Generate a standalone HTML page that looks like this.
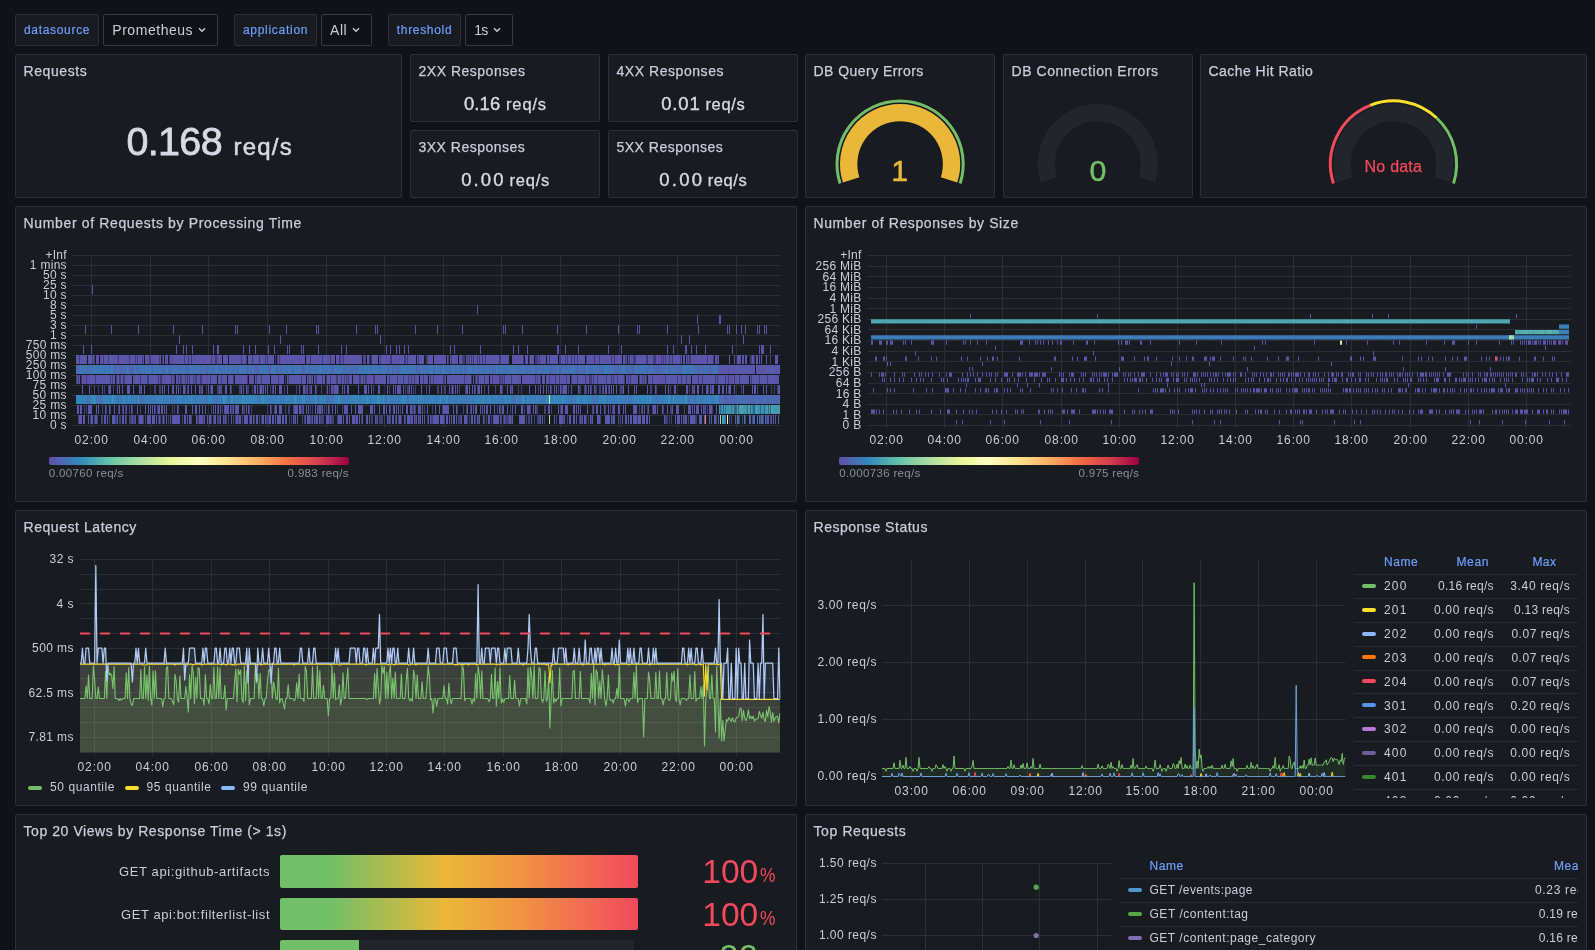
<!DOCTYPE html>
<html lang="en"><head><meta charset="utf-8"><title>Dashboard</title><style>
html,body{margin:0;padding:0;background:#111217;}
body{width:1595px;height:950px;overflow:hidden;position:relative;font-family:"Liberation Sans",sans-serif;}
#r{position:absolute;left:0;top:0;width:1595px;height:950px;overflow:hidden;background:#111217;will-change:transform;}
.p{position:absolute;box-sizing:border-box;background:#181b1f;border:1px solid #2e3036;border-radius:2px;}
.t{position:absolute;white-space:nowrap;line-height:1;display:block;}
.a{position:absolute;overflow:visible;}
.o{position:absolute;width:0;height:0;}
.vl{position:absolute;top:14px;height:32px;box-sizing:border-box;background:#181b1f;border:1px solid #2e3036;border-radius:2px;}
.vv{position:absolute;top:14px;height:32px;box-sizing:border-box;background:#111217;border:1px solid #383a42;border-radius:2px;}
svg text{font-family:"Liberation Sans",sans-serif;}
</style></head><body><div id="r">
<header class="o" style="left:0;top:0">
<div class="vl" style="left:15px;width:83.5px"></div>
<span class="t" style="left:24px;top:24.1px;font-size:12px;color:#6e9fff;letter-spacing:0.681px;-webkit-text-stroke:.2px #6e9fff;">datasource</span>
<div class="vv" style="left:103px;width:114.7px"></div>
<span class="t" style="left:112.3px;top:22.7px;font-size:14px;color:#ccccdc;letter-spacing:0.536px;">Prometheus</span>
<svg class="a" style="left:197px;top:26px" width="10" height="8" viewBox="0 0 10 8"><path d="M2 2.3 L5 5.3 L8 2.3" fill="none" stroke="#ccccdc" stroke-width="1.4"/></svg>
<div class="vl" style="left:234px;width:83px"></div>
<span class="t" style="left:242.9px;top:24.1px;font-size:12px;color:#6e9fff;letter-spacing:0.723px;-webkit-text-stroke:.2px #6e9fff;">application</span>
<div class="vv" style="left:321px;width:50.7px"></div>
<span class="t" style="left:330px;top:22.7px;font-size:14px;color:#ccccdc;letter-spacing:0.57px;">All</span>
<svg class="a" style="left:351.2px;top:26px" width="10" height="8" viewBox="0 0 10 8"><path d="M2 2.3 L5 5.3 L8 2.3" fill="none" stroke="#ccccdc" stroke-width="1.4"/></svg>
<div class="vl" style="left:388.3px;width:72.5px"></div>
<span class="t" style="left:396.8px;top:24.1px;font-size:12px;color:#6e9fff;letter-spacing:0.68px;-webkit-text-stroke:.2px #6e9fff;">threshold</span>
<div class="vv" style="left:465.3px;width:47.5px"></div>
<span class="t" style="left:474.2px;top:22.7px;font-size:14px;color:#ccccdc;letter-spacing:-0.785px;">1s</span>
<svg class="a" style="left:492px;top:26px" width="10" height="8" viewBox="0 0 10 8"><path d="M2 2.3 L5 5.3 L8 2.3" fill="none" stroke="#ccccdc" stroke-width="1.4"/></svg>
</header>
<section class="p" style="left:15px;top:54px;width:387px;height:144px"><div class="o" style="left:-16px;top:-55px">
<span class="t" style="left:23.5px;top:63.8px;font-size:14px;color:#ccccdc;letter-spacing:0.58px;-webkit-text-stroke:.25px #ccccdc;">Requests</span>
<span class="t" style="left:126.4px;top:121.75px;font-size:39.5px;color:#d8d9e4;letter-spacing:-0.659px;-webkit-text-stroke:.8px #d8d9e4;">0.168</span>
<span class="t" style="left:233.4px;top:135.1px;font-size:24px;color:#d8d9e4;letter-spacing:1.262px;-webkit-text-stroke:.5px #d8d9e4;">req/s</span>
</div></section>
<section class="p" style="left:410px;top:54px;width:190px;height:68px"><div class="o" style="left:-411px;top:-55px">
<span class="t" style="left:418.5px;top:63.8px;font-size:14px;color:#ccccdc;letter-spacing:0.509px;-webkit-text-stroke:.25px #ccccdc;">2XX Responses</span>
<span class="t" style="left:463.9px;top:94.65px;font-size:18.5px;color:#d8d9e4;letter-spacing:0.099px;-webkit-text-stroke:.4px #d8d9e4;">0.16</span>
<span class="t" style="left:506px;top:96.15px;font-size:16.5px;color:#d8d9e4;letter-spacing:0.855px;-webkit-text-stroke:.3px #d8d9e4;">req/s</span>
</div></section>
<section class="p" style="left:608px;top:54px;width:190px;height:68px"><div class="o" style="left:-609px;top:-55px">
<span class="t" style="left:616.5px;top:63.8px;font-size:14px;color:#ccccdc;letter-spacing:0.551px;-webkit-text-stroke:.25px #ccccdc;">4XX Responses</span>
<span class="t" style="left:661.3px;top:94.65px;font-size:18.5px;color:#d8d9e4;letter-spacing:0.789px;-webkit-text-stroke:.4px #d8d9e4;">0.01</span>
<span class="t" style="left:705.44px;top:96.15px;font-size:16.5px;color:#d8d9e4;letter-spacing:0.674px;-webkit-text-stroke:.3px #d8d9e4;">req/s</span>
</div></section>
<section class="p" style="left:410px;top:130px;width:190px;height:68px"><div class="o" style="left:-411px;top:-131px">
<span class="t" style="left:418.5px;top:139.8px;font-size:14px;color:#ccccdc;letter-spacing:0.493px;-webkit-text-stroke:.25px #ccccdc;">3XX Responses</span>
<span class="t" style="left:461.18px;top:170.65px;font-size:18.5px;color:#d8d9e4;letter-spacing:2.127px;-webkit-text-stroke:.4px #d8d9e4;">0.00</span>
<span class="t" style="left:509.58px;top:172.15px;font-size:16.5px;color:#d8d9e4;letter-spacing:0.736px;-webkit-text-stroke:.3px #d8d9e4;">req/s</span>
</div></section>
<section class="p" style="left:608px;top:130px;width:190px;height:68px"><div class="o" style="left:-609px;top:-131px">
<span class="t" style="left:616.5px;top:139.8px;font-size:14px;color:#ccccdc;letter-spacing:0.484px;-webkit-text-stroke:.25px #ccccdc;">5XX Responses</span>
<span class="t" style="left:659.29px;top:170.65px;font-size:18.5px;color:#d8d9e4;letter-spacing:2.21px;-webkit-text-stroke:.4px #d8d9e4;">0.00</span>
<span class="t" style="left:707.7px;top:172.15px;font-size:16.5px;color:#d8d9e4;letter-spacing:0.611px;-webkit-text-stroke:.3px #d8d9e4;">req/s</span>
</div></section>
<section class="p" style="left:805px;top:54px;width:190px;height:144px"><div class="o" style="left:-806px;top:-55px">
<span class="t" style="left:813.5px;top:63.8px;font-size:14px;color:#ccccdc;letter-spacing:0.453px;-webkit-text-stroke:.25px #ccccdc;">DB Query Errors</span>
<svg class="a" style="left:0;top:0" width="1595" height="210"><path d="M851.17 179.9 A51.45 51.45 0 1 1 949.03 179.9" fill="none" stroke="#22252b" stroke-width="17.3"/><path d="M851.17 179.9 A51.45 51.45 0 1 1 949.03 179.9" fill="none" stroke="#eab839" stroke-width="17.3"/><path d="M840.09 183.5 A63.1 63.1 0 1 1 960.11 183.5" fill="none" stroke="#73bf69" stroke-width="3"/></svg>
<span class="t" style="left:891.18px;top:156.35px;font-size:30.3px;color:#eab839;-webkit-text-stroke:.5px #eab839;">1</span>
</div></section>
<section class="p" style="left:1003px;top:54px;width:190px;height:144px"><div class="o" style="left:-1004px;top:-55px">
<span class="t" style="left:1011.5px;top:63.8px;font-size:14px;color:#ccccdc;letter-spacing:0.55px;-webkit-text-stroke:.25px #ccccdc;">DB Connection Errors</span>
<svg class="a" style="left:0;top:0" width="1595" height="210"><path d="M1048.77 179.9 A51.45 51.45 0 1 1 1146.63 179.9" fill="none" stroke="#22252b" stroke-width="17.3"/></svg>
<span class="t" style="left:1089.48px;top:156.35px;font-size:30.3px;color:#73bf69;-webkit-text-stroke:.5px #73bf69;">0</span>
</div></section>
<section class="p" style="left:1200px;top:54px;width:387px;height:144px"><div class="o" style="left:-1201px;top:-55px">
<span class="t" style="left:1208.5px;top:63.8px;font-size:14px;color:#ccccdc;letter-spacing:0.454px;-webkit-text-stroke:.25px #ccccdc;">Cache Hit Ratio</span>
<svg class="a" style="left:0;top:0" width="1595" height="210"><path d="M1344.57 179.9 A51.45 51.45 0 1 1 1442.43 179.9" fill="none" stroke="#22252b" stroke-width="17.3"/><path d="M1333.49 183.5 A63.1 63.1 0 0 1 1370.27 105.33" fill="none" stroke="#f2495c" stroke-width="3"/><path d="M1370.27 105.33 A63.1 63.1 0 0 1 1436.69 118" fill="none" stroke="#fade2a" stroke-width="3"/><path d="M1436.69 118 A63.1 63.1 0 0 1 1453.51 183.5" fill="none" stroke="#73bf69" stroke-width="3"/></svg>
<span class="t" style="left:1364.6px;top:159.4px;font-size:16px;color:#f2495c;letter-spacing:0.211px;-webkit-text-stroke:.25px #f2495c;">No data</span>
</div></section>
<section class="p" style="left:15px;top:206px;width:782px;height:296px"><div class="o" style="left:-16px;top:-207px">
<span class="t" style="left:23.5px;top:215.8px;font-size:14px;color:#ccccdc;letter-spacing:0.649px;-webkit-text-stroke:.25px #ccccdc;">Number of Requests by Processing Time</span>
<svg class="a" style="left:0;top:0" width="1595" height="950" viewBox="0 0 1595 950"><path d="M72 255.5H780.5M72 265.5H780.5M72 275.5H780.5M72 285.5H780.5M72 295.5H780.5M72 305.5H780.5M72 315.5H780.5M72 325.5H780.5M72 335.5H780.5M72 345.5H780.5M72 355.5H780.5M72 365.5H780.5M72 375.5H780.5M72 385.5H780.5M72 395.5H780.5M72 405.5H780.5M72 415.5H780.5M72 425.5H780.5M91.5 255.5V428.5M150.5 255.5V428.5M208.5 255.5V428.5M267.5 255.5V428.5M326.5 255.5V428.5M384.5 255.5V428.5M443.5 255.5V428.5M501.5 255.5V428.5M560.5 255.5V428.5M619.5 255.5V428.5M677.5 255.5V428.5M736.5 255.5V428.5" stroke="#2b2e33" stroke-width="1" fill="none"/><path fill="#5b57ac" d="M76 355h3v9h-3zM80 355h6v9h-6zM89 355h3v9h-3zM93 355h1v9h-1zM104 355h4v9h-4zM109 355h7v9h-7zM119 355h7v9h-7zM127 355h2v9h-2zM130 355h1v9h-1zM132 355h3v9h-3zM138 355h2v9h-2zM143 355h1v9h-1zM145 355h2v9h-2zM148 355h1v9h-1zM151 355h1v9h-1zM155 355h4v9h-4zM160 355h1v9h-1zM163 355h1v9h-1zM165 355h1v9h-1zM167 355h1v9h-1zM174 355h8v9h-8zM183 355h1v9h-1zM185 355h3v9h-3zM189 355h2v9h-2zM192 355h2v9h-2zM196 355h7v9h-7zM204 355h2v9h-2zM207 355h4v9h-4zM212 355h1v9h-1zM219 355h2v9h-2zM223 355h5v9h-5zM230 355h4v9h-4zM235 355h5v9h-5zM242 355h4v9h-4zM248 355h4v9h-4zM253 355h6v9h-6zM260 355h5v9h-5zM266 355h1v9h-1zM268 355h4v9h-4zM273 355h1v9h-1zM278 355h1v9h-1zM282 355h2v9h-2zM285 355h7v9h-7zM293 355h6v9h-6zM301 355h4v9h-4zM308 355h1v9h-1zM311 355h6v9h-6zM319 355h3v9h-3zM323 355h3v9h-3zM334 355h1v9h-1zM336 355h3v9h-3zM345 355h2v9h-2zM349 355h11v9h-11zM361 355h1v9h-1zM364 355h1v9h-1zM367 355h2v9h-2zM372 355h6v9h-6zM379 355h1v9h-1zM381 355h4v9h-4zM387 355h3v9h-3zM392 355h3v9h-3zM396 355h2v9h-2zM400 355h4v9h-4zM406 355h1v9h-1zM408 355h8v9h-8zM417 355h1v9h-1zM419 355h5v9h-5zM429 355h4v9h-4zM434 355h3v9h-3zM438 355h5v9h-5zM445 355h1v9h-1zM447 355h1v9h-1zM450 355h1v9h-1zM452 355h3v9h-3zM457 355h1v9h-1zM460 355h2v9h-2zM468 355h1v9h-1zM470 355h1v9h-1zM474 355h3v9h-3zM478 355h1v9h-1zM480 355h2v9h-2zM483 355h2v9h-2zM486 355h5v9h-5zM492 355h2v9h-2zM495 355h4v9h-4zM501 355h1v9h-1zM503 355h4v9h-4zM508 355h1v9h-1zM516 355h3v9h-3zM521 355h2v9h-2zM526 355h2v9h-2zM530 355h4v9h-4zM540 355h1v9h-1zM545 355h1v9h-1zM547 355h2v9h-2zM550 355h8v9h-8zM561 355h4v9h-4zM566 355h1v9h-1zM568 355h3v9h-3zM573 355h1v9h-1zM575 355h2v9h-2zM578 355h7v9h-7zM587 355h2v9h-2zM590 355h2v9h-2zM598 355h1v9h-1zM600 355h7v9h-7zM608 355h3v9h-3zM615 355h1v9h-1zM617 355h5v9h-5zM623 355h2v9h-2zM626 355h1v9h-1zM632 355h1v9h-1zM636 355h10v9h-10zM648 355h5v9h-5zM660 355h1v9h-1zM662 355h1v9h-1zM664 355h1v9h-1zM666 355h3v9h-3zM670 355h1v9h-1zM673 355h3v9h-3zM677 355h3v9h-3zM681 355h1v9h-1zM684 355h1v9h-1zM686 355h1v9h-1zM691 355h2v9h-2zM696 355h5v9h-5zM703 355h3v9h-3zM708 355h3v9h-3zM715 355h2v9h-2zM718 355h1v9h-1zM729 355h1v9h-1zM734 355h1v9h-1zM737 355h3v9h-3zM742 355h2v9h-2zM745 355h2v9h-2zM752 355h1v9h-1zM756 355h2v9h-2zM759 355h1v9h-1zM761 355h1v9h-1zM766 355h1v9h-1zM775 355h3v9h-3zM719 365h9v9h-9zM730 365h1v9h-1zM732 365h5v9h-5zM739 365h1v9h-1zM743 365h5v9h-5zM751 365h1v9h-1zM753 365h2v9h-2zM757 365h1v9h-1zM759 365h3v9h-3zM763 365h8v9h-8zM774 365h4v9h-4zM77 375h1v9h-1zM79 375h1v9h-1zM90 375h5v9h-5zM96 375h1v9h-1zM98 375h12v9h-12zM111 375h1v9h-1zM113 375h2v9h-2zM117 375h2v9h-2zM122 375h1v9h-1zM125 375h7v9h-7zM136 375h3v9h-3zM141 375h6v9h-6zM149 375h8v9h-8zM159 375h1v9h-1zM166 375h5v9h-5zM176 375h1v9h-1zM179 375h1v9h-1zM182 375h3v9h-3zM186 375h1v9h-1zM190 375h3v9h-3zM194 375h1v9h-1zM197 375h1v9h-1zM203 375h3v9h-3zM208 375h2v9h-2zM211 375h6v9h-6zM218 375h3v9h-3zM222 375h5v9h-5zM228 375h1v9h-1zM230 375h3v9h-3zM235 375h4v9h-4zM240 375h6v9h-6zM253 375h1v9h-1zM255 375h1v9h-1zM257 375h4v9h-4zM262 375h8v9h-8zM271 375h2v9h-2zM274 375h4v9h-4zM279 375h5v9h-5zM287 375h1v9h-1zM289 375h4v9h-4zM294 375h7v9h-7zM302 375h4v9h-4zM307 375h1v9h-1zM309 375h2v9h-2zM312 375h1v9h-1zM314 375h1v9h-1zM317 375h5v9h-5zM323 375h2v9h-2zM327 375h3v9h-3zM331 375h3v9h-3zM335 375h1v9h-1zM338 375h3v9h-3zM342 375h2v9h-2zM345 375h1v9h-1zM350 375h2v9h-2zM353 375h1v9h-1zM355 375h4v9h-4zM361 375h2v9h-2zM364 375h1v9h-1zM367 375h1v9h-1zM370 375h3v9h-3zM377 375h2v9h-2zM380 375h6v9h-6zM387 375h2v9h-2zM391 375h6v9h-6zM398 375h5v9h-5zM404 375h4v9h-4zM409 375h2v9h-2zM412 375h2v9h-2zM416 375h3v9h-3zM420 375h3v9h-3zM424 375h3v9h-3zM429 375h1v9h-1zM431 375h2v9h-2zM434 375h2v9h-2zM437 375h6v9h-6zM445 375h1v9h-1zM447 375h13v9h-13zM461 375h3v9h-3zM465 375h1v9h-1zM468 375h2v9h-2zM473 375h1v9h-1zM476 375h1v9h-1zM479 375h1v9h-1zM481 375h3v9h-3zM485 375h1v9h-1zM487 375h2v9h-2zM490 375h2v9h-2zM493 375h1v9h-1zM498 375h1v9h-1zM505 375h6v9h-6zM512 375h6v9h-6zM520 375h1v9h-1zM522 375h2v9h-2zM527 375h5v9h-5zM536 375h1v9h-1zM538 375h2v9h-2zM542 375h3v9h-3zM546 375h3v9h-3zM550 375h4v9h-4zM556 375h3v9h-3zM560 375h2v9h-2zM564 375h2v9h-2zM567 375h3v9h-3zM572 375h5v9h-5zM578 375h7v9h-7zM588 375h1v9h-1zM592 375h1v9h-1zM594 375h3v9h-3zM598 375h6v9h-6zM605 375h1v9h-1zM607 375h4v9h-4zM612 375h1v9h-1zM614 375h3v9h-3zM618 375h6v9h-6zM629 375h1v9h-1zM632 375h3v9h-3zM637 375h1v9h-1zM640 375h2v9h-2zM643 375h1v9h-1zM645 375h1v9h-1zM650 375h2v9h-2zM653 375h5v9h-5zM659 375h1v9h-1zM661 375h1v9h-1zM664 375h1v9h-1zM666 375h11v9h-11zM678 375h2v9h-2zM682 375h4v9h-4zM687 375h4v9h-4zM692 375h6v9h-6zM699 375h2v9h-2zM703 375h6v9h-6zM710 375h5v9h-5zM716 375h1v9h-1zM718 375h7v9h-7zM733 375h1v9h-1zM735 375h4v9h-4zM740 375h9v9h-9zM750 375h1v9h-1zM752 375h7v9h-7zM760 375h7v9h-7zM768 375h1v9h-1zM770 375h5v9h-5zM778 375h1v9h-1zM82 385h1v9h-1zM89 385h1v9h-1zM109 385h2v9h-2zM119 385h1v9h-1zM122 385h1v9h-1zM127 385h3v9h-3zM133 385h1v9h-1zM139 385h1v9h-1zM144 385h1v9h-1zM162 385h1v9h-1zM164 385h1v9h-1zM168 385h1v9h-1zM172 385h2v9h-2zM176 385h1v9h-1zM178 385h1v9h-1zM183 385h2v9h-2zM188 385h1v9h-1zM191 385h1v9h-1zM199 385h1v9h-1zM202 385h1v9h-1zM208 385h1v9h-1zM211 385h2v9h-2zM219 385h1v9h-1zM225 385h2v9h-2zM230 385h1v9h-1zM241 385h1v9h-1zM243 385h1v9h-1zM246 385h1v9h-1zM254 385h2v9h-2zM257 385h1v9h-1zM260 385h2v9h-2zM263 385h1v9h-1zM265 385h1v9h-1zM267 385h1v9h-1zM273 385h1v9h-1zM275 385h1v9h-1zM279 385h1v9h-1zM287 385h1v9h-1zM303 385h2v9h-2zM311 385h1v9h-1zM315 385h1v9h-1zM334 385h4v9h-4zM342 385h1v9h-1zM358 385h1v9h-1zM364 385h3v9h-3zM368 385h1v9h-1zM371 385h1v9h-1zM379 385h1v9h-1zM387 385h1v9h-1zM393 385h1v9h-1zM397 385h1v9h-1zM399 385h2v9h-2zM403 385h1v9h-1zM409 385h1v9h-1zM411 385h1v9h-1zM421 385h1v9h-1zM429 385h1v9h-1zM441 385h1v9h-1zM452 385h1v9h-1zM457 385h1v9h-1zM467 385h1v9h-1zM469 385h1v9h-1zM472 385h1v9h-1zM474 385h1v9h-1zM478 385h2v9h-2zM481 385h1v9h-1zM488 385h1v9h-1zM500 385h2v9h-2zM510 385h1v9h-1zM529 385h1v9h-1zM535 385h1v9h-1zM540 385h1v9h-1zM543 385h1v9h-1zM546 385h1v9h-1zM550 385h1v9h-1zM554 385h1v9h-1zM556 385h1v9h-1zM560 385h1v9h-1zM563 385h4v9h-4zM578 385h1v9h-1zM585 385h1v9h-1zM588 385h1v9h-1zM590 385h1v9h-1zM603 385h1v9h-1zM605 385h2v9h-2zM609 385h1v9h-1zM611 385h1v9h-1zM613 385h1v9h-1zM616 385h1v9h-1zM623 385h1v9h-1zM634 385h1v9h-1zM636 385h1v9h-1zM647 385h1v9h-1zM655 385h1v9h-1zM665 385h1v9h-1zM674 385h2v9h-2zM686 385h2v9h-2zM692 385h1v9h-1zM697 385h2v9h-2zM707 385h1v9h-1zM710 385h1v9h-1zM712 385h2v9h-2zM718 385h2v9h-2zM722 385h1v9h-1zM729 385h2v9h-2zM734 385h1v9h-1zM743 385h1v9h-1zM752 385h1v9h-1zM754 385h2v9h-2zM766 385h1v9h-1zM778 385h2v9h-2zM77 405h2v9h-2zM80 405h2v9h-2zM88 405h4v9h-4zM96 405h1v9h-1zM98 405h1v9h-1zM105 405h1v9h-1zM123 405h1v9h-1zM126 405h1v9h-1zM145 405h1v9h-1zM148 405h1v9h-1zM150 405h1v9h-1zM154 405h1v9h-1zM158 405h2v9h-2zM161 405h1v9h-1zM164 405h1v9h-1zM166 405h1v9h-1zM177 405h1v9h-1zM192 405h1v9h-1zM195 405h2v9h-2zM199 405h1v9h-1zM202 405h1v9h-1zM215 405h1v9h-1zM218 405h1v9h-1zM220 405h1v9h-1zM225 405h4v9h-4zM230 405h1v9h-1zM233 405h1v9h-1zM235 405h2v9h-2zM238 405h1v9h-1zM242 405h1v9h-1zM248 405h1v9h-1zM275 405h2v9h-2zM279 405h2v9h-2zM294 405h4v9h-4zM299 405h2v9h-2zM306 405h1v9h-1zM308 405h1v9h-1zM315 405h1v9h-1zM317 405h1v9h-1zM320 405h1v9h-1zM322 405h1v9h-1zM328 405h1v9h-1zM345 405h1v9h-1zM351 405h1v9h-1zM355 405h1v9h-1zM358 405h5v9h-5zM370 405h3v9h-3zM374 405h1v9h-1zM383 405h2v9h-2zM386 405h1v9h-1zM393 405h2v9h-2zM398 405h1v9h-1zM402 405h1v9h-1zM406 405h2v9h-2zM410 405h2v9h-2zM414 405h1v9h-1zM420 405h1v9h-1zM422 405h1v9h-1zM427 405h1v9h-1zM435 405h1v9h-1zM439 405h1v9h-1zM444 405h5v9h-5zM453 405h1v9h-1zM456 405h1v9h-1zM467 405h1v9h-1zM471 405h1v9h-1zM475 405h2v9h-2zM480 405h1v9h-1zM482 405h1v9h-1zM484 405h1v9h-1zM487 405h1v9h-1zM490 405h1v9h-1zM494 405h1v9h-1zM499 405h1v9h-1zM502 405h2v9h-2zM507 405h1v9h-1zM512 405h1v9h-1zM515 405h1v9h-1zM521 405h2v9h-2zM527 405h2v9h-2zM533 405h1v9h-1zM548 405h1v9h-1zM558 405h1v9h-1zM562 405h1v9h-1zM565 405h2v9h-2zM573 405h2v9h-2zM576 405h1v9h-1zM587 405h1v9h-1zM593 405h1v9h-1zM596 405h2v9h-2zM600 405h1v9h-1zM604 405h1v9h-1zM608 405h1v9h-1zM619 405h1v9h-1zM623 405h1v9h-1zM625 405h1v9h-1zM634 405h3v9h-3zM642 405h1v9h-1zM644 405h1v9h-1zM655 405h1v9h-1zM662 405h1v9h-1zM667 405h1v9h-1zM672 405h1v9h-1zM677 405h1v9h-1zM688 405h3v9h-3zM692 405h1v9h-1zM694 405h1v9h-1zM697 405h1v9h-1zM701 405h1v9h-1zM705 405h1v9h-1zM711 405h1v9h-1zM716 405h1v9h-1zM79 415h3v9h-3zM83 415h2v9h-2zM88 415h1v9h-1zM91 415h2v9h-2zM96 415h1v9h-1zM104 415h2v9h-2zM114 415h1v9h-1zM117 415h1v9h-1zM122 415h1v9h-1zM125 415h1v9h-1zM132 415h1v9h-1zM140 415h3v9h-3zM147 415h3v9h-3zM153 415h1v9h-1zM156 415h1v9h-1zM159 415h1v9h-1zM166 415h1v9h-1zM170 415h1v9h-1zM172 415h5v9h-5zM178 415h2v9h-2zM184 415h2v9h-2zM187 415h1v9h-1zM189 415h2v9h-2zM204 415h1v9h-1zM207 415h1v9h-1zM209 415h2v9h-2zM223 415h1v9h-1zM225 415h1v9h-1zM231 415h1v9h-1zM236 415h2v9h-2zM239 415h2v9h-2zM245 415h2v9h-2zM250 415h2v9h-2zM253 415h1v9h-1zM256 415h1v9h-1zM262 415h1v9h-1zM265 415h1v9h-1zM269 415h1v9h-1zM272 415h2v9h-2zM275 415h1v9h-1zM277 415h4v9h-4zM285 415h2v9h-2zM293 415h1v9h-1zM295 415h1v9h-1zM297 415h1v9h-1zM305 415h1v9h-1zM308 415h1v9h-1zM316 415h2v9h-2zM326 415h3v9h-3zM330 415h1v9h-1zM338 415h2v9h-2zM346 415h1v9h-1zM352 415h3v9h-3zM356 415h1v9h-1zM362 415h1v9h-1zM366 415h2v9h-2zM369 415h1v9h-1zM375 415h1v9h-1zM377 415h1v9h-1zM387 415h1v9h-1zM389 415h1v9h-1zM392 415h1v9h-1zM396 415h1v9h-1zM400 415h1v9h-1zM404 415h1v9h-1zM409 415h1v9h-1zM411 415h2v9h-2zM414 415h1v9h-1zM416 415h1v9h-1zM418 415h1v9h-1zM420 415h1v9h-1zM422 415h1v9h-1zM424 415h1v9h-1zM428 415h1v9h-1zM433 415h6v9h-6zM442 415h2v9h-2zM446 415h2v9h-2zM449 415h1v9h-1zM461 415h1v9h-1zM464 415h3v9h-3zM471 415h2v9h-2zM474 415h1v9h-1zM479 415h1v9h-1zM488 415h2v9h-2zM493 415h6v9h-6zM500 415h1v9h-1zM504 415h1v9h-1zM509 415h1v9h-1zM519 415h2v9h-2zM522 415h3v9h-3zM531 415h1v9h-1zM554 415h1v9h-1zM559 415h4v9h-4zM564 415h1v9h-1zM569 415h2v9h-2zM573 415h2v9h-2zM576 415h1v9h-1zM580 415h1v9h-1zM582 415h1v9h-1zM584 415h2v9h-2zM592 415h1v9h-1zM598 415h2v9h-2zM605 415h2v9h-2zM609 415h1v9h-1zM611 415h1v9h-1zM613 415h2v9h-2zM625 415h2v9h-2zM628 415h1v9h-1zM630 415h2v9h-2zM634 415h2v9h-2zM638 415h1v9h-1zM640 415h1v9h-1zM642 415h3v9h-3zM646 415h2v9h-2zM649 415h1v9h-1zM664 415h1v9h-1zM675 415h1v9h-1zM677 415h3v9h-3zM681 415h1v9h-1zM685 415h2v9h-2zM690 415h5v9h-5zM699 415h3v9h-3zM705 415h1v9h-1zM709 415h1v9h-1zM711 415h1v9h-1zM767 415h2v9h-2zM771 415h1v9h-1zM773 415h1v9h-1zM775 415h1v9h-1zM778 415h1v9h-1z"/><path fill="#414076" d="M79 355h1v9h-1zM92 355h1v9h-1zM94 355h1v9h-1zM103 355h1v9h-1zM108 355h1v9h-1zM129 355h1v9h-1zM135 355h1v9h-1zM137 355h1v9h-1zM149 355h2v9h-2zM159 355h1v9h-1zM162 355h1v9h-1zM169 355h1v9h-1zM184 355h1v9h-1zM188 355h1v9h-1zM191 355h1v9h-1zM211 355h1v9h-1zM215 355h1v9h-1zM241 355h1v9h-1zM246 355h1v9h-1zM252 355h1v9h-1zM265 355h1v9h-1zM267 355h1v9h-1zM275 355h1v9h-1zM277 355h1v9h-1zM279 355h1v9h-1zM322 355h1v9h-1zM330 355h1v9h-1zM339 355h2v9h-2zM363 355h1v9h-1zM365 355h1v9h-1zM369 355h1v9h-1zM371 355h1v9h-1zM380 355h1v9h-1zM391 355h1v9h-1zM404 355h2v9h-2zM418 355h1v9h-1zM426 355h2v9h-2zM448 355h1v9h-1zM451 355h1v9h-1zM462 355h2v9h-2zM467 355h1v9h-1zM469 355h1v9h-1zM471 355h1v9h-1zM477 355h1v9h-1zM479 355h1v9h-1zM482 355h1v9h-1zM500 355h1v9h-1zM523 355h1v9h-1zM529 355h1v9h-1zM535 355h3v9h-3zM539 355h1v9h-1zM549 355h1v9h-1zM559 355h2v9h-2zM565 355h1v9h-1zM567 355h1v9h-1zM574 355h1v9h-1zM577 355h1v9h-1zM586 355h1v9h-1zM599 355h1v9h-1zM611 355h1v9h-1zM625 355h1v9h-1zM633 355h3v9h-3zM646 355h2v9h-2zM653 355h2v9h-2zM661 355h1v9h-1zM663 355h1v9h-1zM665 355h1v9h-1zM669 355h1v9h-1zM672 355h1v9h-1zM680 355h1v9h-1zM687 355h1v9h-1zM690 355h1v9h-1zM707 355h1v9h-1zM713 355h1v9h-1zM717 355h1v9h-1zM750 355h2v9h-2zM754 355h1v9h-1zM770 355h1v9h-1zM76 375h1v9h-1zM78 375h1v9h-1zM95 375h1v9h-1zM110 375h1v9h-1zM112 375h1v9h-1zM116 375h1v9h-1zM123 375h2v9h-2zM147 375h2v9h-2zM160 375h1v9h-1zM171 375h1v9h-1zM180 375h2v9h-2zM185 375h1v9h-1zM189 375h1v9h-1zM193 375h1v9h-1zM195 375h2v9h-2zM210 375h1v9h-1zM221 375h1v9h-1zM233 375h1v9h-1zM256 375h1v9h-1zM261 375h1v9h-1zM278 375h1v9h-1zM285 375h1v9h-1zM288 375h1v9h-1zM301 375h1v9h-1zM308 375h1v9h-1zM311 375h1v9h-1zM315 375h2v9h-2zM322 375h1v9h-1zM326 375h1v9h-1zM330 375h1v9h-1zM336 375h2v9h-2zM341 375h1v9h-1zM344 375h1v9h-1zM346 375h1v9h-1zM359 375h2v9h-2zM363 375h1v9h-1zM365 375h2v9h-2zM373 375h2v9h-2zM389 375h1v9h-1zM397 375h1v9h-1zM403 375h1v9h-1zM408 375h1v9h-1zM411 375h1v9h-1zM430 375h1v9h-1zM433 375h1v9h-1zM443 375h2v9h-2zM464 375h1v9h-1zM475 375h1v9h-1zM477 375h2v9h-2zM484 375h1v9h-1zM499 375h2v9h-2zM504 375h1v9h-1zM511 375h1v9h-1zM535 375h1v9h-1zM537 375h1v9h-1zM540 375h1v9h-1zM549 375h1v9h-1zM555 375h1v9h-1zM559 375h1v9h-1zM566 375h1v9h-1zM571 375h1v9h-1zM577 375h1v9h-1zM589 375h3v9h-3zM593 375h1v9h-1zM597 375h1v9h-1zM606 375h1v9h-1zM611 375h1v9h-1zM613 375h1v9h-1zM617 375h1v9h-1zM624 375h1v9h-1zM628 375h1v9h-1zM639 375h1v9h-1zM642 375h1v9h-1zM644 375h1v9h-1zM646 375h1v9h-1zM652 375h1v9h-1zM665 375h1v9h-1zM677 375h1v9h-1zM681 375h1v9h-1zM686 375h1v9h-1zM698 375h1v9h-1zM702 375h1v9h-1zM715 375h1v9h-1zM717 375h1v9h-1zM728 375h1v9h-1zM739 375h1v9h-1zM751 375h1v9h-1zM759 375h1v9h-1zM767 375h1v9h-1zM94 385h1v9h-1zM104 385h1v9h-1zM108 385h1v9h-1zM113 385h1v9h-1zM155 385h1v9h-1zM159 385h2v9h-2zM180 385h1v9h-1zM185 385h1v9h-1zM187 385h1v9h-1zM200 385h2v9h-2zM210 385h1v9h-1zM220 385h1v9h-1zM231 385h1v9h-1zM239 385h1v9h-1zM247 385h2v9h-2zM252 385h1v9h-1zM259 385h1v9h-1zM262 385h1v9h-1zM270 385h1v9h-1zM272 385h1v9h-1zM296 385h1v9h-1zM305 385h1v9h-1zM310 385h1v9h-1zM316 385h1v9h-1zM321 385h1v9h-1zM333 385h1v9h-1zM338 385h1v9h-1zM373 385h1v9h-1zM389 385h1v9h-1zM405 385h1v9h-1zM408 385h1v9h-1zM413 385h1v9h-1zM415 385h1v9h-1zM426 385h1v9h-1zM438 385h1v9h-1zM445 385h1v9h-1zM451 385h1v9h-1zM453 385h1v9h-1zM459 385h1v9h-1zM465 385h1v9h-1zM475 385h1v9h-1zM477 385h1v9h-1zM484 385h1v9h-1zM495 385h1v9h-1zM511 385h1v9h-1zM518 385h1v9h-1zM521 385h1v9h-1zM538 385h1v9h-1zM548 385h1v9h-1zM551 385h1v9h-1zM558 385h1v9h-1zM561 385h2v9h-2zM568 385h1v9h-1zM579 385h2v9h-2zM584 385h1v9h-1zM586 385h1v9h-1zM591 385h1v9h-1zM599 385h2v9h-2zM602 385h1v9h-1zM608 385h1v9h-1zM620 385h3v9h-3zM650 385h2v9h-2zM670 385h1v9h-1zM693 385h1v9h-1zM708 385h1v9h-1zM711 385h1v9h-1zM728 385h1v9h-1zM757 385h1v9h-1zM771 385h1v9h-1zM777 385h1v9h-1zM84 405h1v9h-1zM86 405h1v9h-1zM102 405h1v9h-1zM106 405h1v9h-1zM110 405h1v9h-1zM118 405h1v9h-1zM122 405h1v9h-1zM140 405h1v9h-1zM155 405h1v9h-1zM157 405h1v9h-1zM172 405h1v9h-1zM174 405h1v9h-1zM178 405h1v9h-1zM211 405h1v9h-1zM217 405h1v9h-1zM222 405h1v9h-1zM231 405h2v9h-2zM243 405h2v9h-2zM249 405h1v9h-1zM267 405h1v9h-1zM271 405h1v9h-1zM274 405h1v9h-1zM285 405h1v9h-1zM288 405h2v9h-2zM293 405h1v9h-1zM301 405h1v9h-1zM312 405h1v9h-1zM318 405h1v9h-1zM321 405h1v9h-1zM324 405h1v9h-1zM326 405h1v9h-1zM329 405h1v9h-1zM337 405h1v9h-1zM342 405h1v9h-1zM390 405h1v9h-1zM400 405h1v9h-1zM412 405h2v9h-2zM415 405h1v9h-1zM424 405h1v9h-1zM432 405h1v9h-1zM442 405h1v9h-1zM457 405h1v9h-1zM463 405h1v9h-1zM466 405h1v9h-1zM470 405h1v9h-1zM497 405h1v9h-1zM500 405h1v9h-1zM510 405h1v9h-1zM524 405h1v9h-1zM530 405h1v9h-1zM544 405h2v9h-2zM592 405h1v9h-1zM605 405h1v9h-1zM610 405h1v9h-1zM612 405h1v9h-1zM641 405h1v9h-1zM647 405h1v9h-1zM652 405h1v9h-1zM663 405h1v9h-1zM671 405h1v9h-1zM684 405h1v9h-1zM707 405h1v9h-1zM78 415h1v9h-1zM90 415h1v9h-1zM94 415h1v9h-1zM97 415h1v9h-1zM102 415h1v9h-1zM109 415h1v9h-1zM115 415h2v9h-2zM126 415h1v9h-1zM131 415h1v9h-1zM133 415h2v9h-2zM138 415h1v9h-1zM143 415h1v9h-1zM160 415h1v9h-1zM162 415h1v9h-1zM164 415h1v9h-1zM168 415h1v9h-1zM182 415h1v9h-1zM191 415h1v9h-1zM197 415h2v9h-2zM203 415h1v9h-1zM211 415h1v9h-1zM219 415h1v9h-1zM224 415h1v9h-1zM226 415h1v9h-1zM228 415h1v9h-1zM233 415h1v9h-1zM235 415h1v9h-1zM238 415h1v9h-1zM242 415h1v9h-1zM249 415h1v9h-1zM254 415h1v9h-1zM261 415h1v9h-1zM266 415h3v9h-3zM291 415h1v9h-1zM294 415h1v9h-1zM304 415h1v9h-1zM315 415h1v9h-1zM323 415h1v9h-1zM329 415h1v9h-1zM331 415h3v9h-3zM337 415h1v9h-1zM355 415h1v9h-1zM361 415h1v9h-1zM371 415h2v9h-2zM376 415h1v9h-1zM379 415h3v9h-3zM384 415h1v9h-1zM388 415h1v9h-1zM390 415h1v9h-1zM395 415h1v9h-1zM398 415h1v9h-1zM401 415h1v9h-1zM415 415h1v9h-1zM427 415h1v9h-1zM432 415h1v9h-1zM444 415h1v9h-1zM458 415h3v9h-3zM467 415h1v9h-1zM469 415h1v9h-1zM475 415h1v9h-1zM478 415h1v9h-1zM484 415h1v9h-1zM486 415h1v9h-1zM491 415h1v9h-1zM501 415h1v9h-1zM503 415h1v9h-1zM505 415h4v9h-4zM511 415h1v9h-1zM537 415h2v9h-2zM544 415h1v9h-1zM556 415h1v9h-1zM563 415h1v9h-1zM567 415h1v9h-1zM579 415h1v9h-1zM581 415h1v9h-1zM588 415h1v9h-1zM591 415h1v9h-1zM620 415h1v9h-1zM637 415h1v9h-1zM665 415h3v9h-3zM669 415h1v9h-1zM671 415h1v9h-1zM684 415h1v9h-1zM695 415h2v9h-2zM766 415h1v9h-1zM770 415h1v9h-1z"/><path fill="#6150a9" d="M86 355h1v9h-1zM88 355h1v9h-1zM96 355h3v9h-3zM100 355h3v9h-3zM116 355h2v9h-2zM126 355h1v9h-1zM131 355h1v9h-1zM136 355h1v9h-1zM140 355h2v9h-2zM147 355h1v9h-1zM152 355h3v9h-3zM166 355h1v9h-1zM170 355h4v9h-4zM182 355h1v9h-1zM194 355h2v9h-2zM203 355h1v9h-1zM206 355h1v9h-1zM213 355h2v9h-2zM217 355h2v9h-2zM221 355h1v9h-1zM229 355h1v9h-1zM234 355h1v9h-1zM240 355h1v9h-1zM272 355h1v9h-1zM280 355h2v9h-2zM284 355h1v9h-1zM292 355h1v9h-1zM299 355h2v9h-2zM306 355h2v9h-2zM309 355h1v9h-1zM317 355h2v9h-2zM326 355h4v9h-4zM331 355h3v9h-3zM341 355h2v9h-2zM344 355h1v9h-1zM347 355h2v9h-2zM360 355h1v9h-1zM385 355h2v9h-2zM395 355h1v9h-1zM398 355h2v9h-2zM428 355h1v9h-1zM437 355h1v9h-1zM443 355h2v9h-2zM455 355h2v9h-2zM459 355h1v9h-1zM466 355h1v9h-1zM472 355h1v9h-1zM491 355h1v9h-1zM494 355h1v9h-1zM502 355h1v9h-1zM507 355h1v9h-1zM512 355h4v9h-4zM519 355h2v9h-2zM525 355h1v9h-1zM538 355h1v9h-1zM541 355h4v9h-4zM572 355h1v9h-1zM589 355h1v9h-1zM592 355h2v9h-2zM595 355h3v9h-3zM607 355h1v9h-1zM612 355h2v9h-2zM616 355h1v9h-1zM628 355h1v9h-1zM630 355h2v9h-2zM656 355h4v9h-4zM671 355h1v9h-1zM676 355h1v9h-1zM683 355h1v9h-1zM688 355h1v9h-1zM693 355h3v9h-3zM701 355h2v9h-2zM706 355h1v9h-1zM711 355h2v9h-2zM740 355h1v9h-1zM753 355h1v9h-1zM728 365h2v9h-2zM752 365h1v9h-1zM758 365h1v9h-1zM762 365h1v9h-1zM82 375h4v9h-4zM87 375h3v9h-3zM97 375h1v9h-1zM121 375h1v9h-1zM133 375h3v9h-3zM139 375h1v9h-1zM157 375h1v9h-1zM162 375h4v9h-4zM172 375h2v9h-2zM177 375h1v9h-1zM188 375h1v9h-1zM198 375h2v9h-2zM202 375h1v9h-1zM206 375h2v9h-2zM229 375h1v9h-1zM239 375h1v9h-1zM246 375h1v9h-1zM249 375h4v9h-4zM273 375h1v9h-1zM293 375h1v9h-1zM334 375h1v9h-1zM347 375h1v9h-1zM349 375h1v9h-1zM354 375h1v9h-1zM368 375h2v9h-2zM375 375h2v9h-2zM379 375h1v9h-1zM390 375h1v9h-1zM415 375h1v9h-1zM427 375h1v9h-1zM436 375h1v9h-1zM460 375h1v9h-1zM466 375h2v9h-2zM470 375h1v9h-1zM480 375h1v9h-1zM486 375h1v9h-1zM494 375h4v9h-4zM501 375h1v9h-1zM503 375h1v9h-1zM518 375h2v9h-2zM524 375h3v9h-3zM532 375h3v9h-3zM554 375h1v9h-1zM562 375h2v9h-2zM586 375h2v9h-2zM604 375h1v9h-1zM626 375h2v9h-2zM631 375h1v9h-1zM635 375h2v9h-2zM648 375h2v9h-2zM658 375h1v9h-1zM660 375h1v9h-1zM662 375h2v9h-2zM680 375h1v9h-1zM701 375h1v9h-1zM709 375h1v9h-1zM726 375h2v9h-2zM729 375h4v9h-4zM769 375h1v9h-1zM775 375h3v9h-3zM102 385h1v9h-1zM117 385h1v9h-1zM141 385h1v9h-1zM195 385h1v9h-1zM221 385h1v9h-1zM280 385h2v9h-2zM299 385h1v9h-1zM307 385h1v9h-1zM327 385h1v9h-1zM331 385h2v9h-2zM344 385h1v9h-1zM347 385h2v9h-2zM395 385h1v9h-1zM398 385h1v9h-1zM449 385h1v9h-1zM455 385h1v9h-1zM466 385h1v9h-1zM507 385h1v9h-1zM512 385h1v9h-1zM571 385h1v9h-1zM594 385h1v9h-1zM628 385h1v9h-1zM694 385h1v9h-1zM702 385h1v9h-1zM706 385h1v9h-1zM723 385h1v9h-1zM726 385h1v9h-1zM763 385h1v9h-1zM109 405h1v9h-1zM114 405h1v9h-1zM119 405h1v9h-1zM131 405h1v9h-1zM137 405h1v9h-1zM152 405h1v9h-1zM162 405h1v9h-1zM185 405h2v9h-2zM205 405h1v9h-1zM213 405h1v9h-1zM224 405h1v9h-1zM237 405h1v9h-1zM246 405h1v9h-1zM270 405h1v9h-1zM281 405h1v9h-1zM303 405h1v9h-1zM332 405h1v9h-1zM344 405h1v9h-1zM346 405h2v9h-2zM379 405h1v9h-1zM389 405h1v9h-1zM396 405h1v9h-1zM418 405h2v9h-2zM473 405h1v9h-1zM486 405h1v9h-1zM529 405h1v9h-1zM535 405h1v9h-1zM549 405h1v9h-1zM561 405h1v9h-1zM567 405h1v9h-1zM578 405h1v9h-1zM580 405h1v9h-1zM613 405h2v9h-2zM618 405h1v9h-1zM633 405h1v9h-1zM648 405h1v9h-1zM653 405h2v9h-2zM657 405h1v9h-1zM676 405h1v9h-1zM678 405h1v9h-1zM696 405h1v9h-1zM698 405h1v9h-1zM703 405h1v9h-1zM709 405h2v9h-2zM135 415h1v9h-1zM139 415h1v9h-1zM163 415h1v9h-1zM177 415h1v9h-1zM199 415h4v9h-4zM247 415h1v9h-1zM347 415h1v9h-1zM349 415h1v9h-1zM636 415h1v9h-1zM83 345h1v9h-1zM91 345h1v9h-1zM176 345h1v9h-1zM183 345h1v9h-1zM186 345h1v9h-1zM192 345h1v9h-1zM213 345h1v9h-1zM217 345h1v9h-1zM218 345h1v9h-1zM243 345h1v9h-1zM249 345h1v9h-1zM255 345h1v9h-1zM268 345h1v9h-1zM274 345h1v9h-1zM287 345h1v9h-1zM289 345h1v9h-1zM301 345h1v9h-1zM303 345h1v9h-1zM318 345h1v9h-1zM341 345h1v9h-1zM346 345h1v9h-1zM386 345h1v9h-1zM390 345h1v9h-1zM396 345h1v9h-1zM399 345h1v9h-1zM404 345h1v9h-1zM408 345h1v9h-1zM450 345h1v9h-1zM454 345h1v9h-1zM480 345h1v9h-1zM513 345h1v9h-1zM518 345h1v9h-1zM527 345h1v9h-1zM557 345h1v9h-1zM558 345h1v9h-1zM565 345h1v9h-1zM578 345h1v9h-1zM608 345h1v9h-1zM621 345h1v9h-1zM667 345h1v9h-1zM673 345h1v9h-1zM685 345h1v9h-1zM686 345h1v9h-1zM691 345h1v9h-1zM696 345h1v9h-1zM705 345h1v9h-1zM732 345h1v9h-1zM759 345h1v9h-1zM761 345h1v9h-1zM762 345h1v9h-1zM763 345h1v9h-1zM770 345h1v9h-1zM179 335h1v9h-1zM280 335h1v9h-1zM380 335h1v9h-1zM681 335h1v9h-1zM689 335h1v9h-1zM743 335h1v9h-1zM85 325h1v9h-1zM111 325h1v9h-1zM138 325h1v9h-1zM173 325h1v9h-1zM202 325h1v9h-1zM235 325h1v9h-1zM237 325h1v9h-1zM269 325h1v9h-1zM286 325h1v9h-1zM316 325h1v9h-1zM318 325h1v9h-1zM356 325h1v9h-1zM375 325h1v9h-1zM377 325h1v9h-1zM415 325h1v9h-1zM437 325h1v9h-1zM462 325h1v9h-1zM503 325h1v9h-1zM505 325h1v9h-1zM522 325h1v9h-1zM557 325h1v9h-1zM586 325h1v9h-1zM618 325h1v9h-1zM637 325h1v9h-1zM639 325h1v9h-1zM667 325h1v9h-1zM698 325h1v9h-1zM727 325h1v9h-1zM729 325h1v9h-1zM757 325h1v9h-1zM759 325h1v9h-1zM736 325h1v9h-1zM741 325h1v9h-1zM745 325h1v9h-1zM764 325h1v9h-1zM766 325h1v9h-1zM92 285h1v9h-1zM477 305h1v9h-1zM697 315h1v9h-1zM719 315h2v9h-2z"/><path fill="#453b74" d="M118 355h1v9h-1zM142 355h1v9h-1zM216 355h1v9h-1zM259 355h1v9h-1zM310 355h1v9h-1zM343 355h1v9h-1zM390 355h1v9h-1zM407 355h1v9h-1zM464 355h1v9h-1zM473 355h1v9h-1zM485 355h1v9h-1zM499 355h1v9h-1zM571 355h1v9h-1zM594 355h1v9h-1zM614 355h1v9h-1zM629 355h1v9h-1zM655 355h1v9h-1zM689 355h1v9h-1zM81 375h1v9h-1zM86 375h1v9h-1zM119 375h2v9h-2zM140 375h1v9h-1zM158 375h1v9h-1zM161 375h1v9h-1zM174 375h1v9h-1zM178 375h1v9h-1zM187 375h1v9h-1zM200 375h2v9h-2zM247 375h1v9h-1zM348 375h1v9h-1zM414 375h1v9h-1zM423 375h1v9h-1zM471 375h1v9h-1zM492 375h1v9h-1zM502 375h1v9h-1zM585 375h1v9h-1zM630 375h1v9h-1zM725 375h1v9h-1zM734 375h1v9h-1zM98 385h1v9h-1zM140 385h1v9h-1zM154 385h1v9h-1zM206 385h1v9h-1zM217 385h2v9h-2zM240 385h1v9h-1zM284 385h1v9h-1zM306 385h1v9h-1zM309 385h1v9h-1zM329 385h1v9h-1zM407 385h1v9h-1zM437 385h1v9h-1zM444 385h1v9h-1zM502 385h1v9h-1zM595 385h2v9h-2zM656 385h1v9h-1zM689 385h1v9h-1zM741 385h1v9h-1zM774 385h1v9h-1zM125 405h1v9h-1zM129 405h1v9h-1zM132 405h1v9h-1zM251 405h1v9h-1zM302 405h1v9h-1zM310 405h1v9h-1zM536 405h2v9h-2zM551 405h1v9h-1zM560 405h1v9h-1zM639 405h1v9h-1zM670 405h1v9h-1zM704 405h1v9h-1zM712 405h1v9h-1zM119 415h2v9h-2zM158 415h1v9h-1zM526 415h1v9h-1zM534 415h1v9h-1zM586 415h1v9h-1z"/><path fill="#4473b6" d="M76 365h1v9h-1zM82 365h5v9h-5zM90 365h4v9h-4zM96 365h1v9h-1zM104 365h3v9h-3zM108 365h1v9h-1zM110 365h1v9h-1zM117 365h2v9h-2zM123 365h1v9h-1zM126 365h1v9h-1zM128 365h1v9h-1zM134 365h1v9h-1zM139 365h2v9h-2zM145 365h1v9h-1zM147 365h2v9h-2zM153 365h1v9h-1zM155 365h7v9h-7zM165 365h1v9h-1zM172 365h5v9h-5zM179 365h1v9h-1zM189 365h1v9h-1zM193 365h3v9h-3zM197 365h3v9h-3zM201 365h1v9h-1zM203 365h2v9h-2zM209 365h3v9h-3zM220 365h2v9h-2zM223 365h1v9h-1zM225 365h1v9h-1zM227 365h1v9h-1zM229 365h1v9h-1zM231 365h1v9h-1zM235 365h2v9h-2zM238 365h3v9h-3zM242 365h4v9h-4zM250 365h1v9h-1zM252 365h1v9h-1zM260 365h1v9h-1zM262 365h2v9h-2zM266 365h1v9h-1zM271 365h1v9h-1zM275 365h1v9h-1zM279 365h1v9h-1zM282 365h1v9h-1zM287 365h1v9h-1zM290 365h1v9h-1zM296 365h1v9h-1zM298 365h2v9h-2zM305 365h4v9h-4zM311 365h6v9h-6zM318 365h1v9h-1zM323 365h5v9h-5zM334 365h1v9h-1zM337 365h2v9h-2zM340 365h2v9h-2zM348 365h1v9h-1zM353 365h2v9h-2zM358 365h1v9h-1zM360 365h3v9h-3zM366 365h1v9h-1zM370 365h1v9h-1zM372 365h1v9h-1zM375 365h2v9h-2zM378 365h1v9h-1zM385 365h2v9h-2zM390 365h2v9h-2zM394 365h1v9h-1zM400 365h1v9h-1zM404 365h4v9h-4zM410 365h3v9h-3zM415 365h1v9h-1zM420 365h1v9h-1zM422 365h1v9h-1zM424 365h1v9h-1zM427 365h2v9h-2zM435 365h1v9h-1zM437 365h3v9h-3zM442 365h1v9h-1zM444 365h1v9h-1zM447 365h2v9h-2zM451 365h2v9h-2zM462 365h2v9h-2zM466 365h1v9h-1zM468 365h2v9h-2zM474 365h1v9h-1zM476 365h2v9h-2zM479 365h1v9h-1zM481 365h2v9h-2zM485 365h1v9h-1zM487 365h2v9h-2zM490 365h2v9h-2zM495 365h1v9h-1zM497 365h1v9h-1zM499 365h2v9h-2zM505 365h3v9h-3zM510 365h1v9h-1zM513 365h1v9h-1zM515 365h3v9h-3zM521 365h1v9h-1zM524 365h1v9h-1zM528 365h1v9h-1zM532 365h1v9h-1zM534 365h1v9h-1zM538 365h2v9h-2zM541 365h1v9h-1zM543 365h1v9h-1zM545 365h1v9h-1zM547 365h2v9h-2zM553 365h1v9h-1zM557 365h2v9h-2zM568 365h2v9h-2zM571 365h1v9h-1zM573 365h3v9h-3zM579 365h1v9h-1zM585 365h1v9h-1zM588 365h1v9h-1zM600 365h1v9h-1zM603 365h1v9h-1zM609 365h4v9h-4zM625 365h1v9h-1zM629 365h1v9h-1zM637 365h1v9h-1zM640 365h1v9h-1zM642 365h1v9h-1zM645 365h1v9h-1zM649 365h4v9h-4zM662 365h1v9h-1zM665 365h2v9h-2zM671 365h2v9h-2zM674 365h2v9h-2zM682 365h1v9h-1zM685 365h2v9h-2zM688 365h2v9h-2zM693 365h1v9h-1zM705 365h1v9h-1zM708 365h1v9h-1zM714 365h3v9h-3zM86 395h3v9h-3zM99 395h4v9h-4zM117 395h2v9h-2zM126 395h1v9h-1zM131 395h1v9h-1zM136 395h1v9h-1zM140 395h2v9h-2zM154 395h1v9h-1zM166 395h1v9h-1zM170 395h2v9h-2zM182 395h1v9h-1zM194 395h2v9h-2zM203 395h1v9h-1zM206 395h1v9h-1zM213 395h2v9h-2zM216 395h2v9h-2zM221 395h1v9h-1zM280 395h2v9h-2zM284 395h1v9h-1zM299 395h1v9h-1zM306 395h1v9h-1zM309 395h1v9h-1zM317 395h1v9h-1zM328 395h2v9h-2zM331 395h2v9h-2zM343 395h2v9h-2zM347 395h1v9h-1zM385 395h2v9h-2zM390 395h1v9h-1zM395 395h1v9h-1zM398 395h1v9h-1zM407 395h1v9h-1zM449 395h1v9h-1zM455 395h2v9h-2zM466 395h1v9h-1zM473 395h1v9h-1zM491 395h1v9h-1zM494 395h1v9h-1zM499 395h1v9h-1zM502 395h1v9h-1zM512 395h1v9h-1zM519 395h2v9h-2zM542 395h1v9h-1zM544 395h1v9h-1zM571 395h2v9h-2zM593 395h2v9h-2zM596 395h2v9h-2zM628 395h4v9h-4zM656 395h1v9h-1zM671 395h1v9h-1zM683 395h1v9h-1zM689 395h1v9h-1zM706 395h1v9h-1zM740 395h1v9h-1zM746 395h1v9h-1zM757 395h1v9h-1zM779 395h1v9h-1zM727 415h1v9h-1zM757 415h1v9h-1z"/><path fill="#4a6cb3" d="M77 365h3v9h-3zM87 365h2v9h-2zM109 365h1v9h-1zM113 365h1v9h-1zM115 365h2v9h-2zM122 365h1v9h-1zM125 365h1v9h-1zM136 365h2v9h-2zM141 365h1v9h-1zM144 365h1v9h-1zM151 365h1v9h-1zM163 365h2v9h-2zM168 365h4v9h-4zM177 365h2v9h-2zM180 365h2v9h-2zM187 365h2v9h-2zM200 365h1v9h-1zM202 365h1v9h-1zM205 365h1v9h-1zM208 365h1v9h-1zM212 365h3v9h-3zM218 365h1v9h-1zM222 365h1v9h-1zM224 365h1v9h-1zM228 365h1v9h-1zM230 365h1v9h-1zM232 365h3v9h-3zM248 365h1v9h-1zM251 365h1v9h-1zM254 365h1v9h-1zM258 365h2v9h-2zM267 365h2v9h-2zM276 365h1v9h-1zM278 365h1v9h-1zM280 365h2v9h-2zM286 365h1v9h-1zM291 365h3v9h-3zM301 365h1v9h-1zM304 365h1v9h-1zM309 365h2v9h-2zM317 365h1v9h-1zM322 365h1v9h-1zM330 365h2v9h-2zM343 365h1v9h-1zM345 365h3v9h-3zM349 365h4v9h-4zM355 365h3v9h-3zM371 365h1v9h-1zM380 365h1v9h-1zM387 365h1v9h-1zM389 365h1v9h-1zM393 365h1v9h-1zM395 365h4v9h-4zM413 365h1v9h-1zM417 365h2v9h-2zM423 365h1v9h-1zM425 365h1v9h-1zM429 365h1v9h-1zM433 365h2v9h-2zM440 365h2v9h-2zM445 365h2v9h-2zM450 365h1v9h-1zM455 365h2v9h-2zM459 365h1v9h-1zM461 365h1v9h-1zM472 365h2v9h-2zM478 365h1v9h-1zM483 365h2v9h-2zM486 365h1v9h-1zM492 365h3v9h-3zM498 365h1v9h-1zM503 365h2v9h-2zM518 365h3v9h-3zM525 365h3v9h-3zM529 365h2v9h-2zM537 365h1v9h-1zM540 365h1v9h-1zM542 365h1v9h-1zM554 365h3v9h-3zM564 365h4v9h-4zM570 365h1v9h-1zM576 365h1v9h-1zM580 365h4v9h-4zM589 365h4v9h-4zM595 365h1v9h-1zM598 365h1v9h-1zM601 365h1v9h-1zM608 365h1v9h-1zM613 365h4v9h-4zM619 365h3v9h-3zM626 365h1v9h-1zM628 365h1v9h-1zM630 365h1v9h-1zM634 365h1v9h-1zM638 365h2v9h-2zM647 365h2v9h-2zM653 365h1v9h-1zM655 365h1v9h-1zM658 365h2v9h-2zM661 365h1v9h-1zM663 365h2v9h-2zM668 365h1v9h-1zM670 365h1v9h-1zM673 365h1v9h-1zM676 365h3v9h-3zM681 365h1v9h-1zM694 365h4v9h-4zM700 365h3v9h-3zM704 365h1v9h-1zM706 365h2v9h-2zM711 365h3v9h-3zM717 365h1v9h-1zM96 395h1v9h-1zM142 395h1v9h-1zM228 395h2v9h-2zM318 395h1v9h-1zM326 395h2v9h-2zM513 395h2v9h-2zM525 395h1v9h-1zM688 395h1v9h-1zM695 395h1v9h-1zM719 395h5v9h-5zM736 395h4v9h-4zM741 395h5v9h-5zM747 395h1v9h-1zM751 395h1v9h-1zM753 395h1v9h-1zM755 395h2v9h-2zM758 395h1v9h-1zM761 395h1v9h-1zM763 395h4v9h-4zM768 395h1v9h-1zM770 395h1v9h-1zM772 395h1v9h-1zM774 395h1v9h-1zM778 395h1v9h-1zM725 415h1v9h-1zM738 415h1v9h-1zM744 415h1v9h-1zM765 415h1v9h-1z"/><path fill="#3e7ab8" d="M80 365h2v9h-2zM89 365h1v9h-1zM94 365h2v9h-2zM97 365h5v9h-5zM103 365h1v9h-1zM107 365h1v9h-1zM112 365h1v9h-1zM127 365h1v9h-1zM135 365h1v9h-1zM142 365h2v9h-2zM149 365h2v9h-2zM166 365h2v9h-2zM182 365h3v9h-3zM190 365h3v9h-3zM196 365h1v9h-1zM215 365h1v9h-1zM217 365h1v9h-1zM241 365h1v9h-1zM249 365h1v9h-1zM253 365h1v9h-1zM261 365h1v9h-1zM264 365h2v9h-2zM272 365h1v9h-1zM274 365h1v9h-1zM283 365h3v9h-3zM288 365h2v9h-2zM294 365h2v9h-2zM297 365h1v9h-1zM300 365h1v9h-1zM321 365h1v9h-1zM328 365h2v9h-2zM336 365h1v9h-1zM339 365h1v9h-1zM342 365h1v9h-1zM359 365h1v9h-1zM363 365h3v9h-3zM367 365h1v9h-1zM369 365h1v9h-1zM373 365h2v9h-2zM377 365h1v9h-1zM381 365h4v9h-4zM402 365h2v9h-2zM408 365h2v9h-2zM414 365h1v9h-1zM430 365h1v9h-1zM432 365h1v9h-1zM454 365h1v9h-1zM457 365h2v9h-2zM467 365h1v9h-1zM470 365h2v9h-2zM475 365h1v9h-1zM480 365h1v9h-1zM501 365h2v9h-2zM508 365h2v9h-2zM511 365h2v9h-2zM514 365h1v9h-1zM522 365h2v9h-2zM531 365h1v9h-1zM533 365h1v9h-1zM544 365h1v9h-1zM546 365h1v9h-1zM562 365h2v9h-2zM593 365h2v9h-2zM596 365h2v9h-2zM604 365h4v9h-4zM622 365h3v9h-3zM635 365h2v9h-2zM641 365h1v9h-1zM643 365h2v9h-2zM667 365h1v9h-1zM683 365h1v9h-1zM687 365h1v9h-1zM690 365h2v9h-2zM82 395h1v9h-1zM85 395h1v9h-1zM90 395h1v9h-1zM97 395h2v9h-2zM110 395h1v9h-1zM116 395h1v9h-1zM119 395h2v9h-2zM125 395h1v9h-1zM132 395h2v9h-2zM139 395h1v9h-1zM143 395h1v9h-1zM145 395h1v9h-1zM147 395h1v9h-1zM149 395h5v9h-5zM163 395h1v9h-1zM172 395h5v9h-5zM202 395h1v9h-1zM205 395h1v9h-1zM207 395h1v9h-1zM215 395h1v9h-1zM218 395h1v9h-1zM220 395h1v9h-1zM227 395h1v9h-1zM234 395h1v9h-1zM240 395h1v9h-1zM259 395h2v9h-2zM270 395h3v9h-3zM274 395h1v9h-1zM283 395h1v9h-1zM291 395h2v9h-2zM300 395h1v9h-1zM307 395h2v9h-2zM310 395h1v9h-1zM313 395h2v9h-2zM321 395h1v9h-1zM323 395h1v9h-1zM333 395h1v9h-1zM340 395h3v9h-3zM348 395h1v9h-1zM359 395h2v9h-2zM370 395h1v9h-1zM391 395h3v9h-3zM399 395h1v9h-1zM408 395h2v9h-2zM415 395h2v9h-2zM424 395h2v9h-2zM428 395h1v9h-1zM436 395h2v9h-2zM442 395h3v9h-3zM448 395h1v9h-1zM450 395h1v9h-1zM454 395h1v9h-1zM459 395h1v9h-1zM461 395h5v9h-5zM467 395h1v9h-1zM469 395h2v9h-2zM472 395h1v9h-1zM474 395h1v9h-1zM485 395h1v9h-1zM501 395h1v9h-1zM503 395h1v9h-1zM507 395h1v9h-1zM511 395h1v9h-1zM515 395h1v9h-1zM518 395h1v9h-1zM530 395h1v9h-1zM534 395h2v9h-2zM538 395h1v9h-1zM541 395h1v9h-1zM543 395h1v9h-1zM568 395h3v9h-3zM575 395h1v9h-1zM589 395h1v9h-1zM592 395h1v9h-1zM595 395h1v9h-1zM606 395h2v9h-2zM609 395h1v9h-1zM612 395h3v9h-3zM616 395h1v9h-1zM622 395h1v9h-1zM625 395h1v9h-1zM636 395h1v9h-1zM645 395h1v9h-1zM652 395h2v9h-2zM655 395h1v9h-1zM657 395h3v9h-3zM662 395h2v9h-2zM676 395h1v9h-1zM690 395h1v9h-1zM692 395h3v9h-3zM696 395h1v9h-1zM700 395h3v9h-3zM711 395h2v9h-2zM718 395h1v9h-1z"/><path fill="#3881ba" d="M102 365h1v9h-1zM111 365h1v9h-1zM146 365h1v9h-1zM154 365h1v9h-1zM216 365h1v9h-1zM226 365h1v9h-1zM273 365h1v9h-1zM319 365h2v9h-2zM335 365h1v9h-1zM368 365h1v9h-1zM401 365h1v9h-1zM421 365h1v9h-1zM431 365h1v9h-1zM436 365h1v9h-1zM443 365h1v9h-1zM453 365h1v9h-1zM496 365h1v9h-1zM572 365h1v9h-1zM586 365h2v9h-2zM684 365h1v9h-1zM692 365h1v9h-1zM76 395h1v9h-1zM80 395h2v9h-2zM83 395h1v9h-1zM89 395h1v9h-1zM91 395h1v9h-1zM103 395h1v9h-1zM107 395h3v9h-3zM115 395h1v9h-1zM121 395h2v9h-2zM127 395h1v9h-1zM135 395h1v9h-1zM144 395h1v9h-1zM146 395h1v9h-1zM148 395h1v9h-1zM155 395h7v9h-7zM164 395h2v9h-2zM167 395h3v9h-3zM179 395h1v9h-1zM181 395h1v9h-1zM183 395h8v9h-8zM193 395h1v9h-1zM196 395h5v9h-5zM204 395h1v9h-1zM210 395h3v9h-3zM219 395h1v9h-1zM230 395h1v9h-1zM233 395h1v9h-1zM235 395h3v9h-3zM239 395h1v9h-1zM248 395h1v9h-1zM252 395h1v9h-1zM255 395h4v9h-4zM264 395h2v9h-2zM267 395h1v9h-1zM269 395h1v9h-1zM273 395h1v9h-1zM275 395h3v9h-3zM279 395h1v9h-1zM282 395h1v9h-1zM285 395h1v9h-1zM287 395h1v9h-1zM289 395h2v9h-2zM293 395h1v9h-1zM297 395h2v9h-2zM305 395h1v9h-1zM311 395h2v9h-2zM319 395h2v9h-2zM324 395h2v9h-2zM330 395h1v9h-1zM334 395h2v9h-2zM345 395h2v9h-2zM349 395h3v9h-3zM353 395h2v9h-2zM356 395h2v9h-2zM361 395h1v9h-1zM364 395h1v9h-1zM369 395h1v9h-1zM371 395h1v9h-1zM375 395h2v9h-2zM381 395h2v9h-2zM384 395h1v9h-1zM387 395h1v9h-1zM394 395h1v9h-1zM396 395h2v9h-2zM400 395h1v9h-1zM406 395h1v9h-1zM410 395h1v9h-1zM412 395h1v9h-1zM417 395h1v9h-1zM419 395h2v9h-2zM423 395h1v9h-1zM426 395h2v9h-2zM429 395h1v9h-1zM431 395h2v9h-2zM434 395h2v9h-2zM438 395h1v9h-1zM441 395h1v9h-1zM445 395h1v9h-1zM452 395h2v9h-2zM457 395h2v9h-2zM460 395h1v9h-1zM468 395h1v9h-1zM471 395h1v9h-1zM476 395h1v9h-1zM480 395h2v9h-2zM484 395h1v9h-1zM486 395h3v9h-3zM490 395h1v9h-1zM492 395h2v9h-2zM495 395h1v9h-1zM497 395h2v9h-2zM500 395h1v9h-1zM506 395h1v9h-1zM510 395h1v9h-1zM516 395h2v9h-2zM521 395h1v9h-1zM524 395h1v9h-1zM526 395h1v9h-1zM528 395h2v9h-2zM531 395h3v9h-3zM537 395h1v9h-1zM539 395h2v9h-2zM545 395h1v9h-1zM550 395h3v9h-3zM555 395h2v9h-2zM560 395h2v9h-2zM566 395h2v9h-2zM573 395h2v9h-2zM576 395h1v9h-1zM579 395h4v9h-4zM588 395h1v9h-1zM591 395h1v9h-1zM598 395h1v9h-1zM600 395h1v9h-1zM610 395h2v9h-2zM615 395h1v9h-1zM617 395h1v9h-1zM619 395h3v9h-3zM623 395h2v9h-2zM626 395h2v9h-2zM632 395h2v9h-2zM637 395h1v9h-1zM639 395h2v9h-2zM642 395h1v9h-1zM644 395h1v9h-1zM648 395h1v9h-1zM654 395h1v9h-1zM660 395h2v9h-2zM664 395h2v9h-2zM670 395h1v9h-1zM672 395h1v9h-1zM675 395h1v9h-1zM677 395h4v9h-4zM682 395h1v9h-1zM684 395h1v9h-1zM687 395h1v9h-1zM691 395h1v9h-1zM697 395h3v9h-3zM703 395h1v9h-1zM705 395h1v9h-1zM707 395h1v9h-1zM710 395h1v9h-1zM713 395h3v9h-3zM724 415h1v9h-1z"/><path fill="#4f65b0" d="M114 365h1v9h-1zM119 365h3v9h-3zM124 365h1v9h-1zM129 365h5v9h-5zM138 365h1v9h-1zM152 365h1v9h-1zM162 365h1v9h-1zM185 365h2v9h-2zM206 365h2v9h-2zM219 365h1v9h-1zM237 365h1v9h-1zM246 365h2v9h-2zM255 365h3v9h-3zM269 365h2v9h-2zM277 365h1v9h-1zM302 365h2v9h-2zM332 365h2v9h-2zM344 365h1v9h-1zM379 365h1v9h-1zM388 365h1v9h-1zM392 365h1v9h-1zM399 365h1v9h-1zM416 365h1v9h-1zM419 365h1v9h-1zM426 365h1v9h-1zM449 365h1v9h-1zM460 365h1v9h-1zM464 365h2v9h-2zM489 365h1v9h-1zM535 365h2v9h-2zM549 365h4v9h-4zM559 365h3v9h-3zM577 365h2v9h-2zM584 365h1v9h-1zM599 365h1v9h-1zM602 365h1v9h-1zM617 365h2v9h-2zM627 365h1v9h-1zM631 365h3v9h-3zM646 365h1v9h-1zM654 365h1v9h-1zM656 365h2v9h-2zM660 365h1v9h-1zM669 365h1v9h-1zM679 365h2v9h-2zM698 365h2v9h-2zM703 365h1v9h-1zM709 365h2v9h-2zM718 365h1v9h-1zM724 395h1v9h-1zM726 395h10v9h-10zM748 395h3v9h-3zM752 395h1v9h-1zM754 395h1v9h-1zM759 395h2v9h-2zM762 395h1v9h-1zM767 395h1v9h-1zM769 395h1v9h-1zM771 395h1v9h-1zM773 395h1v9h-1zM775 395h2v9h-2zM737 415h1v9h-1zM749 415h2v9h-2zM753 415h1v9h-1zM759 415h1v9h-1zM761 415h2v9h-2z"/><path fill="#555eae" d="M731 365h1v9h-1zM737 365h2v9h-2zM740 365h3v9h-3zM748 365h3v9h-3zM756 365h1v9h-1zM771 365h3v9h-3zM778 365h2v9h-2zM378 385h1v9h-1zM668 385h1v9h-1zM725 395h1v9h-1zM777 395h1v9h-1zM319 405h1v9h-1zM335 405h1v9h-1zM443 405h1v9h-1zM95 415h1v9h-1zM107 415h1v9h-1zM112 415h2v9h-2zM123 415h1v9h-1zM150 415h1v9h-1zM152 415h1v9h-1zM154 415h1v9h-1zM196 415h1v9h-1zM214 415h2v9h-2zM220 415h1v9h-1zM244 415h1v9h-1zM257 415h1v9h-1zM263 415h1v9h-1zM270 415h1v9h-1zM282 415h2v9h-2zM307 415h1v9h-1zM309 415h1v9h-1zM312 415h1v9h-1zM314 415h1v9h-1zM319 415h1v9h-1zM340 415h2v9h-2zM343 415h1v9h-1zM357 415h1v9h-1zM359 415h1v9h-1zM393 415h1v9h-1zM399 415h1v9h-1zM407 415h2v9h-2zM430 415h1v9h-1zM440 415h2v9h-2zM451 415h1v9h-1zM453 415h2v9h-2zM456 415h1v9h-1zM477 415h1v9h-1zM483 415h1v9h-1zM510 415h1v9h-1zM512 415h1v9h-1zM521 415h1v9h-1zM540 415h1v9h-1zM542 415h1v9h-1zM590 415h1v9h-1zM597 415h1v9h-1zM607 415h2v9h-2zM622 415h1v9h-1zM633 415h1v9h-1zM639 415h1v9h-1zM683 415h1v9h-1zM704 415h1v9h-1zM714 415h2v9h-2zM718 415h1v9h-1zM735 415h1v9h-1zM754 415h1v9h-1z"/><path fill="#3288bd" d="M77 395h3v9h-3zM84 395h1v9h-1zM95 395h1v9h-1zM104 395h3v9h-3zM111 395h1v9h-1zM114 395h1v9h-1zM123 395h1v9h-1zM128 395h3v9h-3zM134 395h1v9h-1zM137 395h1v9h-1zM162 395h1v9h-1zM177 395h2v9h-2zM180 395h1v9h-1zM192 395h1v9h-1zM201 395h1v9h-1zM208 395h2v9h-2zM222 395h1v9h-1zM225 395h2v9h-2zM238 395h1v9h-1zM241 395h1v9h-1zM244 395h2v9h-2zM247 395h1v9h-1zM249 395h1v9h-1zM251 395h1v9h-1zM254 395h1v9h-1zM266 395h1v9h-1zM268 395h1v9h-1zM278 395h1v9h-1zM286 395h1v9h-1zM288 395h1v9h-1zM296 395h1v9h-1zM301 395h1v9h-1zM303 395h1v9h-1zM322 395h1v9h-1zM336 395h2v9h-2zM352 395h1v9h-1zM362 395h2v9h-2zM365 395h1v9h-1zM368 395h1v9h-1zM372 395h3v9h-3zM379 395h2v9h-2zM388 395h2v9h-2zM401 395h2v9h-2zM404 395h2v9h-2zM411 395h1v9h-1zM413 395h2v9h-2zM422 395h1v9h-1zM430 395h1v9h-1zM433 395h1v9h-1zM439 395h1v9h-1zM447 395h1v9h-1zM451 395h1v9h-1zM475 395h1v9h-1zM477 395h3v9h-3zM482 395h1v9h-1zM496 395h1v9h-1zM504 395h1v9h-1zM508 395h2v9h-2zM527 395h1v9h-1zM536 395h1v9h-1zM547 395h3v9h-3zM553 395h1v9h-1zM558 395h2v9h-2zM563 395h3v9h-3zM583 395h1v9h-1zM585 395h3v9h-3zM590 395h1v9h-1zM599 395h1v9h-1zM601 395h3v9h-3zM605 395h1v9h-1zM608 395h1v9h-1zM618 395h1v9h-1zM634 395h1v9h-1zM641 395h1v9h-1zM643 395h1v9h-1zM646 395h1v9h-1zM649 395h1v9h-1zM651 395h1v9h-1zM666 395h2v9h-2zM674 395h1v9h-1zM681 395h1v9h-1zM704 395h1v9h-1zM708 395h2v9h-2zM717 395h1v9h-1zM752 405h1v9h-1z"/><path fill="#388fba" d="M92 395h3v9h-3zM113 395h1v9h-1zM124 395h1v9h-1zM138 395h1v9h-1zM191 395h1v9h-1zM223 395h2v9h-2zM231 395h2v9h-2zM242 395h2v9h-2zM246 395h1v9h-1zM250 395h1v9h-1zM253 395h1v9h-1zM261 395h3v9h-3zM294 395h2v9h-2zM302 395h1v9h-1zM304 395h1v9h-1zM315 395h2v9h-2zM338 395h2v9h-2zM355 395h1v9h-1zM358 395h1v9h-1zM366 395h2v9h-2zM377 395h2v9h-2zM383 395h1v9h-1zM403 395h1v9h-1zM418 395h1v9h-1zM421 395h1v9h-1zM440 395h1v9h-1zM446 395h1v9h-1zM483 395h1v9h-1zM489 395h1v9h-1zM505 395h1v9h-1zM522 395h2v9h-2zM546 395h1v9h-1zM554 395h1v9h-1zM557 395h1v9h-1zM562 395h1v9h-1zM577 395h2v9h-2zM584 395h1v9h-1zM604 395h1v9h-1zM635 395h1v9h-1zM638 395h1v9h-1zM647 395h1v9h-1zM650 395h1v9h-1zM668 395h2v9h-2zM673 395h1v9h-1zM685 395h2v9h-2zM716 395h1v9h-1zM721 405h2v9h-2zM727 405h3v9h-3zM758 405h2v9h-2zM762 405h2v9h-2z"/><path fill="#3f96b7" d="M112 395h1v9h-1zM719 405h1v9h-1zM726 405h1v9h-1zM732 405h2v9h-2zM739 405h1v9h-1zM744 405h3v9h-3zM751 405h1v9h-1zM755 405h1v9h-1zM761 405h1v9h-1zM765 405h2v9h-2zM774 405h1v9h-1zM777 405h1v9h-1z"/><path fill="#2b627f" d="M720 405h1v9h-1zM723 405h1v9h-1z"/><path fill="#469eb4" d="M724 405h1v9h-1zM730 405h1v9h-1zM742 405h2v9h-2zM749 405h1v9h-1zM756 405h2v9h-2zM767 405h1v9h-1zM769 405h1v9h-1zM771 405h1v9h-1zM773 405h1v9h-1zM775 405h2v9h-2zM778 405h2v9h-2zM722 415h2v9h-2z"/><path fill="#346c7b" d="M725 405h1v9h-1zM731 405h1v9h-1zM736 405h1v9h-1zM738 405h1v9h-1zM747 405h1v9h-1zM750 405h1v9h-1zM768 405h1v9h-1zM770 405h1v9h-1z"/><path fill="#30677d" d="M734 405h2v9h-2zM753 405h2v9h-2zM760 405h1v9h-1zM764 405h1v9h-1z"/><path fill="#4ca5b1" d="M737 405h1v9h-1zM740 405h2v9h-2zM748 405h1v9h-1zM772 405h1v9h-1z"/><path fill="#3d4477" d="M101 415h1v9h-1zM129 415h2v9h-2zM145 415h1v9h-1zM213 415h1v9h-1zM217 415h2v9h-2zM259 415h1v9h-1zM289 415h1v9h-1zM302 415h1v9h-1zM310 415h2v9h-2zM320 415h3v9h-3zM382 415h1v9h-1zM405 415h1v9h-1zM410 415h1v9h-1zM419 415h1v9h-1zM431 415h1v9h-1zM528 415h2v9h-2zM539 415h1v9h-1zM600 415h1v9h-1zM612 415h1v9h-1zM618 415h1v9h-1zM688 415h1v9h-1zM716 415h1v9h-1zM760 415h1v9h-1z"/><path fill="#33517c" d="M729 415h1v9h-1zM731 415h1v9h-1zM745 415h1v9h-1z"/><path fill="#374d7a" d="M739 415h1v9h-1zM742 415h1v9h-1zM763 415h1v9h-1z"/><path fill="#3a4878" d="M752 415h1v9h-1z"/><path fill="#c8e99e" d="M549 395h1v9h-1z"/><path fill="#abdda4" d="M549 415h1v9h-1zM720 415h1v9h-1z"/><path fill="#f67d4a" d="M705 415h1v9h-1z"/><path fill="#ecf8a2" d="M727 415h1v9h-1z"/></svg>
<span class="t" style="left:45.44px;top:248.9px;font-size:12px;color:#ccccdc;letter-spacing:0.271px;">+Inf</span>
<span class="t" style="left:29.84px;top:258.9px;font-size:12px;color:#ccccdc;letter-spacing:0.283px;">1 mins</span>
<span class="t" style="left:43.01px;top:268.9px;font-size:12px;color:#ccccdc;letter-spacing:0.302px;">50 s</span>
<span class="t" style="left:43.01px;top:278.9px;font-size:12px;color:#ccccdc;letter-spacing:0.302px;">25 s</span>
<span class="t" style="left:43.01px;top:288.9px;font-size:12px;color:#ccccdc;letter-spacing:0.302px;">10 s</span>
<span class="t" style="left:49.95px;top:298.9px;font-size:12px;color:#ccccdc;letter-spacing:0.32px;">8 s</span>
<span class="t" style="left:49.95px;top:308.9px;font-size:12px;color:#ccccdc;letter-spacing:0.32px;">5 s</span>
<span class="t" style="left:49.95px;top:318.9px;font-size:12px;color:#ccccdc;letter-spacing:0.32px;">3 s</span>
<span class="t" style="left:49.95px;top:328.9px;font-size:12px;color:#ccccdc;letter-spacing:0.32px;">1 s</span>
<span class="t" style="left:25.68px;top:338.9px;font-size:12px;color:#ccccdc;letter-spacing:0.315px;">750 ms</span>
<span class="t" style="left:25.68px;top:348.9px;font-size:12px;color:#ccccdc;letter-spacing:0.315px;">500 ms</span>
<span class="t" style="left:25.68px;top:358.9px;font-size:12px;color:#ccccdc;letter-spacing:0.315px;">250 ms</span>
<span class="t" style="left:25.68px;top:368.9px;font-size:12px;color:#ccccdc;letter-spacing:0.315px;">100 ms</span>
<span class="t" style="left:32.62px;top:378.9px;font-size:12px;color:#ccccdc;letter-spacing:0.327px;">75 ms</span>
<span class="t" style="left:32.62px;top:388.9px;font-size:12px;color:#ccccdc;letter-spacing:0.327px;">50 ms</span>
<span class="t" style="left:32.62px;top:398.9px;font-size:12px;color:#ccccdc;letter-spacing:0.327px;">25 ms</span>
<span class="t" style="left:32.62px;top:408.9px;font-size:12px;color:#ccccdc;letter-spacing:0.327px;">10 ms</span>
<span class="t" style="left:49.95px;top:418.9px;font-size:12px;color:#ccccdc;letter-spacing:0.32px;">0 s</span>
<span class="t" style="left:74.55px;top:433.6px;font-size:12px;color:#ccccdc;letter-spacing:0.868px;">02:00</span>
<span class="t" style="left:133.55px;top:433.6px;font-size:12px;color:#ccccdc;letter-spacing:0.868px;">04:00</span>
<span class="t" style="left:191.55px;top:433.6px;font-size:12px;color:#ccccdc;letter-spacing:0.868px;">06:00</span>
<span class="t" style="left:250.55px;top:433.6px;font-size:12px;color:#ccccdc;letter-spacing:0.868px;">08:00</span>
<span class="t" style="left:309.55px;top:433.6px;font-size:12px;color:#ccccdc;letter-spacing:0.868px;">10:00</span>
<span class="t" style="left:367.55px;top:433.6px;font-size:12px;color:#ccccdc;letter-spacing:0.868px;">12:00</span>
<span class="t" style="left:426.55px;top:433.6px;font-size:12px;color:#ccccdc;letter-spacing:0.868px;">14:00</span>
<span class="t" style="left:484.55px;top:433.6px;font-size:12px;color:#ccccdc;letter-spacing:0.868px;">16:00</span>
<span class="t" style="left:543.55px;top:433.6px;font-size:12px;color:#ccccdc;letter-spacing:0.868px;">18:00</span>
<span class="t" style="left:602.55px;top:433.6px;font-size:12px;color:#ccccdc;letter-spacing:0.868px;">20:00</span>
<span class="t" style="left:660.55px;top:433.6px;font-size:12px;color:#ccccdc;letter-spacing:0.868px;">22:00</span>
<span class="t" style="left:719.55px;top:433.6px;font-size:12px;color:#ccccdc;letter-spacing:0.868px;">00:00</span>
<div class="a" style="left:48.5px;top:457px;width:300px;height:8px;border-radius:2px;background:linear-gradient(90deg,#6150a9,#3288bd,#66c2a5,#abdda4,#e6f598,#ffffbf,#fee08b,#fdae61,#f46d43,#d53e4f,#9e0142)"></div>
<span class="t" style="left:48.8px;top:468.25px;font-size:11.5px;color:#8e8e9b;letter-spacing:0.348px;">0.00760 req/s</span>
<span class="t" style="left:287.6px;top:468.25px;font-size:11.5px;color:#8e8e9b;letter-spacing:0.347px;">0.983 req/s</span>
</div></section>
<section class="p" style="left:805px;top:206px;width:782px;height:296px"><div class="o" style="left:-806px;top:-207px">
<span class="t" style="left:813.5px;top:215.8px;font-size:14px;color:#ccccdc;letter-spacing:0.601px;-webkit-text-stroke:.25px #ccccdc;">Number of Responses by Size</span>
<svg class="a" style="left:0;top:0" width="1595" height="950" viewBox="0 0 1595 950"><path d="M867.5 255.5H1570.5M867.5 266.5H1570.5M867.5 276.5H1570.5M867.5 287.5H1570.5M867.5 298.5H1570.5M867.5 308.5H1570.5M867.5 319.5H1570.5M867.5 329.5H1570.5M867.5 340.5H1570.5M867.5 351.5H1570.5M867.5 361.5H1570.5M867.5 372.5H1570.5M867.5 383.5H1570.5M867.5 393.5H1570.5M867.5 404.5H1570.5M867.5 414.5H1570.5M867.5 425.5H1570.5M886.5 255.5V428.5M944.5 255.5V428.5M1002.5 255.5V428.5M1061.5 255.5V428.5M1119.5 255.5V428.5M1177.5 255.5V428.5M1235.5 255.5V428.5M1293.5 255.5V428.5M1351.5 255.5V428.5M1410.5 255.5V428.5M1468.5 255.5V428.5M1526.5 255.5V428.5" stroke="#2b2e33" stroke-width="1" fill="none"/><path fill="#4ca5b1" d="M871 319.25h1v4.3h-1zM873 319.25h22v4.3h-22zM896 319.25h38v4.3h-38zM935 319.25h1v4.3h-1zM937 319.25h5v4.3h-5zM943 319.25h1v4.3h-1zM945 319.25h1v4.3h-1zM947 319.25h2v4.3h-2zM950 319.25h6v4.3h-6zM957 319.25h32v4.3h-32zM990 319.25h38v4.3h-38zM1029 319.25h22v4.3h-22zM1052 319.25h16v4.3h-16zM1069 319.25h30v4.3h-30zM1101 319.25h24v4.3h-24zM1126 319.25h5v4.3h-5zM1132 319.25h9v4.3h-9zM1142 319.25h22v4.3h-22zM1165 319.25h6v4.3h-6zM1172 319.25h6v4.3h-6zM1179 319.25h3v4.3h-3zM1183 319.25h6v4.3h-6zM1190 319.25h4v4.3h-4zM1195 319.25h12v4.3h-12zM1208 319.25h26v4.3h-26zM1235 319.25h14v4.3h-14zM1250 319.25h6v4.3h-6zM1257 319.25h11v4.3h-11zM1269 319.25h24v4.3h-24zM1294 319.25h8v4.3h-8zM1304 319.25h6v4.3h-6zM1311 319.25h3v4.3h-3zM1315 319.25h20v4.3h-20zM1336 319.25h8v4.3h-8zM1345 319.25h1v4.3h-1zM1348 319.25h54v4.3h-54zM1403 319.25h14v4.3h-14zM1418 319.25h53v4.3h-53zM1472 319.25h11v4.3h-11zM1484 319.25h26v4.3h-26zM1517 329.88h1v4.3h-1zM1522 329.88h1v4.3h-1zM1533 329.88h2v4.3h-2zM1536 329.88h1v4.3h-1zM1544 329.88h1v4.3h-1zM1552 329.88h1v4.3h-1z"/><path fill="#52acae" d="M872 319.25h1v4.3h-1zM895 319.25h1v4.3h-1zM934 319.25h1v4.3h-1zM936 319.25h1v4.3h-1zM942 319.25h1v4.3h-1zM944 319.25h1v4.3h-1zM946 319.25h1v4.3h-1zM949 319.25h1v4.3h-1zM956 319.25h1v4.3h-1zM989 319.25h1v4.3h-1zM1028 319.25h1v4.3h-1zM1051 319.25h1v4.3h-1zM1068 319.25h1v4.3h-1zM1099 319.25h2v4.3h-2zM1125 319.25h1v4.3h-1zM1131 319.25h1v4.3h-1zM1141 319.25h1v4.3h-1zM1164 319.25h1v4.3h-1zM1171 319.25h1v4.3h-1zM1178 319.25h1v4.3h-1zM1182 319.25h1v4.3h-1zM1189 319.25h1v4.3h-1zM1194 319.25h1v4.3h-1zM1207 319.25h1v4.3h-1zM1234 319.25h1v4.3h-1zM1249 319.25h1v4.3h-1zM1256 319.25h1v4.3h-1zM1268 319.25h1v4.3h-1zM1293 319.25h1v4.3h-1zM1302 319.25h2v4.3h-2zM1310 319.25h1v4.3h-1zM1314 319.25h1v4.3h-1zM1335 319.25h1v4.3h-1zM1344 319.25h1v4.3h-1zM1346 319.25h2v4.3h-2zM1402 319.25h1v4.3h-1zM1417 319.25h1v4.3h-1zM1471 319.25h1v4.3h-1zM1483 319.25h1v4.3h-1zM1515 329.88h1v4.3h-1zM1518 329.88h3v4.3h-3zM1526 329.88h1v4.3h-1zM1528 329.88h2v4.3h-2zM1531 329.88h2v4.3h-2zM1538 329.88h1v4.3h-1zM1540 329.88h1v4.3h-1zM1542 329.88h1v4.3h-1zM1545 329.88h2v4.3h-2zM1549 329.88h1v4.3h-1zM1553 329.88h6v4.3h-6z"/><path fill="#3e7ab8" d="M871 335.19h1v4.3h-1zM873 335.19h4v4.3h-4zM878 335.19h3v4.3h-3zM883 335.19h1v4.3h-1zM885 335.19h1v4.3h-1zM888 335.19h9v4.3h-9zM898 335.19h4v4.3h-4zM903 335.19h1v4.3h-1zM905 335.19h5v4.3h-5zM912 335.19h2v4.3h-2zM916 335.19h2v4.3h-2zM919 335.19h3v4.3h-3zM923 335.19h5v4.3h-5zM929 335.19h11v4.3h-11zM941 335.19h5v4.3h-5zM947 335.19h9v4.3h-9zM957 335.19h2v4.3h-2zM960 335.19h11v4.3h-11zM972 335.19h2v4.3h-2zM975 335.19h1v4.3h-1zM977 335.19h17v4.3h-17zM996 335.19h1v4.3h-1zM998 335.19h13v4.3h-13zM1012 335.19h2v4.3h-2zM1015 335.19h2v4.3h-2zM1018 335.19h2v4.3h-2zM1021 335.19h2v4.3h-2zM1024 335.19h5v4.3h-5zM1030 335.19h1v4.3h-1zM1032 335.19h6v4.3h-6zM1039 335.19h1v4.3h-1zM1042 335.19h12v4.3h-12zM1055 335.19h24v4.3h-24zM1080 335.19h2v4.3h-2zM1083 335.19h1v4.3h-1zM1086 335.19h2v4.3h-2zM1089 335.19h1v4.3h-1zM1091 335.19h1v4.3h-1zM1093 335.19h2v4.3h-2zM1096 335.19h3v4.3h-3zM1100 335.19h15v4.3h-15zM1117 335.19h10v4.3h-10zM1128 335.19h2v4.3h-2zM1131 335.19h1v4.3h-1zM1133 335.19h1v4.3h-1zM1135 335.19h1v4.3h-1zM1137 335.19h3v4.3h-3zM1142 335.19h8v4.3h-8zM1151 335.19h8v4.3h-8zM1160 335.19h9v4.3h-9zM1170 335.19h1v4.3h-1zM1175 335.19h5v4.3h-5zM1181 335.19h4v4.3h-4zM1186 335.19h2v4.3h-2zM1189 335.19h7v4.3h-7zM1197 335.19h5v4.3h-5zM1203 335.19h3v4.3h-3zM1209 335.19h6v4.3h-6zM1216 335.19h2v4.3h-2zM1219 335.19h14v4.3h-14zM1234 335.19h1v4.3h-1zM1236 335.19h2v4.3h-2zM1240 335.19h5v4.3h-5zM1247 335.19h8v4.3h-8zM1256 335.19h8v4.3h-8zM1266 335.19h2v4.3h-2zM1269 335.19h15v4.3h-15zM1285 335.19h14v4.3h-14zM1300 335.19h2v4.3h-2zM1303 335.19h2v4.3h-2zM1306 335.19h7v4.3h-7zM1314 335.19h14v4.3h-14zM1329 335.19h9v4.3h-9zM1339 335.19h10v4.3h-10zM1350 335.19h5v4.3h-5zM1356 335.19h2v4.3h-2zM1359 335.19h1v4.3h-1zM1361 335.19h1v4.3h-1zM1363 335.19h1v4.3h-1zM1368 335.19h8v4.3h-8zM1377 335.19h3v4.3h-3zM1381 335.19h2v4.3h-2zM1384 335.19h1v4.3h-1zM1386 335.19h6v4.3h-6zM1393 335.19h1v4.3h-1zM1395 335.19h2v4.3h-2zM1398 335.19h6v4.3h-6zM1405 335.19h3v4.3h-3zM1410 335.19h5v4.3h-5zM1416 335.19h1v4.3h-1zM1418 335.19h4v4.3h-4zM1424 335.19h2v4.3h-2zM1427 335.19h13v4.3h-13zM1441 335.19h3v4.3h-3zM1445 335.19h4v4.3h-4zM1450 335.19h3v4.3h-3zM1455 335.19h2v4.3h-2zM1459 335.19h10v4.3h-10zM1471 335.19h5v4.3h-5zM1477 335.19h5v4.3h-5zM1483 335.19h3v4.3h-3zM1487 335.19h20v4.3h-20zM1508 335.19h1v4.3h-1zM1510 335.19h1v4.3h-1zM1512 335.19h1v4.3h-1zM1515 335.19h2v4.3h-2zM1518 335.19h2v4.3h-2zM1522 335.19h5v4.3h-5zM1528 335.19h2v4.3h-2zM1534 335.19h15v4.3h-15zM1550 335.19h1v4.3h-1zM1552 335.19h3v4.3h-3zM1557 335.19h3v4.3h-3zM1562 335.19h4v4.3h-4zM1567 335.19h1v4.3h-1z"/><path fill="#3881ba" d="M872 335.19h1v4.3h-1zM877 335.19h1v4.3h-1zM881 335.19h2v4.3h-2zM884 335.19h1v4.3h-1zM886 335.19h2v4.3h-2zM897 335.19h1v4.3h-1zM902 335.19h1v4.3h-1zM904 335.19h1v4.3h-1zM910 335.19h2v4.3h-2zM914 335.19h2v4.3h-2zM918 335.19h1v4.3h-1zM922 335.19h1v4.3h-1zM928 335.19h1v4.3h-1zM940 335.19h1v4.3h-1zM946 335.19h1v4.3h-1zM956 335.19h1v4.3h-1zM959 335.19h1v4.3h-1zM971 335.19h1v4.3h-1zM974 335.19h1v4.3h-1zM976 335.19h1v4.3h-1zM994 335.19h2v4.3h-2zM997 335.19h1v4.3h-1zM1011 335.19h1v4.3h-1zM1014 335.19h1v4.3h-1zM1017 335.19h1v4.3h-1zM1020 335.19h1v4.3h-1zM1023 335.19h1v4.3h-1zM1029 335.19h1v4.3h-1zM1031 335.19h1v4.3h-1zM1038 335.19h1v4.3h-1zM1040 335.19h2v4.3h-2zM1054 335.19h1v4.3h-1zM1079 335.19h1v4.3h-1zM1082 335.19h1v4.3h-1zM1084 335.19h2v4.3h-2zM1088 335.19h1v4.3h-1zM1090 335.19h1v4.3h-1zM1092 335.19h1v4.3h-1zM1095 335.19h1v4.3h-1zM1099 335.19h1v4.3h-1zM1115 335.19h2v4.3h-2zM1127 335.19h1v4.3h-1zM1130 335.19h1v4.3h-1zM1132 335.19h1v4.3h-1zM1134 335.19h1v4.3h-1zM1136 335.19h1v4.3h-1zM1140 335.19h2v4.3h-2zM1150 335.19h1v4.3h-1zM1159 335.19h1v4.3h-1zM1169 335.19h1v4.3h-1zM1171 335.19h4v4.3h-4zM1180 335.19h1v4.3h-1zM1185 335.19h1v4.3h-1zM1188 335.19h1v4.3h-1zM1196 335.19h1v4.3h-1zM1202 335.19h1v4.3h-1zM1206 335.19h3v4.3h-3zM1215 335.19h1v4.3h-1zM1218 335.19h1v4.3h-1zM1233 335.19h1v4.3h-1zM1235 335.19h1v4.3h-1zM1238 335.19h2v4.3h-2zM1245 335.19h2v4.3h-2zM1255 335.19h1v4.3h-1zM1264 335.19h2v4.3h-2zM1268 335.19h1v4.3h-1zM1284 335.19h1v4.3h-1zM1299 335.19h1v4.3h-1zM1302 335.19h1v4.3h-1zM1305 335.19h1v4.3h-1zM1313 335.19h1v4.3h-1zM1328 335.19h1v4.3h-1zM1338 335.19h1v4.3h-1zM1349 335.19h1v4.3h-1zM1355 335.19h1v4.3h-1zM1358 335.19h1v4.3h-1zM1360 335.19h1v4.3h-1zM1362 335.19h1v4.3h-1zM1364 335.19h4v4.3h-4zM1376 335.19h1v4.3h-1zM1380 335.19h1v4.3h-1zM1383 335.19h1v4.3h-1zM1385 335.19h1v4.3h-1zM1392 335.19h1v4.3h-1zM1394 335.19h1v4.3h-1zM1397 335.19h1v4.3h-1zM1404 335.19h1v4.3h-1zM1408 335.19h2v4.3h-2zM1415 335.19h1v4.3h-1zM1417 335.19h1v4.3h-1zM1422 335.19h2v4.3h-2zM1426 335.19h1v4.3h-1zM1440 335.19h1v4.3h-1zM1444 335.19h1v4.3h-1zM1449 335.19h1v4.3h-1zM1453 335.19h2v4.3h-2zM1457 335.19h2v4.3h-2zM1469 335.19h2v4.3h-2zM1476 335.19h1v4.3h-1zM1482 335.19h1v4.3h-1zM1486 335.19h1v4.3h-1zM1507 335.19h1v4.3h-1zM1509 335.19h1v4.3h-1zM1511 335.19h1v4.3h-1zM1513 335.19h2v4.3h-2zM1517 335.19h1v4.3h-1zM1520 335.19h2v4.3h-2zM1527 335.19h1v4.3h-1zM1530 335.19h4v4.3h-4zM1549 335.19h1v4.3h-1zM1551 335.19h1v4.3h-1zM1555 335.19h2v4.3h-2zM1560 335.19h2v4.3h-2zM1566 335.19h1v4.3h-1zM1568 335.19h1v4.3h-1zM1559 329.88h6v4.3h-6zM1566 329.88h3v4.3h-3zM1559 324.56h6v4.3h-6zM1566 324.56h3v4.3h-3z"/><path fill="#59b4ab" d="M1516 329.88h1v4.3h-1zM1521 329.88h1v4.3h-1zM1523 329.88h3v4.3h-3zM1527 329.88h1v4.3h-1zM1530 329.88h1v4.3h-1zM1535 329.88h1v4.3h-1zM1537 329.88h1v4.3h-1zM1539 329.88h1v4.3h-1zM1541 329.88h1v4.3h-1zM1543 329.88h1v4.3h-1zM1547 329.88h2v4.3h-2zM1550 329.88h2v4.3h-2z"/><path fill="#3288bd" d="M1565 329.88h1v4.3h-1zM1565 324.56h1v4.3h-1z"/><path fill="#b2e0a2" d="M1509 335.19h1v4.3h-1z"/><path fill="#abdda4" d="M1510 335.19h2v4.3h-2z"/><path fill="#9ad6a4" d="M1512 335.19h2v4.3h-2z"/><path fill="#6150a9" d="M970 313.94h1v4.3h-1zM1097 313.94h1v4.3h-1zM1372 313.94h1v4.3h-1zM1388 313.94h1v4.3h-1zM1476 324.56h1v4.3h-1zM886 340.5h2v4.3h-2zM890 340.5h3v4.3h-3zM931 340.5h3v4.3h-3zM963 340.5h1v4.3h-1zM977 340.5h1v4.3h-1zM1035 340.5h1v4.3h-1zM1037 340.5h1v4.3h-1zM1043 340.5h1v4.3h-1zM1052 340.5h1v4.3h-1zM1057 340.5h1v4.3h-1zM1060 340.5h2v4.3h-2zM1073 340.5h1v4.3h-1zM1094 340.5h1v4.3h-1zM1125 340.5h3v4.3h-3zM1140 340.5h2v4.3h-2zM1196 340.5h1v4.3h-1zM1314 340.5h1v4.3h-1zM1346 340.5h1v4.3h-1zM1367 340.5h1v4.3h-1zM1393 340.5h1v4.3h-1zM1399 340.5h1v4.3h-1zM1444 340.5h1v4.3h-1zM1511 340.5h1v4.3h-1zM1524 340.5h1v4.3h-1zM1532 340.5h1v4.3h-1zM1538 340.5h1v4.3h-1zM1547 340.5h1v4.3h-1zM1558 340.5h3v4.3h-3zM1562 340.5h1v4.3h-1zM1565 340.5h3v4.3h-3zM995 345.81h1v4.3h-1zM1254 345.81h1v4.3h-1zM915 351.12h1v4.3h-1zM1093 351.12h1v4.3h-1zM883 356.44h2v4.3h-2zM886 356.44h1v4.3h-1zM905 356.44h2v4.3h-2zM918 356.44h1v4.3h-1zM931 356.44h1v4.3h-1zM967 356.44h1v4.3h-1zM1054 356.44h2v4.3h-2zM1134 356.44h1v4.3h-1zM1147 356.44h2v4.3h-2zM1172 356.44h1v4.3h-1zM1179 356.44h1v4.3h-1zM1186 356.44h1v4.3h-1zM1204 356.44h3v4.3h-3zM1220 356.44h1v4.3h-1zM1233 356.44h1v4.3h-1zM1278 356.44h1v4.3h-1zM1286 356.44h3v4.3h-3zM1402 356.44h1v4.3h-1zM1421 356.44h1v4.3h-1zM1428 356.44h1v4.3h-1zM1481 356.44h1v4.3h-1zM1489 356.44h1v4.3h-1zM1495 356.44h1v4.3h-1zM1503 356.44h1v4.3h-1zM1508 356.44h2v4.3h-2zM1543 356.44h1v4.3h-1zM890 361.75h1v4.3h-1zM1171 361.75h1v4.3h-1zM969 367.06h1v4.3h-1zM972 367.06h1v4.3h-1zM1051 367.06h1v4.3h-1zM1403 367.06h1v4.3h-1zM1490 367.06h1v4.3h-1zM885 372.38h1v4.3h-1zM925 372.38h1v4.3h-1zM932 372.38h1v4.3h-1zM939 372.38h1v4.3h-1zM946 372.38h1v4.3h-1zM973 372.38h1v4.3h-1zM982 372.38h1v4.3h-1zM989 372.38h1v4.3h-1zM997 372.38h1v4.3h-1zM1022 372.38h1v4.3h-1zM1029 372.38h4v4.3h-4zM1039 372.38h1v4.3h-1zM1042 372.38h4v4.3h-4zM1063 372.38h1v4.3h-1zM1083 372.38h1v4.3h-1zM1096 372.38h1v4.3h-1zM1103 372.38h4v4.3h-4zM1123 372.38h1v4.3h-1zM1128 372.38h1v4.3h-1zM1130 372.38h1v4.3h-1zM1165 372.38h3v4.3h-3zM1173 372.38h1v4.3h-1zM1182 372.38h1v4.3h-1zM1187 372.38h1v4.3h-1zM1201 372.38h1v4.3h-1zM1203 372.38h1v4.3h-1zM1205 372.38h1v4.3h-1zM1210 372.38h1v4.3h-1zM1215 372.38h2v4.3h-2zM1218 372.38h1v4.3h-1zM1222 372.38h1v4.3h-1zM1233 372.38h1v4.3h-1zM1245 372.38h1v4.3h-1zM1252 372.38h1v4.3h-1zM1254 372.38h1v4.3h-1zM1270 372.38h2v4.3h-2zM1273 372.38h1v4.3h-1zM1278 372.38h1v4.3h-1zM1282 372.38h1v4.3h-1zM1288 372.38h2v4.3h-2zM1295 372.38h4v4.3h-4zM1304 372.38h1v4.3h-1zM1308 372.38h2v4.3h-2zM1315 372.38h1v4.3h-1zM1318 372.38h1v4.3h-1zM1324 372.38h1v4.3h-1zM1328 372.38h1v4.3h-1zM1331 372.38h3v4.3h-3zM1348 372.38h1v4.3h-1zM1350 372.38h1v4.3h-1zM1358 372.38h1v4.3h-1zM1360 372.38h1v4.3h-1zM1373 372.38h1v4.3h-1zM1380 372.38h1v4.3h-1zM1385 372.38h2v4.3h-2zM1391 372.38h1v4.3h-1zM1393 372.38h1v4.3h-1zM1397 372.38h1v4.3h-1zM1409 372.38h1v4.3h-1zM1412 372.38h1v4.3h-1zM1431 372.38h1v4.3h-1zM1433 372.38h1v4.3h-1zM1435 372.38h1v4.3h-1zM1443 372.38h1v4.3h-1zM1466 372.38h1v4.3h-1zM1480 372.38h1v4.3h-1zM1490 372.38h2v4.3h-2zM1493 372.38h1v4.3h-1zM1495 372.38h1v4.3h-1zM1497 372.38h1v4.3h-1zM1499 372.38h1v4.3h-1zM1501 372.38h1v4.3h-1zM1506 372.38h1v4.3h-1zM1508 372.38h1v4.3h-1zM1510 372.38h1v4.3h-1zM1512 372.38h1v4.3h-1zM1515 372.38h2v4.3h-2zM1526 372.38h1v4.3h-1zM1537 372.38h1v4.3h-1zM1545 372.38h1v4.3h-1zM1566 372.38h3v4.3h-3zM882 377.69h1v4.3h-1zM903 377.69h1v4.3h-1zM911 377.69h1v4.3h-1zM916 377.69h1v4.3h-1zM941 377.69h1v4.3h-1zM943 377.69h1v4.3h-1zM947 377.69h1v4.3h-1zM975 377.69h1v4.3h-1zM1007 377.69h1v4.3h-1zM1047 377.69h1v4.3h-1zM1055 377.69h1v4.3h-1zM1079 377.69h1v4.3h-1zM1090 377.69h2v4.3h-2zM1112 377.69h1v4.3h-1zM1124 377.69h1v4.3h-1zM1132 377.69h1v4.3h-1zM1134 377.69h3v4.3h-3zM1139 377.69h2v4.3h-2zM1142 377.69h1v4.3h-1zM1146 377.69h1v4.3h-1zM1152 377.69h1v4.3h-1zM1159 377.69h1v4.3h-1zM1173 377.69h1v4.3h-1zM1184 377.69h1v4.3h-1zM1186 377.69h1v4.3h-1zM1192 377.69h1v4.3h-1zM1196 377.69h1v4.3h-1zM1199 377.69h1v4.3h-1zM1209 377.69h1v4.3h-1zM1214 377.69h1v4.3h-1zM1217 377.69h1v4.3h-1zM1223 377.69h1v4.3h-1zM1227 377.69h1v4.3h-1zM1245 377.69h1v4.3h-1zM1248 377.69h1v4.3h-1zM1286 377.69h2v4.3h-2zM1295 377.69h1v4.3h-1zM1302 377.69h1v4.3h-1zM1308 377.69h1v4.3h-1zM1316 377.69h1v4.3h-1zM1321 377.69h1v4.3h-1zM1342 377.69h1v4.3h-1zM1365 377.69h1v4.3h-1zM1376 377.69h1v4.3h-1zM1380 377.69h1v4.3h-1zM1384 377.69h1v4.3h-1zM1397 377.69h1v4.3h-1zM1403 377.69h1v4.3h-1zM1418 377.69h1v4.3h-1zM1426 377.69h1v4.3h-1zM1461 377.69h1v4.3h-1zM1472 377.69h1v4.3h-1zM1475 377.69h1v4.3h-1zM1478 377.69h1v4.3h-1zM1482 377.69h1v4.3h-1zM1484 377.69h3v4.3h-3zM1500 377.69h1v4.3h-1zM1504 377.69h1v4.3h-1zM1506 377.69h1v4.3h-1zM1512 377.69h1v4.3h-1zM1522 377.69h1v4.3h-1zM1537 377.69h1v4.3h-1zM1017 383h1v4.3h-1zM1108 383h1v4.3h-1zM1408 383h1v4.3h-1zM1505 383h1v4.3h-1zM887 388.31h1v4.3h-1zM913 388.31h1v4.3h-1zM926 388.31h1v4.3h-1zM945 388.31h4v4.3h-4zM953 388.31h1v4.3h-1zM965 388.31h1v4.3h-1zM975 388.31h1v4.3h-1zM985 388.31h2v4.3h-2zM988 388.31h1v4.3h-1zM1004 388.31h1v4.3h-1zM1007 388.31h1v4.3h-1zM1030 388.31h1v4.3h-1zM1051 388.31h1v4.3h-1zM1053 388.31h1v4.3h-1zM1057 388.31h1v4.3h-1zM1076 388.31h1v4.3h-1zM1082 388.31h2v4.3h-2zM1085 388.31h1v4.3h-1zM1138 388.31h1v4.3h-1zM1185 388.31h1v4.3h-1zM1188 388.31h1v4.3h-1zM1204 388.31h1v4.3h-1zM1217 388.31h1v4.3h-1zM1235 388.31h1v4.3h-1zM1241 388.31h1v4.3h-1zM1243 388.31h1v4.3h-1zM1256 388.31h4v4.3h-4zM1261 388.31h1v4.3h-1zM1278 388.31h1v4.3h-1zM1280 388.31h1v4.3h-1zM1286 388.31h1v4.3h-1zM1292 388.31h1v4.3h-1zM1294 388.31h4v4.3h-4zM1302 388.31h1v4.3h-1zM1306 388.31h1v4.3h-1zM1308 388.31h2v4.3h-2zM1314 388.31h1v4.3h-1zM1322 388.31h1v4.3h-1zM1324 388.31h1v4.3h-1zM1326 388.31h1v4.3h-1zM1328 388.31h1v4.3h-1zM1330 388.31h1v4.3h-1zM1349 388.31h2v4.3h-2zM1353 388.31h1v4.3h-1zM1356 388.31h1v4.3h-1zM1364 388.31h1v4.3h-1zM1368 388.31h1v4.3h-1zM1375 388.31h1v4.3h-1zM1391 388.31h1v4.3h-1zM1398 388.31h3v4.3h-3zM1405 388.31h2v4.3h-2zM1415 388.31h1v4.3h-1zM1417 388.31h3v4.3h-3zM1425 388.31h1v4.3h-1zM1431 388.31h1v4.3h-1zM1450 388.31h1v4.3h-1zM1452 388.31h1v4.3h-1zM1454 388.31h1v4.3h-1zM1460 388.31h1v4.3h-1zM1470 388.31h2v4.3h-2zM1473 388.31h1v4.3h-1zM1500 388.31h3v4.3h-3zM1506 388.31h1v4.3h-1zM1515 388.31h3v4.3h-3zM1520 388.31h1v4.3h-1zM1522 388.31h1v4.3h-1zM1531 388.31h1v4.3h-1zM1533 388.31h1v4.3h-1zM1538 388.31h1v4.3h-1zM1546 388.31h1v4.3h-1zM1551 388.31h1v4.3h-1zM1560 388.31h1v4.3h-1zM876 409.56h1v4.3h-1zM879 409.56h1v4.3h-1zM883 409.56h1v4.3h-1zM909 409.56h1v4.3h-1zM940 409.56h1v4.3h-1zM992 409.56h1v4.3h-1zM1006 409.56h1v4.3h-1zM1021 409.56h1v4.3h-1zM1038 409.56h2v4.3h-2zM1048 409.56h1v4.3h-1zM1050 409.56h1v4.3h-1zM1052 409.56h1v4.3h-1zM1062 409.56h3v4.3h-3zM1071 409.56h4v4.3h-4zM1079 409.56h1v4.3h-1zM1097 409.56h1v4.3h-1zM1105 409.56h1v4.3h-1zM1174 409.56h1v4.3h-1zM1178 409.56h1v4.3h-1zM1194 409.56h1v4.3h-1zM1199 409.56h1v4.3h-1zM1217 409.56h1v4.3h-1zM1224 409.56h1v4.3h-1zM1226 409.56h1v4.3h-1zM1236 409.56h1v4.3h-1zM1245 409.56h1v4.3h-1zM1274 409.56h1v4.3h-1zM1297 409.56h1v4.3h-1zM1309 409.56h3v4.3h-3zM1322 409.56h1v4.3h-1zM1325 409.56h1v4.3h-1zM1327 409.56h1v4.3h-1zM1330 409.56h4v4.3h-4zM1361 409.56h1v4.3h-1zM1366 409.56h1v4.3h-1zM1380 409.56h1v4.3h-1zM1394 409.56h1v4.3h-1zM1398 409.56h1v4.3h-1zM1409 409.56h1v4.3h-1zM1449 409.56h1v4.3h-1zM1456 409.56h4v4.3h-4zM1465 409.56h1v4.3h-1zM1476 409.56h1v4.3h-1zM1479 409.56h3v4.3h-3zM1483 409.56h1v4.3h-1zM1495 409.56h2v4.3h-2zM1502 409.56h1v4.3h-1zM1524 409.56h4v4.3h-4zM1537 409.56h3v4.3h-3zM1546 409.56h2v4.3h-2zM1551 409.56h1v4.3h-1zM1559 409.56h1v4.3h-1zM1561 409.56h1v4.3h-1zM1040 420.19h1v4.3h-1zM1192 420.19h1v4.3h-1zM1220 420.19h1v4.3h-1zM1360 420.19h1v4.3h-1zM1470 420.19h1v4.3h-1zM1549 420.19h1v4.3h-1z"/><path fill="#5b57ac" d="M1310 313.94h1v4.3h-1zM1516 313.94h1v4.3h-1zM871 340.5h2v4.3h-2zM879 340.5h3v4.3h-3zM903 340.5h1v4.3h-1zM905 340.5h1v4.3h-1zM911 340.5h1v4.3h-1zM946 340.5h1v4.3h-1zM965 340.5h1v4.3h-1zM970 340.5h1v4.3h-1zM986 340.5h1v4.3h-1zM1020 340.5h3v4.3h-3zM1029 340.5h1v4.3h-1zM1040 340.5h1v4.3h-1zM1048 340.5h1v4.3h-1zM1086 340.5h2v4.3h-2zM1118 340.5h1v4.3h-1zM1121 340.5h1v4.3h-1zM1129 340.5h1v4.3h-1zM1150 340.5h1v4.3h-1zM1179 340.5h1v4.3h-1zM1221 340.5h1v4.3h-1zM1262 340.5h1v4.3h-1zM1265 340.5h1v4.3h-1zM1426 340.5h1v4.3h-1zM1452 340.5h3v4.3h-3zM1468 340.5h1v4.3h-1zM1476 340.5h1v4.3h-1zM1499 340.5h1v4.3h-1zM1513 340.5h1v4.3h-1zM1520 340.5h1v4.3h-1zM1522 340.5h1v4.3h-1zM1526 340.5h1v4.3h-1zM1528 340.5h3v4.3h-3zM1534 340.5h3v4.3h-3zM1540 340.5h1v4.3h-1zM1543 340.5h3v4.3h-3zM1549 340.5h1v4.3h-1zM1551 340.5h1v4.3h-1zM1553 340.5h3v4.3h-3zM1545 345.81h1v4.3h-1zM1373 351.12h1v4.3h-1zM875 356.44h2v4.3h-2zM936 356.44h1v4.3h-1zM961 356.44h1v4.3h-1zM980 356.44h1v4.3h-1zM987 356.44h1v4.3h-1zM992 356.44h2v4.3h-2zM997 356.44h1v4.3h-1zM1019 356.44h1v4.3h-1zM1072 356.44h1v4.3h-1zM1077 356.44h1v4.3h-1zM1084 356.44h3v4.3h-3zM1095 356.44h1v4.3h-1zM1121 356.44h3v4.3h-3zM1144 356.44h1v4.3h-1zM1156 356.44h1v4.3h-1zM1192 356.44h2v4.3h-2zM1210 356.44h1v4.3h-1zM1212 356.44h3v4.3h-3zM1243 356.44h1v4.3h-1zM1245 356.44h1v4.3h-1zM1251 356.44h1v4.3h-1zM1267 356.44h1v4.3h-1zM1298 356.44h1v4.3h-1zM1318 356.44h1v4.3h-1zM1350 356.44h2v4.3h-2zM1360 356.44h1v4.3h-1zM1363 356.44h1v4.3h-1zM1373 356.44h3v4.3h-3zM1418 356.44h1v4.3h-1zM1432 356.44h1v4.3h-1zM1445 356.44h1v4.3h-1zM1452 356.44h1v4.3h-1zM1457 356.44h1v4.3h-1zM1464 356.44h3v4.3h-3zM1486 356.44h1v4.3h-1zM1497 356.44h1v4.3h-1zM1500 356.44h1v4.3h-1zM1506 356.44h1v4.3h-1zM1519 356.44h1v4.3h-1zM1534 356.44h2v4.3h-2zM1552 356.44h1v4.3h-1zM1554 356.44h1v4.3h-1zM887 361.75h1v4.3h-1zM982 361.75h1v4.3h-1zM1209 361.75h1v4.3h-1zM1331 361.75h1v4.3h-1zM1119 367.06h1v4.3h-1zM1247 367.06h1v4.3h-1zM1445 367.06h1v4.3h-1zM871 372.38h1v4.3h-1zM879 372.38h1v4.3h-1zM881 372.38h3v4.3h-3zM894 372.38h1v4.3h-1zM902 372.38h1v4.3h-1zM904 372.38h1v4.3h-1zM914 372.38h1v4.3h-1zM919 372.38h1v4.3h-1zM921 372.38h1v4.3h-1zM928 372.38h1v4.3h-1zM949 372.38h3v4.3h-3zM962 372.38h1v4.3h-1zM967 372.38h1v4.3h-1zM970 372.38h1v4.3h-1zM977 372.38h1v4.3h-1zM986 372.38h1v4.3h-1zM991 372.38h1v4.3h-1zM995 372.38h1v4.3h-1zM1004 372.38h4v4.3h-4zM1012 372.38h1v4.3h-1zM1017 372.38h4v4.3h-4zM1025 372.38h1v4.3h-1zM1034 372.38h4v4.3h-4zM1059 372.38h1v4.3h-1zM1061 372.38h1v4.3h-1zM1069 372.38h1v4.3h-1zM1071 372.38h3v4.3h-3zM1081 372.38h1v4.3h-1zM1085 372.38h1v4.3h-1zM1092 372.38h1v4.3h-1zM1094 372.38h1v4.3h-1zM1099 372.38h1v4.3h-1zM1101 372.38h1v4.3h-1zM1108 372.38h1v4.3h-1zM1112 372.38h1v4.3h-1zM1114 372.38h4v4.3h-4zM1125 372.38h1v4.3h-1zM1134 372.38h1v4.3h-1zM1138 372.38h1v4.3h-1zM1141 372.38h4v4.3h-4zM1150 372.38h1v4.3h-1zM1156 372.38h1v4.3h-1zM1160 372.38h1v4.3h-1zM1163 372.38h1v4.3h-1zM1171 372.38h1v4.3h-1zM1176 372.38h1v4.3h-1zM1178 372.38h1v4.3h-1zM1184 372.38h1v4.3h-1zM1193 372.38h3v4.3h-3zM1197 372.38h1v4.3h-1zM1207 372.38h1v4.3h-1zM1213 372.38h1v4.3h-1zM1225 372.38h1v4.3h-1zM1227 372.38h4v4.3h-4zM1235 372.38h1v4.3h-1zM1240 372.38h2v4.3h-2zM1256 372.38h1v4.3h-1zM1260 372.38h1v4.3h-1zM1263 372.38h1v4.3h-1zM1266 372.38h1v4.3h-1zM1280 372.38h1v4.3h-1zM1284 372.38h1v4.3h-1zM1291 372.38h1v4.3h-1zM1293 372.38h1v4.3h-1zM1300 372.38h1v4.3h-1zM1313 372.38h1v4.3h-1zM1336 372.38h1v4.3h-1zM1338 372.38h1v4.3h-1zM1341 372.38h2v4.3h-2zM1352 372.38h2v4.3h-2zM1366 372.38h1v4.3h-1zM1368 372.38h1v4.3h-1zM1371 372.38h1v4.3h-1zM1377 372.38h1v4.3h-1zM1382 372.38h1v4.3h-1zM1389 372.38h1v4.3h-1zM1399 372.38h2v4.3h-2zM1402 372.38h1v4.3h-1zM1405 372.38h1v4.3h-1zM1407 372.38h1v4.3h-1zM1417 372.38h1v4.3h-1zM1420 372.38h4v4.3h-4zM1425 372.38h2v4.3h-2zM1429 372.38h1v4.3h-1zM1437 372.38h1v4.3h-1zM1439 372.38h1v4.3h-1zM1447 372.38h4v4.3h-4zM1463 372.38h1v4.3h-1zM1468 372.38h1v4.3h-1zM1472 372.38h1v4.3h-1zM1478 372.38h1v4.3h-1zM1484 372.38h1v4.3h-1zM1486 372.38h2v4.3h-2zM1503 372.38h1v4.3h-1zM1521 372.38h1v4.3h-1zM1523 372.38h1v4.3h-1zM1532 372.38h1v4.3h-1zM1534 372.38h2v4.3h-2zM1542 372.38h1v4.3h-1zM1549 372.38h1v4.3h-1zM1552 372.38h1v4.3h-1zM1556 372.38h1v4.3h-1zM1561 372.38h1v4.3h-1zM884 377.69h1v4.3h-1zM890 377.69h1v4.3h-1zM894 377.69h1v4.3h-1zM899 377.69h1v4.3h-1zM920 377.69h1v4.3h-1zM923 377.69h1v4.3h-1zM931 377.69h1v4.3h-1zM958 377.69h1v4.3h-1zM961 377.69h1v4.3h-1zM963 377.69h1v4.3h-1zM965 377.69h1v4.3h-1zM967 377.69h2v4.3h-2zM978 377.69h3v4.3h-3zM990 377.69h1v4.3h-1zM995 377.69h1v4.3h-1zM1001 377.69h1v4.3h-1zM1009 377.69h1v4.3h-1zM1014 377.69h1v4.3h-1zM1018 377.69h1v4.3h-1zM1026 377.69h1v4.3h-1zM1034 377.69h1v4.3h-1zM1041 377.69h1v4.3h-1zM1049 377.69h1v4.3h-1zM1061 377.69h3v4.3h-3zM1066 377.69h1v4.3h-1zM1070 377.69h1v4.3h-1zM1074 377.69h1v4.3h-1zM1083 377.69h1v4.3h-1zM1093 377.69h1v4.3h-1zM1097 377.69h1v4.3h-1zM1099 377.69h1v4.3h-1zM1104 377.69h1v4.3h-1zM1107 377.69h1v4.3h-1zM1127 377.69h1v4.3h-1zM1130 377.69h1v4.3h-1zM1156 377.69h1v4.3h-1zM1161 377.69h1v4.3h-1zM1166 377.69h3v4.3h-3zM1176 377.69h3v4.3h-3zM1190 377.69h1v4.3h-1zM1194 377.69h1v4.3h-1zM1211 377.69h1v4.3h-1zM1230 377.69h1v4.3h-1zM1233 377.69h1v4.3h-1zM1235 377.69h1v4.3h-1zM1251 377.69h1v4.3h-1zM1253 377.69h1v4.3h-1zM1259 377.69h1v4.3h-1zM1264 377.69h1v4.3h-1zM1267 377.69h2v4.3h-2zM1270 377.69h1v4.3h-1zM1276 377.69h1v4.3h-1zM1280 377.69h1v4.3h-1zM1283 377.69h1v4.3h-1zM1291 377.69h1v4.3h-1zM1299 377.69h1v4.3h-1zM1306 377.69h1v4.3h-1zM1310 377.69h1v4.3h-1zM1312 377.69h1v4.3h-1zM1314 377.69h1v4.3h-1zM1319 377.69h1v4.3h-1zM1323 377.69h1v4.3h-1zM1328 377.69h2v4.3h-2zM1332 377.69h1v4.3h-1zM1334 377.69h3v4.3h-3zM1346 377.69h2v4.3h-2zM1351 377.69h1v4.3h-1zM1355 377.69h1v4.3h-1zM1359 377.69h2v4.3h-2zM1368 377.69h1v4.3h-1zM1382 377.69h1v4.3h-1zM1386 377.69h2v4.3h-2zM1394 377.69h1v4.3h-1zM1405 377.69h1v4.3h-1zM1407 377.69h1v4.3h-1zM1410 377.69h2v4.3h-2zM1420 377.69h1v4.3h-1zM1423 377.69h1v4.3h-1zM1434 377.69h1v4.3h-1zM1436 377.69h3v4.3h-3zM1444 377.69h2v4.3h-2zM1449 377.69h1v4.3h-1zM1455 377.69h2v4.3h-2zM1459 377.69h1v4.3h-1zM1463 377.69h3v4.3h-3zM1468 377.69h1v4.3h-1zM1470 377.69h1v4.3h-1zM1489 377.69h1v4.3h-1zM1492 377.69h1v4.3h-1zM1494 377.69h1v4.3h-1zM1508 377.69h1v4.3h-1zM1527 377.69h1v4.3h-1zM1529 377.69h1v4.3h-1zM1531 377.69h3v4.3h-3zM1540 377.69h1v4.3h-1zM1547 377.69h1v4.3h-1zM1551 377.69h1v4.3h-1zM1556 377.69h3v4.3h-3zM1562 377.69h1v4.3h-1zM1566 377.69h1v4.3h-1zM966 383h1v4.3h-1zM1027 383h1v4.3h-1zM1039 383h1v4.3h-1zM1167 383h1v4.3h-1zM1201 383h1v4.3h-1zM1204 383h1v4.3h-1zM1328 383h1v4.3h-1zM873 388.31h1v4.3h-1zM890 388.31h1v4.3h-1zM894 388.31h1v4.3h-1zM932 388.31h1v4.3h-1zM960 388.31h1v4.3h-1zM980 388.31h1v4.3h-1zM994 388.31h1v4.3h-1zM996 388.31h2v4.3h-2zM1010 388.31h1v4.3h-1zM1020 388.31h1v4.3h-1zM1022 388.31h1v4.3h-1zM1062 388.31h1v4.3h-1zM1071 388.31h1v4.3h-1zM1099 388.31h1v4.3h-1zM1102 388.31h1v4.3h-1zM1108 388.31h1v4.3h-1zM1153 388.31h1v4.3h-1zM1155 388.31h1v4.3h-1zM1157 388.31h1v4.3h-1zM1160 388.31h4v4.3h-4zM1165 388.31h1v4.3h-1zM1169 388.31h1v4.3h-1zM1174 388.31h1v4.3h-1zM1177 388.31h1v4.3h-1zM1179 388.31h1v4.3h-1zM1190 388.31h3v4.3h-3zM1195 388.31h1v4.3h-1zM1202 388.31h1v4.3h-1zM1206 388.31h1v4.3h-1zM1210 388.31h1v4.3h-1zM1213 388.31h1v4.3h-1zM1220 388.31h1v4.3h-1zM1223 388.31h1v4.3h-1zM1225 388.31h1v4.3h-1zM1227 388.31h1v4.3h-1zM1237 388.31h1v4.3h-1zM1245 388.31h1v4.3h-1zM1247 388.31h1v4.3h-1zM1250 388.31h1v4.3h-1zM1253 388.31h2v4.3h-2zM1264 388.31h3v4.3h-3zM1270 388.31h1v4.3h-1zM1272 388.31h1v4.3h-1zM1276 388.31h1v4.3h-1zM1289 388.31h1v4.3h-1zM1304 388.31h1v4.3h-1zM1312 388.31h1v4.3h-1zM1320 388.31h1v4.3h-1zM1343 388.31h1v4.3h-1zM1345 388.31h3v4.3h-3zM1358 388.31h1v4.3h-1zM1360 388.31h1v4.3h-1zM1366 388.31h1v4.3h-1zM1372 388.31h1v4.3h-1zM1377 388.31h1v4.3h-1zM1382 388.31h1v4.3h-1zM1384 388.31h1v4.3h-1zM1388 388.31h1v4.3h-1zM1402 388.31h1v4.3h-1zM1422 388.31h1v4.3h-1zM1433 388.31h4v4.3h-4zM1439 388.31h1v4.3h-1zM1443 388.31h2v4.3h-2zM1447 388.31h1v4.3h-1zM1464 388.31h1v4.3h-1zM1466 388.31h1v4.3h-1zM1477 388.31h1v4.3h-1zM1481 388.31h1v4.3h-1zM1484 388.31h1v4.3h-1zM1486 388.31h1v4.3h-1zM1489 388.31h1v4.3h-1zM1491 388.31h4v4.3h-4zM1498 388.31h1v4.3h-1zM1508 388.31h2v4.3h-2zM1524 388.31h1v4.3h-1zM1527 388.31h1v4.3h-1zM1529 388.31h1v4.3h-1zM1543 388.31h1v4.3h-1zM1553 388.31h1v4.3h-1zM1564 388.31h1v4.3h-1zM1568 388.31h1v4.3h-1zM871 409.56h4v4.3h-4zM893 409.56h1v4.3h-1zM896 409.56h1v4.3h-1zM901 409.56h1v4.3h-1zM916 409.56h1v4.3h-1zM919 409.56h1v4.3h-1zM931 409.56h1v4.3h-1zM947 409.56h3v4.3h-3zM956 409.56h1v4.3h-1zM963 409.56h1v4.3h-1zM969 409.56h1v4.3h-1zM972 409.56h1v4.3h-1zM976 409.56h1v4.3h-1zM996 409.56h1v4.3h-1zM1001 409.56h1v4.3h-1zM1015 409.56h1v4.3h-1zM1017 409.56h1v4.3h-1zM1023 409.56h1v4.3h-1zM1044 409.56h1v4.3h-1zM1067 409.56h1v4.3h-1zM1092 409.56h4v4.3h-4zM1100 409.56h1v4.3h-1zM1103 409.56h1v4.3h-1zM1109 409.56h4v4.3h-4zM1124 409.56h1v4.3h-1zM1132 409.56h1v4.3h-1zM1134 409.56h1v4.3h-1zM1139 409.56h1v4.3h-1zM1142 409.56h1v4.3h-1zM1145 409.56h1v4.3h-1zM1150 409.56h3v4.3h-3zM1170 409.56h1v4.3h-1zM1172 409.56h1v4.3h-1zM1192 409.56h1v4.3h-1zM1196 409.56h1v4.3h-1zM1204 409.56h1v4.3h-1zM1210 409.56h1v4.3h-1zM1212 409.56h1v4.3h-1zM1219 409.56h1v4.3h-1zM1221 409.56h1v4.3h-1zM1229 409.56h1v4.3h-1zM1247 409.56h1v4.3h-1zM1255 409.56h1v4.3h-1zM1258 409.56h1v4.3h-1zM1260 409.56h2v4.3h-2zM1265 409.56h1v4.3h-1zM1267 409.56h1v4.3h-1zM1279 409.56h1v4.3h-1zM1286 409.56h1v4.3h-1zM1290 409.56h2v4.3h-2zM1295 409.56h1v4.3h-1zM1299 409.56h1v4.3h-1zM1303 409.56h2v4.3h-2zM1306 409.56h1v4.3h-1zM1316 409.56h1v4.3h-1zM1339 409.56h1v4.3h-1zM1343 409.56h1v4.3h-1zM1345 409.56h1v4.3h-1zM1352 409.56h1v4.3h-1zM1356 409.56h1v4.3h-1zM1372 409.56h1v4.3h-1zM1374 409.56h1v4.3h-1zM1377 409.56h1v4.3h-1zM1385 409.56h1v4.3h-1zM1389 409.56h1v4.3h-1zM1392 409.56h1v4.3h-1zM1402 409.56h1v4.3h-1zM1413 409.56h1v4.3h-1zM1418 409.56h1v4.3h-1zM1420 409.56h3v4.3h-3zM1429 409.56h4v4.3h-4zM1436 409.56h1v4.3h-1zM1439 409.56h1v4.3h-1zM1445 409.56h1v4.3h-1zM1451 409.56h1v4.3h-1zM1453 409.56h1v4.3h-1zM1468 409.56h1v4.3h-1zM1472 409.56h1v4.3h-1zM1474 409.56h1v4.3h-1zM1492 409.56h1v4.3h-1zM1499 409.56h1v4.3h-1zM1504 409.56h1v4.3h-1zM1506 409.56h1v4.3h-1zM1508 409.56h1v4.3h-1zM1512 409.56h1v4.3h-1zM1515 409.56h3v4.3h-3zM1520 409.56h3v4.3h-3zM1532 409.56h1v4.3h-1zM1543 409.56h1v4.3h-1zM1553 409.56h1v4.3h-1zM1563 409.56h4v4.3h-4zM1568 409.56h1v4.3h-1zM956 420.19h1v4.3h-1zM962 420.19h1v4.3h-1zM990 420.19h1v4.3h-1zM1004 420.19h1v4.3h-1zM1069 420.19h1v4.3h-1zM1111 420.19h1v4.3h-1zM1214 420.19h1v4.3h-1zM1279 420.19h1v4.3h-1zM1300 420.19h1v4.3h-1zM1302 420.19h1v4.3h-1zM1334 420.19h1v4.3h-1zM1354 420.19h1v4.3h-1zM1479 420.19h1v4.3h-1zM1502 420.19h1v4.3h-1zM1525 420.19h1v4.3h-1zM1564 420.19h1v4.3h-1z"/><path fill="#d0ec9c" d="M1340 340.5h2v4.3h-2z"/><path fill="#e1504a" d="M1495 356.44h2v4.3h-2z"/></svg>
<span class="t" style="left:840.14px;top:249.4px;font-size:12px;color:#ccccdc;letter-spacing:0.271px;">+Inf</span>
<span class="t" style="left:815.52px;top:260.02px;font-size:12px;color:#ccccdc;letter-spacing:0.293px;">256 MiB</span>
<span class="t" style="left:822.46px;top:270.65px;font-size:12px;color:#ccccdc;letter-spacing:0.299px;">64 MiB</span>
<span class="t" style="left:822.46px;top:281.27px;font-size:12px;color:#ccccdc;letter-spacing:0.299px;">16 MiB</span>
<span class="t" style="left:829.4px;top:291.9px;font-size:12px;color:#ccccdc;letter-spacing:0.307px;">4 MiB</span>
<span class="t" style="left:829.4px;top:302.52px;font-size:12px;color:#ccccdc;letter-spacing:0.307px;">1 MiB</span>
<span class="t" style="left:817.59px;top:313.15px;font-size:12px;color:#ccccdc;letter-spacing:0.28px;">256 KiB</span>
<span class="t" style="left:824.53px;top:323.77px;font-size:12px;color:#ccccdc;letter-spacing:0.283px;">64 KiB</span>
<span class="t" style="left:824.53px;top:334.4px;font-size:12px;color:#ccccdc;letter-spacing:0.283px;">16 KiB</span>
<span class="t" style="left:831.47px;top:345.02px;font-size:12px;color:#ccccdc;letter-spacing:0.287px;">4 KiB</span>
<span class="t" style="left:831.47px;top:355.65px;font-size:12px;color:#ccccdc;letter-spacing:0.287px;">1 KiB</span>
<span class="t" style="left:828.69px;top:366.27px;font-size:12px;color:#ccccdc;letter-spacing:0.314px;">256 B</span>
<span class="t" style="left:835.63px;top:376.9px;font-size:12px;color:#ccccdc;letter-spacing:0.329px;">64 B</span>
<span class="t" style="left:835.63px;top:387.52px;font-size:12px;color:#ccccdc;letter-spacing:0.329px;">16 B</span>
<span class="t" style="left:842.57px;top:398.15px;font-size:12px;color:#ccccdc;letter-spacing:0.36px;">4 B</span>
<span class="t" style="left:842.57px;top:408.77px;font-size:12px;color:#ccccdc;letter-spacing:0.36px;">1 B</span>
<span class="t" style="left:842.57px;top:419.4px;font-size:12px;color:#ccccdc;letter-spacing:0.36px;">0 B</span>
<span class="t" style="left:869.55px;top:433.6px;font-size:12px;color:#ccccdc;letter-spacing:0.868px;">02:00</span>
<span class="t" style="left:927.55px;top:433.6px;font-size:12px;color:#ccccdc;letter-spacing:0.868px;">04:00</span>
<span class="t" style="left:985.55px;top:433.6px;font-size:12px;color:#ccccdc;letter-spacing:0.868px;">06:00</span>
<span class="t" style="left:1044.55px;top:433.6px;font-size:12px;color:#ccccdc;letter-spacing:0.868px;">08:00</span>
<span class="t" style="left:1102.55px;top:433.6px;font-size:12px;color:#ccccdc;letter-spacing:0.868px;">10:00</span>
<span class="t" style="left:1160.55px;top:433.6px;font-size:12px;color:#ccccdc;letter-spacing:0.868px;">12:00</span>
<span class="t" style="left:1218.55px;top:433.6px;font-size:12px;color:#ccccdc;letter-spacing:0.868px;">14:00</span>
<span class="t" style="left:1276.55px;top:433.6px;font-size:12px;color:#ccccdc;letter-spacing:0.868px;">16:00</span>
<span class="t" style="left:1334.55px;top:433.6px;font-size:12px;color:#ccccdc;letter-spacing:0.868px;">18:00</span>
<span class="t" style="left:1393.55px;top:433.6px;font-size:12px;color:#ccccdc;letter-spacing:0.868px;">20:00</span>
<span class="t" style="left:1451.55px;top:433.6px;font-size:12px;color:#ccccdc;letter-spacing:0.868px;">22:00</span>
<span class="t" style="left:1509.55px;top:433.6px;font-size:12px;color:#ccccdc;letter-spacing:0.868px;">00:00</span>
<div class="a" style="left:839px;top:457px;width:300px;height:8px;border-radius:2px;background:linear-gradient(90deg,#6150a9,#3288bd,#66c2a5,#abdda4,#e6f598,#ffffbf,#fee08b,#fdae61,#f46d43,#d53e4f,#9e0142)"></div>
<span class="t" style="left:839.3px;top:468.25px;font-size:11.5px;color:#8e8e9b;letter-spacing:0.329px;">0.000736 req/s</span>
<span class="t" style="left:1078.5px;top:468.25px;font-size:11.5px;color:#8e8e9b;letter-spacing:0.297px;">0.975 req/s</span>
</div></section>
<section class="p" style="left:15px;top:510px;width:782px;height:296px"><div class="o" style="left:-16px;top:-511px">
<span class="t" style="left:23.5px;top:519.8px;font-size:14px;color:#ccccdc;letter-spacing:0.553px;-webkit-text-stroke:.25px #ccccdc;">Request Latency</span>
<svg class="a" style="left:0;top:0" width="1595" height="950" viewBox="0 0 1595 950"><path d="M80 559.5H780.5M80 574.5H780.5M80 589.5H780.5M80 603.5H780.5M80 618.5H780.5M80 633.5H780.5M80 648.5H780.5M80 663.5H780.5M80 678.5H780.5M80 692.5H780.5M80 707.5H780.5M80 722.5H780.5M80 737.5H780.5M80 752.5H780.5M94.5 559.5V756.6M152.5 559.5V756.6M211.5 559.5V756.6M269.5 559.5V756.6M328.5 559.5V756.6M386.5 559.5V756.6M444.5 559.5V756.6M503.5 559.5V756.6M561.5 559.5V756.6M620.5 559.5V756.6M678.5 559.5V756.6M736.5 559.5V756.6" stroke="#2b2e33" stroke-width="1" fill="none"/><clipPath id="lc"><rect x="80" y="557.5" width="700.5" height="195.1"/></clipPath><g clip-path="url(#lc)"><path d="M80 698.57L81.22 698.57L82.43 698.57L83.65 698.57L84.87 698.57L86.09 685.83L87.3 698.57L88.52 674.93L89.74 698.57L90.96 698.57L92.17 698.57L93.39 665.76L94.61 679.84L95.83 698.57L97.04 698.57L98.26 686.94L99.48 698.57L100.7 698.57L101.91 698.57L103.13 698.57L104.35 698.57L105.57 671.22L106.78 698.57L108 666.6L109.22 674.98L110.43 673.37L111.65 675.57L112.87 688.41L114.09 666.6L115.3 698.57L116.52 698.57L117.74 698.57L118.96 700.6L120.17 698.57L121.39 700.19L122.61 698.57L123.83 698.57L125.04 698.57L126.26 672.81L127.48 698.57L128.7 667.62L129.91 698.57L131.13 704.08L132.35 705.47L133.57 698.57L134.78 698.57L136 698.57L137.22 698.57L138.43 698.57L139.65 698.57L140.87 669.52L142.09 698.57L143.3 698.57L144.52 666.93L145.74 698.57L146.96 675.12L148.17 700.38L149.39 666.06L150.61 698.57L151.83 705.26L153.04 670.75L154.26 698.57L155.48 670.77L156.7 698.57L157.91 698.57L159.13 698.57L160.35 698.57L161.57 698.57L162.78 706.46L164 698.57L165.22 698.57L166.43 667.85L167.65 666.66L168.87 698.57L170.09 698.57L171.3 698.57L172.52 701.65L173.74 704.79L174.96 674.28L176.17 681.1L177.39 698.57L178.61 702.31L179.83 676.03L181.04 698.57L182.26 698.57L183.48 698.57L184.7 698.57L185.91 686.19L187.13 698.57L188.35 712L189.57 674.63L190.78 698.57L192 665.55L193.22 672.53L194.43 703.77L195.65 677.23L196.87 698.57L198.09 667.65L199.3 668.82L200.52 698.57L201.74 698.57L202.96 698.57L204.17 705.15L205.39 674.63L206.61 698.57L207.83 698.57L209.04 703.87L210.26 684.18L211.48 698.57L212.7 698.57L213.91 667.13L215.13 698.57L216.35 698.57L217.57 666.7L218.78 698.57L220 667.98L221.22 698.57L222.43 698.57L223.65 698.57L224.87 685.32L226.09 710L227.3 698.57L228.52 698.57L229.74 698.57L230.96 698.57L232.17 698.57L233.39 698.57L234.61 681.99L235.83 669.08L237.04 701.71L238.26 669.13L239.48 674.32L240.7 669.98L241.91 698.57L243.13 702.71L244.35 665.99L245.57 700.48L246.78 670.88L248 667.97L249.22 704.84L250.43 698.57L251.65 698.57L252.87 698.57L254.09 698.57L255.3 667.74L256.52 682.91L257.74 673.71L258.96 698.57L260.17 673.38L261.39 698.57L262.61 698.57L263.83 705.97L265.04 698.57L266.26 698.57L267.48 680.98L268.7 669.93L269.91 670.73L271.13 667.59L272.35 698.57L273.57 681.97L274.78 687.71L276 698.57L277.22 699.64L278.43 668.28L279.65 702.9L280.87 698.57L282.09 698.57L283.3 703.72L284.52 709L285.74 698.57L286.96 698.57L288.17 684.49L289.39 698.57L290.61 698.57L291.83 698.57L293.04 698.57L294.26 700.82L295.48 698.57L296.7 682.86L297.91 698.57L299.13 674.08L300.35 698.57L301.57 698.57L302.78 698.57L304 701.54L305.22 666.27L306.43 671.06L307.65 698.57L308.87 698.57L310.09 698.57L311.3 698.57L312.52 666.68L313.74 698.57L314.96 698.57L316.17 698.57L317.39 665.75L318.61 698.57L319.83 670.54L321.04 698.57L322.26 698.57L323.48 685.21L324.7 698.57L325.91 698.57L327.13 698.57L328.35 716L329.57 698.57L330.78 698.57L332 666.07L333.22 698.57L334.43 673.22L335.65 699.68L336.87 698.57L338.09 698.57L339.3 684.73L340.52 705.02L341.74 698.57L342.96 672.81L344.17 698.57L345.39 698.57L346.61 681.02L347.83 667.82L349.04 698.57L350.26 698.57L351.48 698.57L352.7 698.57L353.91 698.57L355.13 698.57L356.35 698.57L357.57 698.57L358.78 698.57L360 698.57L361.22 698.57L362.43 698.57L363.65 698.57L364.87 698.57L366.09 698.57L367.3 699.72L368.52 698.57L369.74 698.57L370.96 698.57L372.17 698.57L373.39 698.57L374.61 673.41L375.83 698.57L377.04 668.53L378.26 685.49L379.48 703.97L380.7 698.57L381.91 665.63L383.13 673.35L384.35 666.28L385.57 698.57L386.78 671.95L388 698.57L389.22 673.55L390.43 665.12L391.65 698.57L392.87 677.98L394.09 698.57L395.3 671.98L396.52 698.57L397.74 698.57L398.96 698.57L400.17 698.57L401.39 674.01L402.61 698.57L403.83 698.57L405.04 698.57L406.26 680.49L407.48 668.4L408.7 698.57L409.91 700.83L411.13 698.57L412.35 701.15L413.57 670.23L414.78 676.72L416 698.57L417.22 674.84L418.43 698.57L419.65 698.57L420.87 698.57L422.09 681.63L423.3 698.57L424.52 698.57L425.74 698.57L426.96 685.32L428.17 666.01L429.39 676.58L430.61 699.94L431.83 698.57L433.04 713L434.26 698.57L435.48 698.57L436.7 706.4L437.91 698.57L439.13 698.57L440.35 698.57L441.57 698.57L442.78 698.57L444 685.91L445.22 698.57L446.43 698.57L447.65 704.08L448.87 683.25L450.09 698.57L451.3 703.75L452.52 698.57L453.74 698.57L454.96 698.57L456.17 698.57L457.39 698.57L458.61 698.57L459.83 698.57L461.04 698.57L462.26 666.11L463.48 669.4L464.7 700.73L465.91 698.57L467.13 698.57L468.35 698.57L469.57 698.57L470.78 698.57L472 704.19L473.22 698.57L474.43 701.32L475.65 673.51L476.87 698.57L478.09 666.6L479.3 674.69L480.52 698.57L481.74 671.13L482.96 698.57L484.17 698.57L485.39 698.57L486.61 698.57L487.83 698.57L489.04 701.81L490.26 698.57L491.48 674.27L492.7 698.57L493.91 698.57L495.13 668.14L496.35 706.19L497.57 681.57L498.78 698.57L500 667.75L501.22 703.12L502.43 698.57L503.65 702.55L504.87 698.57L506.09 698.57L507.3 698.57L508.52 698.57L509.74 675.59L510.96 698.57L512.17 698.57L513.39 698.57L514.61 680.3L515.83 698.57L517.04 698.57L518.26 698.57L519.48 706.09L520.7 698.57L521.91 698.57L523.13 698.57L524.35 698.57L525.57 698.57L526.78 703.85L528 667.84L529.22 698.57L530.43 667.03L531.65 675.06L532.87 698.57L534.09 665.76L535.3 698.57L536.52 698.57L537.74 698.57L538.96 667.71L540.17 668.79L541.39 698.57L542.61 702.32L543.83 698.57L545.04 670.96L546.26 701.17L547.48 698.57L548.7 676.77L549.91 728L551.13 698.57L552.35 670.56L553.57 702.9L554.78 698.57L556 701.52L557.22 698.57L558.43 698.57L559.65 668.06L560.87 705.94L562.09 698.57L563.3 698.57L564.52 698.57L565.74 698.57L566.96 698.57L568.17 698.57L569.39 698.57L570.61 698.57L571.83 698.57L573.04 671.31L574.26 670.35L575.48 698.57L576.7 698.57L577.91 698.57L579.13 698.57L580.35 671.26L581.57 698.57L582.78 698.57L584 698.57L585.22 698.57L586.43 698.57L587.65 698.57L588.87 698.57L590.09 703.07L591.3 673.23L592.52 698.57L593.74 665.11L594.96 704.95L596.17 669.9L597.39 672.96L598.61 698.57L599.83 681.05L601.04 698.57L602.26 669.77L603.48 682.87L604.7 698.57L605.91 706.2L607.13 698.57L608.35 675.08L609.57 698.57L610.78 700.6L612 699.64L613.22 703.02L614.43 698.57L615.65 698.57L616.87 688.22L618.09 698.57L619.3 665.75L620.52 698.57L621.74 698.57L622.96 698.57L624.17 698.57L625.39 706.04L626.61 698.57L627.83 698.57L629.04 701.99L630.26 698.57L631.48 698.57L632.7 698.57L633.91 672.5L635.13 698.57L636.35 665.48L637.57 702.46L638.78 698.57L640 698.57L641.22 698.57L642.43 698.57L643.65 737L644.87 698.57L646.09 698.57L647.3 698.57L648.52 671.98L649.74 680.12L650.96 698.57L652.17 698.57L653.39 698.57L654.61 698.57L655.83 672.48L657.04 698.57L658.26 698.57L659.48 670.93L660.7 698.57L661.91 698.57L663.13 704.89L664.35 698.57L665.57 698.57L666.78 672.42L668 698.57L669.22 700.49L670.43 698.57L671.65 673.01L672.87 681.2L674.09 671.18L675.3 698.57L676.52 701.44L677.74 668.7L678.96 698.57L680.17 704.83L681.39 698.57L682.61 698.57L683.83 698.57L685.04 698.57L686.26 700.44L687.48 698.57L688.7 698.57L689.91 674.94L691.13 698.57L692.35 698.57L693.57 698.57L694.78 671.41L696 701.37L697.22 698.57L698.43 698.57L699.65 698.57L700.87 686.79L702.09 698.57L703.3 685.05L704.52 746L705.74 698.57L706.96 691L708.17 667.15L709.39 698.57L710.61 698.57L711.83 674.92L713.04 698.57L714.26 698.57L715.48 732L716.7 666.25L717.91 698.57L719.13 738L720.35 698.57L721.57 741L722.78 720.34L724 741L725.22 730L726.43 719.3L727.65 721.16L728.87 717.47L730.09 719.23L731.3 721.44L732.52 717.65L733.74 721.46L734.96 721.96L736.17 717.83L737.39 717.34L738.61 716.56L739.83 709.08L741.04 708.02L742.26 720.72L743.48 710.35L744.7 718.15L745.91 720.6L747.13 717.06L748.35 709.76L749.57 718.55L750.78 716.14L752 718.85L753.22 716.19L754.43 721.08L755.65 719.16L756.87 719.04L758.09 718.46L759.3 711.39L760.52 715.2L761.74 718.24L762.96 712.14L764.17 719.8L765.39 721.33L766.61 710.22L767.83 717.23L769.04 706.46L770.26 712.11L771.48 722.49L772.7 712.54L773.91 721.17L775.13 718.45L776.35 716.33L777.57 716.86L778.78 722.61L780 713.28L780 752.6L80 752.6Z" fill="#73bf69" fill-opacity=".1" stroke="none"/><path d="M80 664.11L81.22 664.11L82.43 664.11L83.65 664.11L84.87 664.11L86.09 664.11L87.3 664.11L88.52 664.11L89.74 664.11L90.96 664.11L92.17 664.11L93.39 664.11L94.61 664.11L95.83 664.11L97.04 664.11L98.26 664.11L99.48 664.11L100.7 664.11L101.91 664.11L103.13 664.11L104.35 664.11L105.57 664.11L106.78 664.11L108 664.11L109.22 664.11L110.43 664.11L111.65 664.11L112.87 664.11L114.09 664.11L115.3 664.11L116.52 664.11L117.74 664.11L118.96 664.11L120.17 664.11L121.39 664.11L122.61 664.11L123.83 664.11L125.04 664.11L126.26 664.11L127.48 664.11L128.7 664.11L129.91 664.11L131.13 664.11L132.35 664.11L133.57 664.11L134.78 664.11L136 664.11L137.22 664.11L138.43 664.11L139.65 664.11L140.87 664.11L142.09 664.11L143.3 665.01L144.52 665.01L145.74 665.01L146.96 664.11L148.17 664.11L149.39 664.11L150.61 664.11L151.83 664.11L153.04 664.11L154.26 664.11L155.48 664.11L156.7 664.11L157.91 664.11L159.13 664.11L160.35 664.11L161.57 664.11L162.78 664.11L164 664.11L165.22 664.11L166.43 664.11L167.65 664.11L168.87 664.11L170.09 664.11L171.3 664.11L172.52 664.11L173.74 664.11L174.96 665.01L176.17 664.11L177.39 664.11L178.61 664.11L179.83 664.11L181.04 664.11L182.26 664.11L183.48 664.11L184.7 664.11L185.91 665.01L187.13 665.01L188.35 664.11L189.57 664.11L190.78 664.11L192 664.11L193.22 665.01L194.43 664.11L195.65 664.11L196.87 664.11L198.09 664.11L199.3 664.11L200.52 664.11L201.74 665.01L202.96 664.11L204.17 664.11L205.39 664.11L206.61 664.11L207.83 664.11L209.04 664.11L210.26 664.11L211.48 664.11L212.7 664.11L213.91 664.11L215.13 664.11L216.35 664.11L217.57 664.11L218.78 664.11L220 664.11L221.22 665.01L222.43 664.11L223.65 664.11L224.87 664.11L226.09 665.01L227.3 664.11L228.52 664.11L229.74 664.11L230.96 664.11L232.17 665.01L233.39 664.11L234.61 665.01L235.83 665.01L237.04 664.11L238.26 664.11L239.48 664.11L240.7 664.11L241.91 664.11L243.13 664.11L244.35 664.11L245.57 664.11L246.78 664.11L248 664.11L249.22 664.11L250.43 664.11L251.65 664.11L252.87 664.11L254.09 664.11L255.3 664.11L256.52 664.11L257.74 665.01L258.96 664.11L260.17 664.11L261.39 665.01L262.61 664.11L263.83 664.11L265.04 664.11L266.26 664.11L267.48 664.11L268.7 664.11L269.91 664.11L271.13 664.11L272.35 664.11L273.57 664.11L274.78 664.11L276 664.11L277.22 664.11L278.43 664.11L279.65 664.11L280.87 664.11L282.09 664.11L283.3 664.11L284.52 664.11L285.74 664.11L286.96 664.11L288.17 664.11L289.39 664.11L290.61 664.11L291.83 664.11L293.04 664.11L294.26 665.01L295.48 664.11L296.7 664.11L297.91 664.11L299.13 664.11L300.35 664.11L301.57 664.11L302.78 664.11L304 664.11L305.22 664.11L306.43 664.11L307.65 664.11L308.87 664.11L310.09 664.11L311.3 664.11L312.52 664.11L313.74 664.11L314.96 664.11L316.17 664.11L317.39 664.11L318.61 664.11L319.83 664.11L321.04 664.11L322.26 664.11L323.48 664.11L324.7 664.11L325.91 664.11L327.13 664.11L328.35 664.11L329.57 664.11L330.78 665.01L332 664.11L333.22 664.11L334.43 664.11L335.65 664.11L336.87 664.11L338.09 664.11L339.3 665.01L340.52 665.01L341.74 664.11L342.96 664.11L344.17 664.11L345.39 664.11L346.61 664.11L347.83 664.11L349.04 664.11L350.26 664.11L351.48 664.11L352.7 664.11L353.91 664.11L355.13 664.11L356.35 664.11L357.57 664.11L358.78 664.11L360 664.11L361.22 664.11L362.43 664.11L363.65 664.11L364.87 664.11L366.09 665.01L367.3 664.11L368.52 664.11L369.74 664.11L370.96 664.11L372.17 664.11L373.39 664.11L374.61 664.11L375.83 664.11L377.04 664.11L378.26 664.11L379.48 664.11L380.7 664.11L381.91 664.11L383.13 664.11L384.35 664.11L385.57 664.11L386.78 664.11L388 665.01L389.22 664.11L390.43 664.11L391.65 664.11L392.87 664.11L394.09 665.01L395.3 664.11L396.52 664.11L397.74 664.11L398.96 664.11L400.17 664.11L401.39 664.11L402.61 664.11L403.83 664.11L405.04 664.11L406.26 664.11L407.48 664.11L408.7 665.01L409.91 665.01L411.13 664.11L412.35 664.11L413.57 664.11L414.78 664.11L416 665.01L417.22 664.11L418.43 664.11L419.65 664.11L420.87 664.11L422.09 664.11L423.3 664.11L424.52 664.11L425.74 664.11L426.96 664.11L428.17 664.11L429.39 664.11L430.61 664.11L431.83 664.11L433.04 664.11L434.26 664.11L435.48 664.11L436.7 664.11L437.91 664.11L439.13 664.11L440.35 664.11L441.57 664.11L442.78 664.11L444 664.11L445.22 664.11L446.43 664.11L447.65 664.11L448.87 664.11L450.09 664.11L451.3 664.11L452.52 664.11L453.74 664.11L454.96 665.01L456.17 664.11L457.39 665.01L458.61 664.11L459.83 664.11L461.04 665.01L462.26 664.11L463.48 665.01L464.7 664.11L465.91 664.11L467.13 664.11L468.35 665.01L469.57 664.11L470.78 664.11L472 664.11L473.22 664.11L474.43 664.11L475.65 664.11L476.87 665.01L478.09 664.11L479.3 664.11L480.52 664.11L481.74 664.11L482.96 664.11L484.17 664.11L485.39 664.11L486.61 664.11L487.83 664.11L489.04 664.11L490.26 664.11L491.48 664.11L492.7 664.11L493.91 664.11L495.13 664.11L496.35 665.01L497.57 664.11L498.78 664.11L500 665.01L501.22 664.11L502.43 664.11L503.65 664.11L504.87 664.11L506.09 664.11L507.3 664.11L508.52 664.11L509.74 664.11L510.96 664.11L512.17 664.11L513.39 664.11L514.61 664.11L515.83 664.11L517.04 664.11L518.26 664.11L519.48 664.11L520.7 664.11L521.91 664.11L523.13 665.01L524.35 664.11L525.57 664.11L526.78 664.11L528 664.11L529.22 664.11L530.43 664.11L531.65 664.11L532.87 664.11L534.09 664.11L535.3 664.11L536.52 664.11L537.74 664.11L538.96 664.11L540.17 664.11L541.39 664.11L542.61 664.11L543.83 664.11L545.04 664.11L546.26 665.01L547.48 664.11L548.7 664.11L549.91 683L551.13 664.11L552.35 665.01L553.57 664.11L554.78 664.11L556 664.11L557.22 664.11L558.43 664.11L559.65 664.11L560.87 664.11L562.09 664.11L563.3 664.11L564.52 664.11L565.74 664.11L566.96 664.11L568.17 665.01L569.39 664.11L570.61 664.11L571.83 664.11L573.04 664.11L574.26 664.11L575.48 664.11L576.7 664.11L577.91 664.11L579.13 664.11L580.35 664.11L581.57 664.11L582.78 665.01L584 664.11L585.22 664.11L586.43 664.11L587.65 664.11L588.87 664.11L590.09 664.11L591.3 664.11L592.52 664.11L593.74 664.11L594.96 664.11L596.17 664.11L597.39 664.11L598.61 664.11L599.83 664.11L601.04 664.11L602.26 664.11L603.48 664.11L604.7 665.01L605.91 664.11L607.13 664.11L608.35 664.11L609.57 664.11L610.78 664.11L612 664.11L613.22 664.11L614.43 664.11L615.65 665.01L616.87 664.11L618.09 665.01L619.3 664.11L620.52 664.11L621.74 664.11L622.96 664.11L624.17 664.11L625.39 664.11L626.61 664.11L627.83 664.11L629.04 665.01L630.26 664.11L631.48 664.11L632.7 664.11L633.91 664.11L635.13 664.11L636.35 664.11L637.57 664.11L638.78 664.11L640 664.11L641.22 664.11L642.43 664.11L643.65 664.11L644.87 664.11L646.09 664.11L647.3 664.11L648.52 664.11L649.74 665.01L650.96 664.11L652.17 664.11L653.39 664.11L654.61 664.11L655.83 664.11L657.04 664.11L658.26 664.11L659.48 664.11L660.7 664.11L661.91 664.11L663.13 664.11L664.35 664.11L665.57 664.11L666.78 664.11L668 664.11L669.22 664.11L670.43 664.11L671.65 664.11L672.87 664.11L674.09 664.11L675.3 664.11L676.52 664.11L677.74 664.11L678.96 664.11L680.17 664.11L681.39 664.11L682.61 664.11L683.83 664.11L685.04 664.11L686.26 664.11L687.48 665.01L688.7 664.11L689.91 664.11L691.13 664.11L692.35 664.11L693.57 664.11L694.78 664.11L696 665.01L697.22 664.11L698.43 664.11L699.65 664.11L700.87 665.01L702.09 664.11L703.3 664.11L704.52 696L705.74 664.11L706.96 690L708.17 664.11L709.39 664.11L710.61 664.11L711.83 664.11L713.04 664.11L714.26 664.11L715.48 664.11L716.7 664.11L717.91 665.01L719.13 664.11L720.35 664.11L721.57 699.37L722.78 699.37L724 699.37L725.22 699.37L726.43 699.37L727.65 699.37L728.87 699.37L730.09 699.37L731.3 699.37L732.52 699.37L733.74 699.37L734.96 699.37L736.17 699.37L737.39 699.37L738.61 699.37L739.83 699.37L741.04 699.37L742.26 699.37L743.48 699.37L744.7 699.37L745.91 699.37L747.13 699.37L748.35 699.37L749.57 699.37L750.78 699.37L752 699.37L753.22 699.37L754.43 699.37L755.65 699.37L756.87 699.37L758.09 699.37L759.3 699.37L760.52 699.37L761.74 699.37L762.96 699.37L764.17 699.37L765.39 699.37L766.61 699.37L767.83 699.37L769.04 699.37L770.26 699.37L771.48 699.37L772.7 699.37L773.91 699.37L775.13 699.37L776.35 699.37L777.57 699.37L778.78 699.37L780 699.37L780 752.6L80 752.6Z" fill="#fade2a" fill-opacity=".12" stroke="none"/><path d="M80 663.11L81.22 663.11L82.43 648.18L83.65 663.11L84.87 663.11L86.09 648.18L87.3 648.18L88.52 648.18L89.74 663.11L90.96 663.11L92.17 663.11L93.39 663.11L94.61 663.11L95.83 565.5L97.04 663.11L98.26 648.18L99.48 648.18L100.7 648.18L101.91 648.18L103.13 663.11L104.35 648.18L105.57 648.18L106.78 681L108 663.11L109.22 663.11L110.43 663.11L111.65 663.11L112.87 663.11L114.09 663.11L115.3 663.11L116.52 663.11L117.74 663.11L118.96 663.11L120.17 663.11L121.39 663.11L122.61 663.11L123.83 663.11L125.04 663.11L126.26 663.11L127.48 663.11L128.7 663.11L129.91 663.11L131.13 663.11L132.35 682L133.57 663.11L134.78 663.11L136 648.18L137.22 663.11L138.43 648.18L139.65 663.11L140.87 663.11L142.09 663.11L143.3 663.11L144.52 663.11L145.74 648.18L146.96 663.11L148.17 663.11L149.39 663.11L150.61 663.11L151.83 663.11L153.04 663.11L154.26 663.11L155.48 663.11L156.7 663.11L157.91 663.11L159.13 663.11L160.35 663.11L161.57 663.11L162.78 663.11L164 663.11L165.22 648.18L166.43 663.11L167.65 663.11L168.87 663.11L170.09 663.11L171.3 663.11L172.52 663.11L173.74 663.11L174.96 663.11L176.17 663.11L177.39 663.11L178.61 663.11L179.83 663.11L181.04 663.11L182.26 663.11L183.48 648.18L184.7 680L185.91 663.11L187.13 663.11L188.35 663.11L189.57 648.18L190.78 648.18L192 648.18L193.22 648.18L194.43 648.18L195.65 663.11L196.87 663.11L198.09 663.11L199.3 663.11L200.52 663.11L201.74 663.11L202.96 648.18L204.17 663.11L205.39 648.18L206.61 648.18L207.83 663.11L209.04 663.11L210.26 663.11L211.48 663.11L212.7 663.11L213.91 663.11L215.13 648.18L216.35 648.18L217.57 663.11L218.78 663.11L220 648.18L221.22 663.11L222.43 663.11L223.65 663.11L224.87 648.18L226.09 648.18L227.3 663.11L228.52 663.11L229.74 648.18L230.96 663.11L232.17 648.18L233.39 648.18L234.61 663.11L235.83 663.11L237.04 648.18L238.26 648.18L239.48 648.18L240.7 663.11L241.91 663.11L243.13 663.11L244.35 663.11L245.57 663.11L246.78 648.18L248 683L249.22 648.18L250.43 663.11L251.65 663.11L252.87 663.11L254.09 663.11L255.3 663.11L256.52 681L257.74 648.18L258.96 663.11L260.17 663.11L261.39 663.11L262.61 648.18L263.83 663.11L265.04 663.11L266.26 663.11L267.48 663.11L268.7 648.18L269.91 663.11L271.13 683L272.35 663.11L273.57 663.11L274.78 648.18L276 648.18L277.22 663.11L278.43 663.11L279.65 648.18L280.87 663.11L282.09 663.11L283.3 663.11L284.52 663.11L285.74 663.11L286.96 663.11L288.17 663.11L289.39 663.11L290.61 663.11L291.83 663.11L293.04 663.11L294.26 663.11L295.48 663.11L296.7 663.11L297.91 663.11L299.13 663.11L300.35 648.18L301.57 648.18L302.78 663.11L304 663.11L305.22 663.11L306.43 663.11L307.65 663.11L308.87 648.18L310.09 663.11L311.3 663.11L312.52 663.11L313.74 648.18L314.96 648.18L316.17 663.11L317.39 663.11L318.61 663.11L319.83 663.11L321.04 663.11L322.26 663.11L323.48 663.11L324.7 663.11L325.91 663.11L327.13 663.11L328.35 663.11L329.57 663.11L330.78 663.11L332 663.11L333.22 663.11L334.43 663.11L335.65 648.18L336.87 663.11L338.09 648.18L339.3 663.11L340.52 663.11L341.74 663.11L342.96 663.11L344.17 663.11L345.39 663.11L346.61 663.11L347.83 663.11L349.04 663.11L350.26 648.18L351.48 648.18L352.7 648.18L353.91 648.18L355.13 648.18L356.35 663.11L357.57 648.18L358.78 648.18L360 663.11L361.22 663.11L362.43 663.11L363.65 648.18L364.87 648.18L366.09 663.11L367.3 648.18L368.52 663.11L369.74 663.11L370.96 663.11L372.17 663.11L373.39 648.18L374.61 663.11L375.83 648.18L377.04 648.18L378.26 648.18L379.48 614.5L380.7 663.11L381.91 663.11L383.13 663.11L384.35 663.11L385.57 663.11L386.78 663.11L388 648.18L389.22 663.11L390.43 648.18L391.65 663.11L392.87 648.18L394.09 648.18L395.3 663.11L396.52 663.11L397.74 648.18L398.96 663.11L400.17 663.11L401.39 663.11L402.61 663.11L403.83 663.11L405.04 663.11L406.26 663.11L407.48 663.11L408.7 648.18L409.91 663.11L411.13 663.11L412.35 663.11L413.57 648.18L414.78 663.11L416 663.11L417.22 663.11L418.43 663.11L419.65 663.11L420.87 663.11L422.09 663.11L423.3 663.11L424.52 663.11L425.74 663.11L426.96 663.11L428.17 648.18L429.39 663.11L430.61 663.11L431.83 663.11L433.04 663.11L434.26 663.11L435.48 663.11L436.7 648.18L437.91 648.18L439.13 648.18L440.35 663.11L441.57 663.11L442.78 663.11L444 648.18L445.22 648.18L446.43 648.18L447.65 663.11L448.87 663.11L450.09 663.11L451.3 663.11L452.52 663.11L453.74 648.18L454.96 648.18L456.17 648.18L457.39 663.11L458.61 663.11L459.83 663.11L461.04 663.11L462.26 663.11L463.48 663.11L464.7 663.11L465.91 663.11L467.13 663.11L468.35 663.11L469.57 663.11L470.78 663.11L472 663.11L473.22 663.11L474.43 663.11L475.65 663.11L476.87 663.11L478.09 584.5L479.3 663.11L480.52 663.11L481.74 648.18L482.96 663.11L484.17 663.11L485.39 648.18L486.61 648.18L487.83 648.18L489.04 648.18L490.26 663.11L491.48 648.18L492.7 648.18L493.91 648.18L495.13 648.18L496.35 663.11L497.57 648.18L498.78 648.18L500 663.11L501.22 663.11L502.43 663.11L503.65 663.11L504.87 648.18L506.09 663.11L507.3 648.18L508.52 648.18L509.74 648.18L510.96 648.18L512.17 663.11L513.39 663.11L514.61 663.11L515.83 663.11L517.04 663.11L518.26 648.18L519.48 663.11L520.7 663.11L521.91 663.11L523.13 663.11L524.35 663.11L525.57 663.11L526.78 663.11L528 648.18L529.22 614.5L530.43 648.18L531.65 663.11L532.87 663.11L534.09 663.11L535.3 648.18L536.52 648.18L537.74 663.11L538.96 663.11L540.17 663.11L541.39 663.11L542.61 663.11L543.83 663.11L545.04 663.11L546.26 663.11L547.48 663.11L548.7 663.11L549.91 663.11L551.13 663.11L552.35 663.11L553.57 648.18L554.78 663.11L556 663.11L557.22 663.11L558.43 648.18L559.65 648.18L560.87 648.18L562.09 648.18L563.3 648.18L564.52 663.11L565.74 648.18L566.96 663.11L568.17 663.11L569.39 663.11L570.61 663.11L571.83 663.11L573.04 663.11L574.26 648.18L575.48 663.11L576.7 663.11L577.91 663.11L579.13 648.18L580.35 663.11L581.57 663.11L582.78 663.11L584 663.11L585.22 640L586.43 663.11L587.65 663.11L588.87 663.11L590.09 648.18L591.3 648.18L592.52 663.11L593.74 663.11L594.96 648.18L596.17 663.11L597.39 648.18L598.61 648.18L599.83 663.11L601.04 648.18L602.26 663.11L603.48 663.11L604.7 663.11L605.91 663.11L607.13 663.11L608.35 663.11L609.57 663.11L610.78 663.11L612 648.18L613.22 663.11L614.43 663.11L615.65 648.18L616.87 663.11L618.09 663.11L619.3 640L620.52 663.11L621.74 663.11L622.96 663.11L624.17 663.11L625.39 663.11L626.61 663.11L627.83 648.18L629.04 663.11L630.26 648.18L631.48 663.11L632.7 663.11L633.91 648.18L635.13 663.11L636.35 663.11L637.57 663.11L638.78 663.11L640 648.18L641.22 648.18L642.43 663.11L643.65 663.11L644.87 663.11L646.09 663.11L647.3 663.11L648.52 648.18L649.74 663.11L650.96 663.11L652.17 663.11L653.39 648.18L654.61 663.11L655.83 648.18L657.04 663.11L658.26 663.11L659.48 663.11L660.7 663.11L661.91 663.11L663.13 663.11L664.35 663.11L665.57 663.11L666.78 663.11L668 663.11L669.22 663.11L670.43 663.11L671.65 663.11L672.87 663.11L674.09 663.11L675.3 663.11L676.52 663.11L677.74 663.11L678.96 663.11L680.17 663.11L681.39 663.11L682.61 648.18L683.83 648.18L685.04 663.11L686.26 663.11L687.48 663.11L688.7 648.18L689.91 663.11L691.13 648.18L692.35 663.11L693.57 663.11L694.78 663.11L696 648.18L697.22 648.18L698.43 663.11L699.65 663.11L700.87 663.11L702.09 648.18L703.3 663.11L704.52 663.11L705.74 663.11L706.96 663.11L708.17 663.11L709.39 663.11L710.61 663.11L711.83 663.11L713.04 663.11L714.26 663.11L715.48 648.18L716.7 663.11L717.91 663.11L719.13 599.5L720.35 663.11L721.57 663.11L722.78 698.57L724 663.11L725.22 663.11L726.43 663.11L727.65 648.18L728.87 698.57L730.09 698.57L731.3 663.11L732.52 698.57L733.74 698.57L734.96 698.57L736.17 648.18L737.39 698.57L738.61 648.18L739.83 663.11L741.04 663.11L742.26 698.57L743.48 698.57L744.7 663.11L745.91 698.57L747.13 698.57L748.35 698.57L749.57 640L750.78 663.11L752 663.11L753.22 663.11L754.43 698.57L755.65 698.57L756.87 698.57L758.09 663.11L759.3 698.57L760.52 663.11L761.74 663.11L762.96 614.5L764.17 698.57L765.39 663.11L766.61 663.11L767.83 663.11L769.04 663.11L770.26 663.11L771.48 663.11L772.7 663.11L773.91 698.57L775.13 698.57L776.35 698.57L777.57 698.57L778.78 648L780 698.57L780 752.6L80 752.6Z" fill="#8ab8ff" fill-opacity=".12" stroke="none"/><path d="M80 698.57L81.22 698.57L82.43 698.57L83.65 698.57L84.87 698.57L86.09 685.83L87.3 698.57L88.52 674.93L89.74 698.57L90.96 698.57L92.17 698.57L93.39 665.76L94.61 679.84L95.83 698.57L97.04 698.57L98.26 686.94L99.48 698.57L100.7 698.57L101.91 698.57L103.13 698.57L104.35 698.57L105.57 671.22L106.78 698.57L108 666.6L109.22 674.98L110.43 673.37L111.65 675.57L112.87 688.41L114.09 666.6L115.3 698.57L116.52 698.57L117.74 698.57L118.96 700.6L120.17 698.57L121.39 700.19L122.61 698.57L123.83 698.57L125.04 698.57L126.26 672.81L127.48 698.57L128.7 667.62L129.91 698.57L131.13 704.08L132.35 705.47L133.57 698.57L134.78 698.57L136 698.57L137.22 698.57L138.43 698.57L139.65 698.57L140.87 669.52L142.09 698.57L143.3 698.57L144.52 666.93L145.74 698.57L146.96 675.12L148.17 700.38L149.39 666.06L150.61 698.57L151.83 705.26L153.04 670.75L154.26 698.57L155.48 670.77L156.7 698.57L157.91 698.57L159.13 698.57L160.35 698.57L161.57 698.57L162.78 706.46L164 698.57L165.22 698.57L166.43 667.85L167.65 666.66L168.87 698.57L170.09 698.57L171.3 698.57L172.52 701.65L173.74 704.79L174.96 674.28L176.17 681.1L177.39 698.57L178.61 702.31L179.83 676.03L181.04 698.57L182.26 698.57L183.48 698.57L184.7 698.57L185.91 686.19L187.13 698.57L188.35 712L189.57 674.63L190.78 698.57L192 665.55L193.22 672.53L194.43 703.77L195.65 677.23L196.87 698.57L198.09 667.65L199.3 668.82L200.52 698.57L201.74 698.57L202.96 698.57L204.17 705.15L205.39 674.63L206.61 698.57L207.83 698.57L209.04 703.87L210.26 684.18L211.48 698.57L212.7 698.57L213.91 667.13L215.13 698.57L216.35 698.57L217.57 666.7L218.78 698.57L220 667.98L221.22 698.57L222.43 698.57L223.65 698.57L224.87 685.32L226.09 710L227.3 698.57L228.52 698.57L229.74 698.57L230.96 698.57L232.17 698.57L233.39 698.57L234.61 681.99L235.83 669.08L237.04 701.71L238.26 669.13L239.48 674.32L240.7 669.98L241.91 698.57L243.13 702.71L244.35 665.99L245.57 700.48L246.78 670.88L248 667.97L249.22 704.84L250.43 698.57L251.65 698.57L252.87 698.57L254.09 698.57L255.3 667.74L256.52 682.91L257.74 673.71L258.96 698.57L260.17 673.38L261.39 698.57L262.61 698.57L263.83 705.97L265.04 698.57L266.26 698.57L267.48 680.98L268.7 669.93L269.91 670.73L271.13 667.59L272.35 698.57L273.57 681.97L274.78 687.71L276 698.57L277.22 699.64L278.43 668.28L279.65 702.9L280.87 698.57L282.09 698.57L283.3 703.72L284.52 709L285.74 698.57L286.96 698.57L288.17 684.49L289.39 698.57L290.61 698.57L291.83 698.57L293.04 698.57L294.26 700.82L295.48 698.57L296.7 682.86L297.91 698.57L299.13 674.08L300.35 698.57L301.57 698.57L302.78 698.57L304 701.54L305.22 666.27L306.43 671.06L307.65 698.57L308.87 698.57L310.09 698.57L311.3 698.57L312.52 666.68L313.74 698.57L314.96 698.57L316.17 698.57L317.39 665.75L318.61 698.57L319.83 670.54L321.04 698.57L322.26 698.57L323.48 685.21L324.7 698.57L325.91 698.57L327.13 698.57L328.35 716L329.57 698.57L330.78 698.57L332 666.07L333.22 698.57L334.43 673.22L335.65 699.68L336.87 698.57L338.09 698.57L339.3 684.73L340.52 705.02L341.74 698.57L342.96 672.81L344.17 698.57L345.39 698.57L346.61 681.02L347.83 667.82L349.04 698.57L350.26 698.57L351.48 698.57L352.7 698.57L353.91 698.57L355.13 698.57L356.35 698.57L357.57 698.57L358.78 698.57L360 698.57L361.22 698.57L362.43 698.57L363.65 698.57L364.87 698.57L366.09 698.57L367.3 699.72L368.52 698.57L369.74 698.57L370.96 698.57L372.17 698.57L373.39 698.57L374.61 673.41L375.83 698.57L377.04 668.53L378.26 685.49L379.48 703.97L380.7 698.57L381.91 665.63L383.13 673.35L384.35 666.28L385.57 698.57L386.78 671.95L388 698.57L389.22 673.55L390.43 665.12L391.65 698.57L392.87 677.98L394.09 698.57L395.3 671.98L396.52 698.57L397.74 698.57L398.96 698.57L400.17 698.57L401.39 674.01L402.61 698.57L403.83 698.57L405.04 698.57L406.26 680.49L407.48 668.4L408.7 698.57L409.91 700.83L411.13 698.57L412.35 701.15L413.57 670.23L414.78 676.72L416 698.57L417.22 674.84L418.43 698.57L419.65 698.57L420.87 698.57L422.09 681.63L423.3 698.57L424.52 698.57L425.74 698.57L426.96 685.32L428.17 666.01L429.39 676.58L430.61 699.94L431.83 698.57L433.04 713L434.26 698.57L435.48 698.57L436.7 706.4L437.91 698.57L439.13 698.57L440.35 698.57L441.57 698.57L442.78 698.57L444 685.91L445.22 698.57L446.43 698.57L447.65 704.08L448.87 683.25L450.09 698.57L451.3 703.75L452.52 698.57L453.74 698.57L454.96 698.57L456.17 698.57L457.39 698.57L458.61 698.57L459.83 698.57L461.04 698.57L462.26 666.11L463.48 669.4L464.7 700.73L465.91 698.57L467.13 698.57L468.35 698.57L469.57 698.57L470.78 698.57L472 704.19L473.22 698.57L474.43 701.32L475.65 673.51L476.87 698.57L478.09 666.6L479.3 674.69L480.52 698.57L481.74 671.13L482.96 698.57L484.17 698.57L485.39 698.57L486.61 698.57L487.83 698.57L489.04 701.81L490.26 698.57L491.48 674.27L492.7 698.57L493.91 698.57L495.13 668.14L496.35 706.19L497.57 681.57L498.78 698.57L500 667.75L501.22 703.12L502.43 698.57L503.65 702.55L504.87 698.57L506.09 698.57L507.3 698.57L508.52 698.57L509.74 675.59L510.96 698.57L512.17 698.57L513.39 698.57L514.61 680.3L515.83 698.57L517.04 698.57L518.26 698.57L519.48 706.09L520.7 698.57L521.91 698.57L523.13 698.57L524.35 698.57L525.57 698.57L526.78 703.85L528 667.84L529.22 698.57L530.43 667.03L531.65 675.06L532.87 698.57L534.09 665.76L535.3 698.57L536.52 698.57L537.74 698.57L538.96 667.71L540.17 668.79L541.39 698.57L542.61 702.32L543.83 698.57L545.04 670.96L546.26 701.17L547.48 698.57L548.7 676.77L549.91 728L551.13 698.57L552.35 670.56L553.57 702.9L554.78 698.57L556 701.52L557.22 698.57L558.43 698.57L559.65 668.06L560.87 705.94L562.09 698.57L563.3 698.57L564.52 698.57L565.74 698.57L566.96 698.57L568.17 698.57L569.39 698.57L570.61 698.57L571.83 698.57L573.04 671.31L574.26 670.35L575.48 698.57L576.7 698.57L577.91 698.57L579.13 698.57L580.35 671.26L581.57 698.57L582.78 698.57L584 698.57L585.22 698.57L586.43 698.57L587.65 698.57L588.87 698.57L590.09 703.07L591.3 673.23L592.52 698.57L593.74 665.11L594.96 704.95L596.17 669.9L597.39 672.96L598.61 698.57L599.83 681.05L601.04 698.57L602.26 669.77L603.48 682.87L604.7 698.57L605.91 706.2L607.13 698.57L608.35 675.08L609.57 698.57L610.78 700.6L612 699.64L613.22 703.02L614.43 698.57L615.65 698.57L616.87 688.22L618.09 698.57L619.3 665.75L620.52 698.57L621.74 698.57L622.96 698.57L624.17 698.57L625.39 706.04L626.61 698.57L627.83 698.57L629.04 701.99L630.26 698.57L631.48 698.57L632.7 698.57L633.91 672.5L635.13 698.57L636.35 665.48L637.57 702.46L638.78 698.57L640 698.57L641.22 698.57L642.43 698.57L643.65 737L644.87 698.57L646.09 698.57L647.3 698.57L648.52 671.98L649.74 680.12L650.96 698.57L652.17 698.57L653.39 698.57L654.61 698.57L655.83 672.48L657.04 698.57L658.26 698.57L659.48 670.93L660.7 698.57L661.91 698.57L663.13 704.89L664.35 698.57L665.57 698.57L666.78 672.42L668 698.57L669.22 700.49L670.43 698.57L671.65 673.01L672.87 681.2L674.09 671.18L675.3 698.57L676.52 701.44L677.74 668.7L678.96 698.57L680.17 704.83L681.39 698.57L682.61 698.57L683.83 698.57L685.04 698.57L686.26 700.44L687.48 698.57L688.7 698.57L689.91 674.94L691.13 698.57L692.35 698.57L693.57 698.57L694.78 671.41L696 701.37L697.22 698.57L698.43 698.57L699.65 698.57L700.87 686.79L702.09 698.57L703.3 685.05L704.52 746L705.74 698.57L706.96 691L708.17 667.15L709.39 698.57L710.61 698.57L711.83 674.92L713.04 698.57L714.26 698.57L715.48 732L716.7 666.25L717.91 698.57L719.13 738L720.35 698.57L721.57 741L722.78 720.34L724 741L725.22 730L726.43 719.3L727.65 721.16L728.87 717.47L730.09 719.23L731.3 721.44L732.52 717.65L733.74 721.46L734.96 721.96L736.17 717.83L737.39 717.34L738.61 716.56L739.83 709.08L741.04 708.02L742.26 720.72L743.48 710.35L744.7 718.15L745.91 720.6L747.13 717.06L748.35 709.76L749.57 718.55L750.78 716.14L752 718.85L753.22 716.19L754.43 721.08L755.65 719.16L756.87 719.04L758.09 718.46L759.3 711.39L760.52 715.2L761.74 718.24L762.96 712.14L764.17 719.8L765.39 721.33L766.61 710.22L767.83 717.23L769.04 706.46L770.26 712.11L771.48 722.49L772.7 712.54L773.91 721.17L775.13 718.45L776.35 716.33L777.57 716.86L778.78 722.61L780 713.28" fill="none" stroke="#79c36e" stroke-width="1.1" stroke-linejoin="round"/><path d="M80 664.11L81.22 664.11L82.43 664.11L83.65 664.11L84.87 664.11L86.09 664.11L87.3 664.11L88.52 664.11L89.74 664.11L90.96 664.11L92.17 664.11L93.39 664.11L94.61 664.11L95.83 664.11L97.04 664.11L98.26 664.11L99.48 664.11L100.7 664.11L101.91 664.11L103.13 664.11L104.35 664.11L105.57 664.11L106.78 664.11L108 664.11L109.22 664.11L110.43 664.11L111.65 664.11L112.87 664.11L114.09 664.11L115.3 664.11L116.52 664.11L117.74 664.11L118.96 664.11L120.17 664.11L121.39 664.11L122.61 664.11L123.83 664.11L125.04 664.11L126.26 664.11L127.48 664.11L128.7 664.11L129.91 664.11L131.13 664.11L132.35 664.11L133.57 664.11L134.78 664.11L136 664.11L137.22 664.11L138.43 664.11L139.65 664.11L140.87 664.11L142.09 664.11L143.3 665.01L144.52 665.01L145.74 665.01L146.96 664.11L148.17 664.11L149.39 664.11L150.61 664.11L151.83 664.11L153.04 664.11L154.26 664.11L155.48 664.11L156.7 664.11L157.91 664.11L159.13 664.11L160.35 664.11L161.57 664.11L162.78 664.11L164 664.11L165.22 664.11L166.43 664.11L167.65 664.11L168.87 664.11L170.09 664.11L171.3 664.11L172.52 664.11L173.74 664.11L174.96 665.01L176.17 664.11L177.39 664.11L178.61 664.11L179.83 664.11L181.04 664.11L182.26 664.11L183.48 664.11L184.7 664.11L185.91 665.01L187.13 665.01L188.35 664.11L189.57 664.11L190.78 664.11L192 664.11L193.22 665.01L194.43 664.11L195.65 664.11L196.87 664.11L198.09 664.11L199.3 664.11L200.52 664.11L201.74 665.01L202.96 664.11L204.17 664.11L205.39 664.11L206.61 664.11L207.83 664.11L209.04 664.11L210.26 664.11L211.48 664.11L212.7 664.11L213.91 664.11L215.13 664.11L216.35 664.11L217.57 664.11L218.78 664.11L220 664.11L221.22 665.01L222.43 664.11L223.65 664.11L224.87 664.11L226.09 665.01L227.3 664.11L228.52 664.11L229.74 664.11L230.96 664.11L232.17 665.01L233.39 664.11L234.61 665.01L235.83 665.01L237.04 664.11L238.26 664.11L239.48 664.11L240.7 664.11L241.91 664.11L243.13 664.11L244.35 664.11L245.57 664.11L246.78 664.11L248 664.11L249.22 664.11L250.43 664.11L251.65 664.11L252.87 664.11L254.09 664.11L255.3 664.11L256.52 664.11L257.74 665.01L258.96 664.11L260.17 664.11L261.39 665.01L262.61 664.11L263.83 664.11L265.04 664.11L266.26 664.11L267.48 664.11L268.7 664.11L269.91 664.11L271.13 664.11L272.35 664.11L273.57 664.11L274.78 664.11L276 664.11L277.22 664.11L278.43 664.11L279.65 664.11L280.87 664.11L282.09 664.11L283.3 664.11L284.52 664.11L285.74 664.11L286.96 664.11L288.17 664.11L289.39 664.11L290.61 664.11L291.83 664.11L293.04 664.11L294.26 665.01L295.48 664.11L296.7 664.11L297.91 664.11L299.13 664.11L300.35 664.11L301.57 664.11L302.78 664.11L304 664.11L305.22 664.11L306.43 664.11L307.65 664.11L308.87 664.11L310.09 664.11L311.3 664.11L312.52 664.11L313.74 664.11L314.96 664.11L316.17 664.11L317.39 664.11L318.61 664.11L319.83 664.11L321.04 664.11L322.26 664.11L323.48 664.11L324.7 664.11L325.91 664.11L327.13 664.11L328.35 664.11L329.57 664.11L330.78 665.01L332 664.11L333.22 664.11L334.43 664.11L335.65 664.11L336.87 664.11L338.09 664.11L339.3 665.01L340.52 665.01L341.74 664.11L342.96 664.11L344.17 664.11L345.39 664.11L346.61 664.11L347.83 664.11L349.04 664.11L350.26 664.11L351.48 664.11L352.7 664.11L353.91 664.11L355.13 664.11L356.35 664.11L357.57 664.11L358.78 664.11L360 664.11L361.22 664.11L362.43 664.11L363.65 664.11L364.87 664.11L366.09 665.01L367.3 664.11L368.52 664.11L369.74 664.11L370.96 664.11L372.17 664.11L373.39 664.11L374.61 664.11L375.83 664.11L377.04 664.11L378.26 664.11L379.48 664.11L380.7 664.11L381.91 664.11L383.13 664.11L384.35 664.11L385.57 664.11L386.78 664.11L388 665.01L389.22 664.11L390.43 664.11L391.65 664.11L392.87 664.11L394.09 665.01L395.3 664.11L396.52 664.11L397.74 664.11L398.96 664.11L400.17 664.11L401.39 664.11L402.61 664.11L403.83 664.11L405.04 664.11L406.26 664.11L407.48 664.11L408.7 665.01L409.91 665.01L411.13 664.11L412.35 664.11L413.57 664.11L414.78 664.11L416 665.01L417.22 664.11L418.43 664.11L419.65 664.11L420.87 664.11L422.09 664.11L423.3 664.11L424.52 664.11L425.74 664.11L426.96 664.11L428.17 664.11L429.39 664.11L430.61 664.11L431.83 664.11L433.04 664.11L434.26 664.11L435.48 664.11L436.7 664.11L437.91 664.11L439.13 664.11L440.35 664.11L441.57 664.11L442.78 664.11L444 664.11L445.22 664.11L446.43 664.11L447.65 664.11L448.87 664.11L450.09 664.11L451.3 664.11L452.52 664.11L453.74 664.11L454.96 665.01L456.17 664.11L457.39 665.01L458.61 664.11L459.83 664.11L461.04 665.01L462.26 664.11L463.48 665.01L464.7 664.11L465.91 664.11L467.13 664.11L468.35 665.01L469.57 664.11L470.78 664.11L472 664.11L473.22 664.11L474.43 664.11L475.65 664.11L476.87 665.01L478.09 664.11L479.3 664.11L480.52 664.11L481.74 664.11L482.96 664.11L484.17 664.11L485.39 664.11L486.61 664.11L487.83 664.11L489.04 664.11L490.26 664.11L491.48 664.11L492.7 664.11L493.91 664.11L495.13 664.11L496.35 665.01L497.57 664.11L498.78 664.11L500 665.01L501.22 664.11L502.43 664.11L503.65 664.11L504.87 664.11L506.09 664.11L507.3 664.11L508.52 664.11L509.74 664.11L510.96 664.11L512.17 664.11L513.39 664.11L514.61 664.11L515.83 664.11L517.04 664.11L518.26 664.11L519.48 664.11L520.7 664.11L521.91 664.11L523.13 665.01L524.35 664.11L525.57 664.11L526.78 664.11L528 664.11L529.22 664.11L530.43 664.11L531.65 664.11L532.87 664.11L534.09 664.11L535.3 664.11L536.52 664.11L537.74 664.11L538.96 664.11L540.17 664.11L541.39 664.11L542.61 664.11L543.83 664.11L545.04 664.11L546.26 665.01L547.48 664.11L548.7 664.11L549.91 683L551.13 664.11L552.35 665.01L553.57 664.11L554.78 664.11L556 664.11L557.22 664.11L558.43 664.11L559.65 664.11L560.87 664.11L562.09 664.11L563.3 664.11L564.52 664.11L565.74 664.11L566.96 664.11L568.17 665.01L569.39 664.11L570.61 664.11L571.83 664.11L573.04 664.11L574.26 664.11L575.48 664.11L576.7 664.11L577.91 664.11L579.13 664.11L580.35 664.11L581.57 664.11L582.78 665.01L584 664.11L585.22 664.11L586.43 664.11L587.65 664.11L588.87 664.11L590.09 664.11L591.3 664.11L592.52 664.11L593.74 664.11L594.96 664.11L596.17 664.11L597.39 664.11L598.61 664.11L599.83 664.11L601.04 664.11L602.26 664.11L603.48 664.11L604.7 665.01L605.91 664.11L607.13 664.11L608.35 664.11L609.57 664.11L610.78 664.11L612 664.11L613.22 664.11L614.43 664.11L615.65 665.01L616.87 664.11L618.09 665.01L619.3 664.11L620.52 664.11L621.74 664.11L622.96 664.11L624.17 664.11L625.39 664.11L626.61 664.11L627.83 664.11L629.04 665.01L630.26 664.11L631.48 664.11L632.7 664.11L633.91 664.11L635.13 664.11L636.35 664.11L637.57 664.11L638.78 664.11L640 664.11L641.22 664.11L642.43 664.11L643.65 664.11L644.87 664.11L646.09 664.11L647.3 664.11L648.52 664.11L649.74 665.01L650.96 664.11L652.17 664.11L653.39 664.11L654.61 664.11L655.83 664.11L657.04 664.11L658.26 664.11L659.48 664.11L660.7 664.11L661.91 664.11L663.13 664.11L664.35 664.11L665.57 664.11L666.78 664.11L668 664.11L669.22 664.11L670.43 664.11L671.65 664.11L672.87 664.11L674.09 664.11L675.3 664.11L676.52 664.11L677.74 664.11L678.96 664.11L680.17 664.11L681.39 664.11L682.61 664.11L683.83 664.11L685.04 664.11L686.26 664.11L687.48 665.01L688.7 664.11L689.91 664.11L691.13 664.11L692.35 664.11L693.57 664.11L694.78 664.11L696 665.01L697.22 664.11L698.43 664.11L699.65 664.11L700.87 665.01L702.09 664.11L703.3 664.11L704.52 696L705.74 664.11L706.96 690L708.17 664.11L709.39 664.11L710.61 664.11L711.83 664.11L713.04 664.11L714.26 664.11L715.48 664.11L716.7 664.11L717.91 665.01L719.13 664.11L720.35 664.11L721.57 699.37L722.78 699.37L724 699.37L725.22 699.37L726.43 699.37L727.65 699.37L728.87 699.37L730.09 699.37L731.3 699.37L732.52 699.37L733.74 699.37L734.96 699.37L736.17 699.37L737.39 699.37L738.61 699.37L739.83 699.37L741.04 699.37L742.26 699.37L743.48 699.37L744.7 699.37L745.91 699.37L747.13 699.37L748.35 699.37L749.57 699.37L750.78 699.37L752 699.37L753.22 699.37L754.43 699.37L755.65 699.37L756.87 699.37L758.09 699.37L759.3 699.37L760.52 699.37L761.74 699.37L762.96 699.37L764.17 699.37L765.39 699.37L766.61 699.37L767.83 699.37L769.04 699.37L770.26 699.37L771.48 699.37L772.7 699.37L773.91 699.37L775.13 699.37L776.35 699.37L777.57 699.37L778.78 699.37L780 699.37" fill="none" stroke="#fade2a" stroke-width="1.1" stroke-linejoin="round"/><path d="M80 663.11L81.22 663.11L82.43 648.18L83.65 663.11L84.87 663.11L86.09 648.18L87.3 648.18L88.52 648.18L89.74 663.11L90.96 663.11L92.17 663.11L93.39 663.11L94.61 663.11L95.83 565.5L97.04 663.11L98.26 648.18L99.48 648.18L100.7 648.18L101.91 648.18L103.13 663.11L104.35 648.18L105.57 648.18L106.78 681L108 663.11L109.22 663.11L110.43 663.11L111.65 663.11L112.87 663.11L114.09 663.11L115.3 663.11L116.52 663.11L117.74 663.11L118.96 663.11L120.17 663.11L121.39 663.11L122.61 663.11L123.83 663.11L125.04 663.11L126.26 663.11L127.48 663.11L128.7 663.11L129.91 663.11L131.13 663.11L132.35 682L133.57 663.11L134.78 663.11L136 648.18L137.22 663.11L138.43 648.18L139.65 663.11L140.87 663.11L142.09 663.11L143.3 663.11L144.52 663.11L145.74 648.18L146.96 663.11L148.17 663.11L149.39 663.11L150.61 663.11L151.83 663.11L153.04 663.11L154.26 663.11L155.48 663.11L156.7 663.11L157.91 663.11L159.13 663.11L160.35 663.11L161.57 663.11L162.78 663.11L164 663.11L165.22 648.18L166.43 663.11L167.65 663.11L168.87 663.11L170.09 663.11L171.3 663.11L172.52 663.11L173.74 663.11L174.96 663.11L176.17 663.11L177.39 663.11L178.61 663.11L179.83 663.11L181.04 663.11L182.26 663.11L183.48 648.18L184.7 680L185.91 663.11L187.13 663.11L188.35 663.11L189.57 648.18L190.78 648.18L192 648.18L193.22 648.18L194.43 648.18L195.65 663.11L196.87 663.11L198.09 663.11L199.3 663.11L200.52 663.11L201.74 663.11L202.96 648.18L204.17 663.11L205.39 648.18L206.61 648.18L207.83 663.11L209.04 663.11L210.26 663.11L211.48 663.11L212.7 663.11L213.91 663.11L215.13 648.18L216.35 648.18L217.57 663.11L218.78 663.11L220 648.18L221.22 663.11L222.43 663.11L223.65 663.11L224.87 648.18L226.09 648.18L227.3 663.11L228.52 663.11L229.74 648.18L230.96 663.11L232.17 648.18L233.39 648.18L234.61 663.11L235.83 663.11L237.04 648.18L238.26 648.18L239.48 648.18L240.7 663.11L241.91 663.11L243.13 663.11L244.35 663.11L245.57 663.11L246.78 648.18L248 683L249.22 648.18L250.43 663.11L251.65 663.11L252.87 663.11L254.09 663.11L255.3 663.11L256.52 681L257.74 648.18L258.96 663.11L260.17 663.11L261.39 663.11L262.61 648.18L263.83 663.11L265.04 663.11L266.26 663.11L267.48 663.11L268.7 648.18L269.91 663.11L271.13 683L272.35 663.11L273.57 663.11L274.78 648.18L276 648.18L277.22 663.11L278.43 663.11L279.65 648.18L280.87 663.11L282.09 663.11L283.3 663.11L284.52 663.11L285.74 663.11L286.96 663.11L288.17 663.11L289.39 663.11L290.61 663.11L291.83 663.11L293.04 663.11L294.26 663.11L295.48 663.11L296.7 663.11L297.91 663.11L299.13 663.11L300.35 648.18L301.57 648.18L302.78 663.11L304 663.11L305.22 663.11L306.43 663.11L307.65 663.11L308.87 648.18L310.09 663.11L311.3 663.11L312.52 663.11L313.74 648.18L314.96 648.18L316.17 663.11L317.39 663.11L318.61 663.11L319.83 663.11L321.04 663.11L322.26 663.11L323.48 663.11L324.7 663.11L325.91 663.11L327.13 663.11L328.35 663.11L329.57 663.11L330.78 663.11L332 663.11L333.22 663.11L334.43 663.11L335.65 648.18L336.87 663.11L338.09 648.18L339.3 663.11L340.52 663.11L341.74 663.11L342.96 663.11L344.17 663.11L345.39 663.11L346.61 663.11L347.83 663.11L349.04 663.11L350.26 648.18L351.48 648.18L352.7 648.18L353.91 648.18L355.13 648.18L356.35 663.11L357.57 648.18L358.78 648.18L360 663.11L361.22 663.11L362.43 663.11L363.65 648.18L364.87 648.18L366.09 663.11L367.3 648.18L368.52 663.11L369.74 663.11L370.96 663.11L372.17 663.11L373.39 648.18L374.61 663.11L375.83 648.18L377.04 648.18L378.26 648.18L379.48 614.5L380.7 663.11L381.91 663.11L383.13 663.11L384.35 663.11L385.57 663.11L386.78 663.11L388 648.18L389.22 663.11L390.43 648.18L391.65 663.11L392.87 648.18L394.09 648.18L395.3 663.11L396.52 663.11L397.74 648.18L398.96 663.11L400.17 663.11L401.39 663.11L402.61 663.11L403.83 663.11L405.04 663.11L406.26 663.11L407.48 663.11L408.7 648.18L409.91 663.11L411.13 663.11L412.35 663.11L413.57 648.18L414.78 663.11L416 663.11L417.22 663.11L418.43 663.11L419.65 663.11L420.87 663.11L422.09 663.11L423.3 663.11L424.52 663.11L425.74 663.11L426.96 663.11L428.17 648.18L429.39 663.11L430.61 663.11L431.83 663.11L433.04 663.11L434.26 663.11L435.48 663.11L436.7 648.18L437.91 648.18L439.13 648.18L440.35 663.11L441.57 663.11L442.78 663.11L444 648.18L445.22 648.18L446.43 648.18L447.65 663.11L448.87 663.11L450.09 663.11L451.3 663.11L452.52 663.11L453.74 648.18L454.96 648.18L456.17 648.18L457.39 663.11L458.61 663.11L459.83 663.11L461.04 663.11L462.26 663.11L463.48 663.11L464.7 663.11L465.91 663.11L467.13 663.11L468.35 663.11L469.57 663.11L470.78 663.11L472 663.11L473.22 663.11L474.43 663.11L475.65 663.11L476.87 663.11L478.09 584.5L479.3 663.11L480.52 663.11L481.74 648.18L482.96 663.11L484.17 663.11L485.39 648.18L486.61 648.18L487.83 648.18L489.04 648.18L490.26 663.11L491.48 648.18L492.7 648.18L493.91 648.18L495.13 648.18L496.35 663.11L497.57 648.18L498.78 648.18L500 663.11L501.22 663.11L502.43 663.11L503.65 663.11L504.87 648.18L506.09 663.11L507.3 648.18L508.52 648.18L509.74 648.18L510.96 648.18L512.17 663.11L513.39 663.11L514.61 663.11L515.83 663.11L517.04 663.11L518.26 648.18L519.48 663.11L520.7 663.11L521.91 663.11L523.13 663.11L524.35 663.11L525.57 663.11L526.78 663.11L528 648.18L529.22 614.5L530.43 648.18L531.65 663.11L532.87 663.11L534.09 663.11L535.3 648.18L536.52 648.18L537.74 663.11L538.96 663.11L540.17 663.11L541.39 663.11L542.61 663.11L543.83 663.11L545.04 663.11L546.26 663.11L547.48 663.11L548.7 663.11L549.91 663.11L551.13 663.11L552.35 663.11L553.57 648.18L554.78 663.11L556 663.11L557.22 663.11L558.43 648.18L559.65 648.18L560.87 648.18L562.09 648.18L563.3 648.18L564.52 663.11L565.74 648.18L566.96 663.11L568.17 663.11L569.39 663.11L570.61 663.11L571.83 663.11L573.04 663.11L574.26 648.18L575.48 663.11L576.7 663.11L577.91 663.11L579.13 648.18L580.35 663.11L581.57 663.11L582.78 663.11L584 663.11L585.22 640L586.43 663.11L587.65 663.11L588.87 663.11L590.09 648.18L591.3 648.18L592.52 663.11L593.74 663.11L594.96 648.18L596.17 663.11L597.39 648.18L598.61 648.18L599.83 663.11L601.04 648.18L602.26 663.11L603.48 663.11L604.7 663.11L605.91 663.11L607.13 663.11L608.35 663.11L609.57 663.11L610.78 663.11L612 648.18L613.22 663.11L614.43 663.11L615.65 648.18L616.87 663.11L618.09 663.11L619.3 640L620.52 663.11L621.74 663.11L622.96 663.11L624.17 663.11L625.39 663.11L626.61 663.11L627.83 648.18L629.04 663.11L630.26 648.18L631.48 663.11L632.7 663.11L633.91 648.18L635.13 663.11L636.35 663.11L637.57 663.11L638.78 663.11L640 648.18L641.22 648.18L642.43 663.11L643.65 663.11L644.87 663.11L646.09 663.11L647.3 663.11L648.52 648.18L649.74 663.11L650.96 663.11L652.17 663.11L653.39 648.18L654.61 663.11L655.83 648.18L657.04 663.11L658.26 663.11L659.48 663.11L660.7 663.11L661.91 663.11L663.13 663.11L664.35 663.11L665.57 663.11L666.78 663.11L668 663.11L669.22 663.11L670.43 663.11L671.65 663.11L672.87 663.11L674.09 663.11L675.3 663.11L676.52 663.11L677.74 663.11L678.96 663.11L680.17 663.11L681.39 663.11L682.61 648.18L683.83 648.18L685.04 663.11L686.26 663.11L687.48 663.11L688.7 648.18L689.91 663.11L691.13 648.18L692.35 663.11L693.57 663.11L694.78 663.11L696 648.18L697.22 648.18L698.43 663.11L699.65 663.11L700.87 663.11L702.09 648.18L703.3 663.11L704.52 663.11L705.74 663.11L706.96 663.11L708.17 663.11L709.39 663.11L710.61 663.11L711.83 663.11L713.04 663.11L714.26 663.11L715.48 648.18L716.7 663.11L717.91 663.11L719.13 599.5L720.35 663.11L721.57 663.11L722.78 698.57L724 663.11L725.22 663.11L726.43 663.11L727.65 648.18L728.87 698.57L730.09 698.57L731.3 663.11L732.52 698.57L733.74 698.57L734.96 698.57L736.17 648.18L737.39 698.57L738.61 648.18L739.83 663.11L741.04 663.11L742.26 698.57L743.48 698.57L744.7 663.11L745.91 698.57L747.13 698.57L748.35 698.57L749.57 640L750.78 663.11L752 663.11L753.22 663.11L754.43 698.57L755.65 698.57L756.87 698.57L758.09 663.11L759.3 698.57L760.52 663.11L761.74 663.11L762.96 614.5L764.17 698.57L765.39 663.11L766.61 663.11L767.83 663.11L769.04 663.11L770.26 663.11L771.48 663.11L772.7 663.11L773.91 698.57L775.13 698.57L776.35 698.57L777.57 698.57L778.78 648L780 698.57" fill="none" stroke="#b0caf3" stroke-width="1.25" stroke-linejoin="round"/></g><path d="M80 633.6H780" stroke="#f2495c" stroke-width="2" stroke-dasharray="10 10" fill="none"/></svg>
<span class="t" style="left:49.59px;top:553.1px;font-size:12px;color:#ccccdc;letter-spacing:0.378px;">32 s</span>
<span class="t" style="left:56.59px;top:597.59px;font-size:12px;color:#ccccdc;letter-spacing:0.4px;">4 s</span>
<span class="t" style="left:32.08px;top:642.08px;font-size:12px;color:#ccccdc;letter-spacing:0.393px;">500 ms</span>
<span class="t" style="left:28.58px;top:686.57px;font-size:12px;color:#ccccdc;letter-spacing:0.356px;">62.5 ms</span>
<span class="t" style="left:28.58px;top:731.06px;font-size:12px;color:#ccccdc;letter-spacing:0.356px;">7.81 ms</span>
<span class="t" style="left:77.55px;top:761px;font-size:12px;color:#ccccdc;letter-spacing:0.868px;">02:00</span>
<span class="t" style="left:135.55px;top:761px;font-size:12px;color:#ccccdc;letter-spacing:0.868px;">04:00</span>
<span class="t" style="left:194.55px;top:761px;font-size:12px;color:#ccccdc;letter-spacing:0.868px;">06:00</span>
<span class="t" style="left:252.55px;top:761px;font-size:12px;color:#ccccdc;letter-spacing:0.868px;">08:00</span>
<span class="t" style="left:311.55px;top:761px;font-size:12px;color:#ccccdc;letter-spacing:0.868px;">10:00</span>
<span class="t" style="left:369.55px;top:761px;font-size:12px;color:#ccccdc;letter-spacing:0.868px;">12:00</span>
<span class="t" style="left:427.55px;top:761px;font-size:12px;color:#ccccdc;letter-spacing:0.868px;">14:00</span>
<span class="t" style="left:486.55px;top:761px;font-size:12px;color:#ccccdc;letter-spacing:0.868px;">16:00</span>
<span class="t" style="left:544.55px;top:761px;font-size:12px;color:#ccccdc;letter-spacing:0.868px;">18:00</span>
<span class="t" style="left:603.55px;top:761px;font-size:12px;color:#ccccdc;letter-spacing:0.868px;">20:00</span>
<span class="t" style="left:661.55px;top:761px;font-size:12px;color:#ccccdc;letter-spacing:0.868px;">22:00</span>
<span class="t" style="left:719.55px;top:761px;font-size:12px;color:#ccccdc;letter-spacing:0.868px;">00:00</span>
<div class="a" style="left:27.8px;top:785.5px;width:14px;height:4px;border-radius:2px;background:#73bf69"></div>
<span class="t" style="left:50px;top:781.3px;font-size:12px;color:#ccccdc;letter-spacing:0.579px;">50 quantile</span>
<div class="a" style="left:125.2px;top:785.5px;width:14px;height:4px;border-radius:2px;background:#fade2a"></div>
<span class="t" style="left:146.5px;top:781.3px;font-size:12px;color:#ccccdc;letter-spacing:0.579px;">95 quantile</span>
<div class="a" style="left:220.8px;top:785.5px;width:14px;height:4px;border-radius:2px;background:#8ab8ff"></div>
<span class="t" style="left:243px;top:781.3px;font-size:12px;color:#ccccdc;letter-spacing:0.579px;">99 quantile</span>
</div></section>
<section class="p" style="left:805px;top:510px;width:782px;height:296px"><div class="o" style="left:-806px;top:-511px">
<span class="t" style="left:813.5px;top:519.8px;font-size:14px;color:#ccccdc;letter-spacing:0.52px;-webkit-text-stroke:.25px #ccccdc;">Response Status</span>
<svg class="a" style="left:0;top:0" width="1595" height="950" viewBox="0 0 1595 950"><path d="M882 776.5H1345.7M882 719.5H1345.7M882 662.5H1345.7M882 605.5H1345.7M911.5 559.2V780.5M969.5 559.2V780.5M1027.5 559.2V780.5M1085.5 559.2V780.5M1142.5 559.2V780.5M1200.5 559.2V780.5M1258.5 559.2V780.5M1316.5 559.2V780.5" stroke="#2b2e33" stroke-width="1" fill="none"/><path d="M882 768.46L883 768.46L884 768.46L885 768.46L886 771.31L887 768.46L888 768.46L889 768.46L890 768.46L891 768.46L892 768.46L893 768.46L894.01 762.72L895.01 768.46L896.01 768.46L897.01 768.46L898.01 768.46L899.01 768.46L900.01 760.25L901.01 768.46L902.01 768.46L903.01 765.16L904.01 768.46L905.01 768.46L906.01 757.19L907.01 768.46L908.01 768.46L909.01 768.46L910.01 766.53L911.01 768.46L912.01 768.46L913.01 771.31L914.01 768.46L915.01 768.46L916.01 768.46L917.02 771.31L918.02 768.46L919.02 757.24L920.02 768.46L921.02 768.46L922.02 768.46L923.02 768.46L924.02 768.46L925.02 768.46L926.02 768.46L927.02 768.46L928.02 768.46L929.02 766.64L930.02 768.46L931.02 768.46L932.02 771.31L933.02 768.46L934.02 768.46L935.02 768.46L936.02 764.78L937.02 766.49L938.02 768.46L939.02 768.46L940.03 768.46L941.03 768.46L942.03 768.46L943.03 764.59L944.03 768.46L945.03 766.5L946.03 768.46L947.03 771.31L948.03 768.46L949.03 768.46L950.03 768.46L951.03 771.31L952.03 768.46L953.03 768.46L954.03 755.98L955.03 768.46L956.03 768.46L957.03 768.46L958.03 768.46L959.03 768.46L960.03 768.46L961.03 768.46L962.03 768.46L963.03 768.46L964.04 768.46L965.04 771.31L966.04 768.46L967.04 768.46L968.04 768.46L969.04 768.46L970.04 768.46L971.04 768.46L972.04 766.35L973.04 760.41L974.04 768.46L975.04 768.46L976.04 768.46L977.04 768.46L978.04 768.46L979.04 768.46L980.04 768.46L981.04 768.46L982.04 768.46L983.04 768.46L984.04 768.46L985.04 768.46L986.04 768.46L987.05 768.46L988.05 768.46L989.05 768.46L990.05 768.46L991.05 768.46L992.05 768.46L993.05 768.46L994.05 768.46L995.05 768.46L996.05 768.46L997.05 768.46L998.05 768.46L999.05 768.46L1000.05 768.46L1001.05 768.46L1002.05 768.46L1003.05 768.46L1004.05 768.46L1005.05 768.46L1006.05 768.46L1007.05 768.46L1008.05 766.34L1009.05 768.46L1010.06 768.46L1011.06 759.88L1012.06 768.46L1013.06 768.46L1014.06 764.7L1015.06 768.46L1016.06 768.46L1017.06 768.46L1018.06 768.46L1019.06 768.46L1020.06 768.46L1021.06 764.97L1022.06 768.46L1023.06 763.36L1024.06 768.46L1025.06 768.46L1026.06 768.46L1027.06 762.88L1028.06 768.46L1029.06 768.46L1030.06 768.46L1031.06 766.66L1032.06 768.46L1033.07 758.38L1034.07 768.46L1035.07 768.46L1036.07 768.46L1037.07 768.46L1038.07 768.46L1039.07 768.46L1040.07 763.93L1041.07 768.46L1042.07 768.46L1043.07 768.46L1044.07 768.46L1045.07 768.46L1046.07 768.46L1047.07 768.46L1048.07 768.46L1049.07 768.46L1050.07 768.46L1051.07 768.46L1052.07 768.46L1053.07 768.46L1054.07 768.46L1055.07 768.46L1056.08 768.46L1057.08 768.46L1058.08 768.46L1059.08 768.46L1060.08 768.46L1061.08 768.46L1062.08 768.46L1063.08 768.46L1064.08 768.46L1065.08 768.46L1066.08 768.46L1067.08 768.46L1068.08 768.46L1069.08 768.46L1070.08 768.46L1071.08 768.46L1072.08 768.46L1073.08 768.46L1074.08 768.46L1075.08 768.46L1076.08 768.46L1077.08 768.46L1078.08 768.46L1079.09 768.46L1080.09 768.46L1081.09 768.46L1082.09 765.56L1083.09 768.46L1084.09 768.46L1085.09 768.46L1086.09 768.46L1087.09 768.46L1088.09 768.46L1089.09 768.46L1090.09 768.46L1091.09 768.46L1092.09 768.46L1093.09 768.46L1094.09 768.46L1095.09 768.46L1096.09 768.46L1097.09 768.46L1098.09 764.05L1099.09 768.46L1100.09 768.46L1101.09 768.46L1102.1 765.81L1103.1 768.46L1104.1 768.46L1105.1 768.46L1106.1 768.46L1107.1 768.46L1108.1 764.17L1109.1 765.91L1110.1 768.46L1111.1 762.15L1112.1 768.46L1113.1 766.68L1114.1 768.46L1115.1 768.46L1116.1 768.46L1117.1 771.31L1118.1 768.46L1119.1 760.6L1120.1 768.46L1121.1 768.46L1122.1 764.68L1123.1 768.46L1124.1 768.46L1125.1 768.46L1126.11 768.46L1127.11 768.46L1128.11 768.46L1129.11 768.46L1130.11 768.46L1131.11 765.11L1132.11 768.46L1133.11 758.47L1134.11 768.46L1135.11 768.46L1136.11 766.51L1137.11 764.74L1138.11 768.46L1139.11 768.46L1140.11 768.46L1141.11 768.46L1142.11 768.46L1143.11 768.46L1144.11 768.46L1145.11 768.46L1146.11 765.94L1147.11 768.46L1148.11 768.46L1149.12 768.46L1150.12 768.46L1151.12 768.46L1152.12 768.46L1153.12 771.31L1154.12 768.46L1155.12 760.09L1156.12 768.46L1157.12 768.46L1158.12 768.46L1159.12 768.46L1160.12 764.63L1161.12 768.46L1162.12 771.31L1163.12 768.46L1164.12 768.46L1165.12 768.46L1166.12 771.31L1167.12 768.46L1168.12 765.06L1169.12 768.46L1170.12 768.46L1171.12 768.46L1172.13 768.46L1173.13 763.56L1174.13 764.46L1175.13 768.46L1176.13 768.46L1177.13 764.08L1178.13 768.46L1179.13 760.7L1180.13 764.01L1181.13 757.5L1182.13 768.46L1183.13 768.46L1184.13 768.46L1185.13 764.01L1186.13 768.46L1187.13 765.49L1188.13 768.46L1189.13 768.46L1190.13 764.88L1191.13 768.46L1192.13 768.46L1193.13 768.46L1194.13 582.7L1195.14 748L1196.14 768.46L1197.14 760.92L1198.14 768.46L1199.14 749.14L1200.14 758.35L1201.14 754.84L1202.14 768.46L1203.14 771.31L1204.14 768.46L1205.14 768.46L1206.14 768.46L1207.14 768.46L1208.14 766.68L1209.14 768.46L1210.14 766.44L1211.14 768.46L1212.14 765.25L1213.14 768.46L1214.14 768.46L1215.14 768.46L1216.14 768.46L1217.14 768.46L1218.15 768.46L1219.15 768.46L1220.15 768.46L1221.15 768.46L1222.15 764.98L1223.15 768.46L1224.15 768.46L1225.15 764.26L1226.15 768.46L1227.15 768.46L1228.15 768.46L1229.15 768.46L1230.15 768.46L1231.15 760.8L1232.15 766.57L1233.15 758.47L1234.15 768.46L1235.15 768.46L1236.15 768.46L1237.15 771.31L1238.15 768.46L1239.15 768.46L1240.15 768.46L1241.16 768.46L1242.16 768.46L1243.16 768.46L1244.16 768.46L1245.16 768.46L1246.16 768.46L1247.16 765.25L1248.16 768.46L1249.16 768.46L1250.16 768.46L1251.16 762.41L1252.16 768.46L1253.16 765.53L1254.16 768.46L1255.16 768.46L1256.16 765.96L1257.16 764.24L1258.16 768.46L1259.16 768.46L1260.16 768.46L1261.16 768.46L1262.16 768.46L1263.16 768.46L1264.17 768.46L1265.17 768.46L1266.17 768.46L1267.17 768.46L1268.17 768.46L1269.17 768.46L1270.17 771.31L1271.17 768.46L1272.17 768.46L1273.17 765.64L1274.17 768.46L1275.17 757.41L1276.17 768.46L1277.17 768.46L1278.17 768.46L1279.17 764.67L1280.17 771.31L1281.17 768.46L1282.17 768.46L1283.17 765.44L1284.17 768.46L1285.17 768.46L1286.17 768.46L1287.17 768.46L1288.18 768.46L1289.18 755.98L1290.18 759.2L1291.18 768.46L1292.18 768.46L1293.18 763.53L1294.18 761.89L1295.18 768.46L1296.18 768.46L1297.18 768.46L1298.18 768.46L1299.18 768.46L1300.18 765.75L1301.18 768.46L1302.18 765.55L1303.18 768.46L1304.18 760.13L1305.18 768.46L1306.18 768.46L1307.18 765.1L1308.18 765.1L1309.18 759.09L1310.18 765.1L1311.19 757.8L1312.19 765.1L1313.19 765.1L1314.19 765.1L1315.19 757.88L1316.19 765.1L1317.19 765.1L1318.19 765.1L1319.19 765.1L1320.19 765.1L1321.19 765.1L1322.19 765.1L1323.19 765.1L1324.19 762.03L1325.19 761.77L1326.19 759.71L1327.19 765.1L1328.19 763.36L1329.19 761.68L1330.19 758.96L1331.19 757.29L1332.19 758.1L1333.19 761.68L1334.2 758.12L1335.2 759.67L1336.2 759.71L1337.2 759.28L1338.2 761.68L1339.2 764.53L1340.2 759.87L1341.2 761.68L1342.2 753.33L1343.2 764.53L1344.2 759.52L1345.2 757.44L1345.2 776.5L882 776.5Z" fill="#73bf69" fill-opacity=".1"/><path d="M882 768.46L883 768.46L884 768.46L885 768.46L886 771.31L887 768.46L888 768.46L889 768.46L890 768.46L891 768.46L892 768.46L893 768.46L894.01 762.72L895.01 768.46L896.01 768.46L897.01 768.46L898.01 768.46L899.01 768.46L900.01 760.25L901.01 768.46L902.01 768.46L903.01 765.16L904.01 768.46L905.01 768.46L906.01 757.19L907.01 768.46L908.01 768.46L909.01 768.46L910.01 766.53L911.01 768.46L912.01 768.46L913.01 771.31L914.01 768.46L915.01 768.46L916.01 768.46L917.02 771.31L918.02 768.46L919.02 757.24L920.02 768.46L921.02 768.46L922.02 768.46L923.02 768.46L924.02 768.46L925.02 768.46L926.02 768.46L927.02 768.46L928.02 768.46L929.02 766.64L930.02 768.46L931.02 768.46L932.02 771.31L933.02 768.46L934.02 768.46L935.02 768.46L936.02 764.78L937.02 766.49L938.02 768.46L939.02 768.46L940.03 768.46L941.03 768.46L942.03 768.46L943.03 764.59L944.03 768.46L945.03 766.5L946.03 768.46L947.03 771.31L948.03 768.46L949.03 768.46L950.03 768.46L951.03 771.31L952.03 768.46L953.03 768.46L954.03 755.98L955.03 768.46L956.03 768.46L957.03 768.46L958.03 768.46L959.03 768.46L960.03 768.46L961.03 768.46L962.03 768.46L963.03 768.46L964.04 768.46L965.04 771.31L966.04 768.46L967.04 768.46L968.04 768.46L969.04 768.46L970.04 768.46L971.04 768.46L972.04 766.35L973.04 760.41L974.04 768.46L975.04 768.46L976.04 768.46L977.04 768.46L978.04 768.46L979.04 768.46L980.04 768.46L981.04 768.46L982.04 768.46L983.04 768.46L984.04 768.46L985.04 768.46L986.04 768.46L987.05 768.46L988.05 768.46L989.05 768.46L990.05 768.46L991.05 768.46L992.05 768.46L993.05 768.46L994.05 768.46L995.05 768.46L996.05 768.46L997.05 768.46L998.05 768.46L999.05 768.46L1000.05 768.46L1001.05 768.46L1002.05 768.46L1003.05 768.46L1004.05 768.46L1005.05 768.46L1006.05 768.46L1007.05 768.46L1008.05 766.34L1009.05 768.46L1010.06 768.46L1011.06 759.88L1012.06 768.46L1013.06 768.46L1014.06 764.7L1015.06 768.46L1016.06 768.46L1017.06 768.46L1018.06 768.46L1019.06 768.46L1020.06 768.46L1021.06 764.97L1022.06 768.46L1023.06 763.36L1024.06 768.46L1025.06 768.46L1026.06 768.46L1027.06 762.88L1028.06 768.46L1029.06 768.46L1030.06 768.46L1031.06 766.66L1032.06 768.46L1033.07 758.38L1034.07 768.46L1035.07 768.46L1036.07 768.46L1037.07 768.46L1038.07 768.46L1039.07 768.46L1040.07 763.93L1041.07 768.46L1042.07 768.46L1043.07 768.46L1044.07 768.46L1045.07 768.46L1046.07 768.46L1047.07 768.46L1048.07 768.46L1049.07 768.46L1050.07 768.46L1051.07 768.46L1052.07 768.46L1053.07 768.46L1054.07 768.46L1055.07 768.46L1056.08 768.46L1057.08 768.46L1058.08 768.46L1059.08 768.46L1060.08 768.46L1061.08 768.46L1062.08 768.46L1063.08 768.46L1064.08 768.46L1065.08 768.46L1066.08 768.46L1067.08 768.46L1068.08 768.46L1069.08 768.46L1070.08 768.46L1071.08 768.46L1072.08 768.46L1073.08 768.46L1074.08 768.46L1075.08 768.46L1076.08 768.46L1077.08 768.46L1078.08 768.46L1079.09 768.46L1080.09 768.46L1081.09 768.46L1082.09 765.56L1083.09 768.46L1084.09 768.46L1085.09 768.46L1086.09 768.46L1087.09 768.46L1088.09 768.46L1089.09 768.46L1090.09 768.46L1091.09 768.46L1092.09 768.46L1093.09 768.46L1094.09 768.46L1095.09 768.46L1096.09 768.46L1097.09 768.46L1098.09 764.05L1099.09 768.46L1100.09 768.46L1101.09 768.46L1102.1 765.81L1103.1 768.46L1104.1 768.46L1105.1 768.46L1106.1 768.46L1107.1 768.46L1108.1 764.17L1109.1 765.91L1110.1 768.46L1111.1 762.15L1112.1 768.46L1113.1 766.68L1114.1 768.46L1115.1 768.46L1116.1 768.46L1117.1 771.31L1118.1 768.46L1119.1 760.6L1120.1 768.46L1121.1 768.46L1122.1 764.68L1123.1 768.46L1124.1 768.46L1125.1 768.46L1126.11 768.46L1127.11 768.46L1128.11 768.46L1129.11 768.46L1130.11 768.46L1131.11 765.11L1132.11 768.46L1133.11 758.47L1134.11 768.46L1135.11 768.46L1136.11 766.51L1137.11 764.74L1138.11 768.46L1139.11 768.46L1140.11 768.46L1141.11 768.46L1142.11 768.46L1143.11 768.46L1144.11 768.46L1145.11 768.46L1146.11 765.94L1147.11 768.46L1148.11 768.46L1149.12 768.46L1150.12 768.46L1151.12 768.46L1152.12 768.46L1153.12 771.31L1154.12 768.46L1155.12 760.09L1156.12 768.46L1157.12 768.46L1158.12 768.46L1159.12 768.46L1160.12 764.63L1161.12 768.46L1162.12 771.31L1163.12 768.46L1164.12 768.46L1165.12 768.46L1166.12 771.31L1167.12 768.46L1168.12 765.06L1169.12 768.46L1170.12 768.46L1171.12 768.46L1172.13 768.46L1173.13 763.56L1174.13 764.46L1175.13 768.46L1176.13 768.46L1177.13 764.08L1178.13 768.46L1179.13 760.7L1180.13 764.01L1181.13 757.5L1182.13 768.46L1183.13 768.46L1184.13 768.46L1185.13 764.01L1186.13 768.46L1187.13 765.49L1188.13 768.46L1189.13 768.46L1190.13 764.88L1191.13 768.46L1192.13 768.46L1193.13 768.46L1194.13 582.7L1195.14 748L1196.14 768.46L1197.14 760.92L1198.14 768.46L1199.14 749.14L1200.14 758.35L1201.14 754.84L1202.14 768.46L1203.14 771.31L1204.14 768.46L1205.14 768.46L1206.14 768.46L1207.14 768.46L1208.14 766.68L1209.14 768.46L1210.14 766.44L1211.14 768.46L1212.14 765.25L1213.14 768.46L1214.14 768.46L1215.14 768.46L1216.14 768.46L1217.14 768.46L1218.15 768.46L1219.15 768.46L1220.15 768.46L1221.15 768.46L1222.15 764.98L1223.15 768.46L1224.15 768.46L1225.15 764.26L1226.15 768.46L1227.15 768.46L1228.15 768.46L1229.15 768.46L1230.15 768.46L1231.15 760.8L1232.15 766.57L1233.15 758.47L1234.15 768.46L1235.15 768.46L1236.15 768.46L1237.15 771.31L1238.15 768.46L1239.15 768.46L1240.15 768.46L1241.16 768.46L1242.16 768.46L1243.16 768.46L1244.16 768.46L1245.16 768.46L1246.16 768.46L1247.16 765.25L1248.16 768.46L1249.16 768.46L1250.16 768.46L1251.16 762.41L1252.16 768.46L1253.16 765.53L1254.16 768.46L1255.16 768.46L1256.16 765.96L1257.16 764.24L1258.16 768.46L1259.16 768.46L1260.16 768.46L1261.16 768.46L1262.16 768.46L1263.16 768.46L1264.17 768.46L1265.17 768.46L1266.17 768.46L1267.17 768.46L1268.17 768.46L1269.17 768.46L1270.17 771.31L1271.17 768.46L1272.17 768.46L1273.17 765.64L1274.17 768.46L1275.17 757.41L1276.17 768.46L1277.17 768.46L1278.17 768.46L1279.17 764.67L1280.17 771.31L1281.17 768.46L1282.17 768.46L1283.17 765.44L1284.17 768.46L1285.17 768.46L1286.17 768.46L1287.17 768.46L1288.18 768.46L1289.18 755.98L1290.18 759.2L1291.18 768.46L1292.18 768.46L1293.18 763.53L1294.18 761.89L1295.18 768.46L1296.18 768.46L1297.18 768.46L1298.18 768.46L1299.18 768.46L1300.18 765.75L1301.18 768.46L1302.18 765.55L1303.18 768.46L1304.18 760.13L1305.18 768.46L1306.18 768.46L1307.18 765.1L1308.18 765.1L1309.18 759.09L1310.18 765.1L1311.19 757.8L1312.19 765.1L1313.19 765.1L1314.19 765.1L1315.19 757.88L1316.19 765.1L1317.19 765.1L1318.19 765.1L1319.19 765.1L1320.19 765.1L1321.19 765.1L1322.19 765.1L1323.19 765.1L1324.19 762.03L1325.19 761.77L1326.19 759.71L1327.19 765.1L1328.19 763.36L1329.19 761.68L1330.19 758.96L1331.19 757.29L1332.19 758.1L1333.19 761.68L1334.2 758.12L1335.2 759.67L1336.2 759.71L1337.2 759.28L1338.2 761.68L1339.2 764.53L1340.2 759.87L1341.2 761.68L1342.2 753.33L1343.2 764.53L1344.2 759.52L1345.2 757.44" fill="none" stroke="#73bf69" stroke-width="1"/><path d="M1037.07 776.5L1038.07 773.33L1039.07 776.5M1200.14 776.5L1201.14 773.48L1202.14 776.5M1283.17 776.5L1284.17 772.66L1285.17 776.5M1297.18 776.5L1298.18 772.56L1299.18 776.5M1299.18 776.5L1300.18 773.32L1301.18 776.5M1331.19 776.5L1332.19 772.24L1333.19 776.5" fill="none" stroke="#fade2a" stroke-width="1"/><path d="M1029.06 776.5L1030.06 773.36L1031.06 776.5M1085.09 776.5L1086.09 774.42L1087.09 776.5M1282.17 776.5L1283.17 772.88L1284.17 776.5" fill="none" stroke="#ff780a" stroke-width="1"/><path d="M974.04 776.5L975.04 772.23L976.04 776.5M1118.1 776.5L1119.1 773.21L1120.1 776.5M1190.13 776.5L1191.13 774.42L1192.13 776.5M1232.15 776.5L1233.15 773.98L1234.15 776.5M1280.17 776.5L1281.17 772.79L1282.17 776.5" fill="none" stroke="#f2495c" stroke-width="1"/><path d="M1051.07 776.5L1052.07 773.13L1053.07 776.5M1082.09 776.5L1083.09 772.4L1084.09 776.5M1205.14 776.5L1206.14 773.71L1207.14 776.5M1308.18 776.5L1309.18 772.93L1310.18 776.5M1323.19 776.5L1324.19 772.53L1325.19 776.5" fill="none" stroke="#8ab8ff" stroke-width="1"/><path d="M882 776.5L883 776.5L884 776.5L885 776.5L886 776.5L887 776.5L888 776.5L889 776.5L890 776.5L891 776.5L892 773.4L893 776.5L894.01 776.5L895.01 776.5L896.01 776.5L897.01 776.5L898.01 776.5L899.01 773.19L900.01 774.86L901.01 776.5L902.01 772.88L903.01 776.5L904.01 776.5L905.01 776.5L906.01 776.5L907.01 776.5L908.01 776.5L909.01 776.5L910.01 776.5L911.01 776.5L912.01 776.5L913.01 776.5L914.01 776.5L915.01 776.5L916.01 776.5L917.02 776.5L918.02 776.5L919.02 776.5L920.02 776.5L921.02 772.93L922.02 776.5L923.02 776.5L924.02 776.5L925.02 776.5L926.02 776.5L927.02 776.5L928.02 776.5L929.02 776.5L930.02 776.5L931.02 776.5L932.02 776.5L933.02 776.5L934.02 776.5L935.02 776.5L936.02 776.5L937.02 776.5L938.02 776.5L939.02 776.5L940.03 776.5L941.03 776.5L942.03 776.5L943.03 776.5L944.03 776.5L945.03 776.5L946.03 773.15L947.03 776.5L948.03 776.5L949.03 776.5L950.03 776.5L951.03 776.5L952.03 776.5L953.03 776.5L954.03 776.5L955.03 776.5L956.03 776.5L957.03 773.05L958.03 776.5L959.03 776.5L960.03 776.5L961.03 776.5L962.03 776.5L963.03 776.5L964.04 776.5L965.04 776.5L966.04 776.5L967.04 776.5L968.04 776.5L969.04 772.57L970.04 776.5L971.04 776.5L972.04 776.5L973.04 776.5L974.04 776.5L975.04 776.5L976.04 776.5L977.04 776.5L978.04 776.5L979.04 776.5L980.04 776.5L981.04 776.5L982.04 773.06L983.04 776.5L984.04 776.5L985.04 776.5L986.04 776.5L987.05 776.5L988.05 774.69L989.05 774.56L990.05 776.5L991.05 776.5L992.05 776.5L993.05 773.44L994.05 776.5L995.05 776.5L996.05 776.5L997.05 776.5L998.05 776.5L999.05 776.5L1000.05 776.5L1001.05 776.5L1002.05 776.5L1003.05 776.5L1004.05 776.5L1005.05 776.5L1006.05 773.67L1007.05 776.5L1008.05 776.5L1009.05 776.5L1010.06 776.5L1011.06 776.5L1012.06 776.5L1013.06 776.5L1014.06 776.5L1015.06 776.5L1016.06 776.5L1017.06 776.5L1018.06 776.5L1019.06 776.5L1020.06 775.01L1021.06 776.5L1022.06 776.5L1023.06 776.5L1024.06 776.5L1025.06 776.5L1026.06 776.5L1027.06 776.5L1028.06 776.5L1029.06 776.5L1030.06 776.5L1031.06 776.5L1032.06 776.5L1033.07 776.5L1034.07 776.5L1035.07 776.5L1036.07 776.5L1037.07 776.5L1038.07 776.5L1039.07 776.5L1040.07 776.5L1041.07 776.5L1042.07 776.5L1043.07 776.5L1044.07 776.5L1045.07 776.5L1046.07 776.5L1047.07 776.5L1048.07 776.5L1049.07 776.5L1050.07 776.5L1051.07 774.5L1052.07 776.5L1053.07 776.5L1054.07 776.5L1055.07 776.5L1056.08 776.5L1057.08 776.5L1058.08 776.5L1059.08 776.5L1060.08 776.5L1061.08 776.5L1062.08 776.5L1063.08 776.5L1064.08 776.5L1065.08 776.5L1066.08 776.5L1067.08 776.5L1068.08 776.5L1069.08 776.5L1070.08 776.5L1071.08 776.5L1072.08 776.5L1073.08 776.5L1074.08 776.5L1075.08 776.5L1076.08 776.5L1077.08 776.5L1078.08 776.5L1079.09 776.5L1080.09 776.5L1081.09 776.5L1082.09 776.5L1083.09 776.5L1084.09 776.5L1085.09 776.5L1086.09 776.5L1087.09 776.5L1088.09 776.5L1089.09 776.5L1090.09 776.5L1091.09 776.5L1092.09 776.5L1093.09 776.5L1094.09 776.5L1095.09 776.5L1096.09 776.5L1097.09 776.5L1098.09 776.5L1099.09 776.5L1100.09 776.5L1101.09 776.5L1102.1 773.91L1103.1 776.5L1104.1 776.5L1105.1 776.5L1106.1 776.5L1107.1 776.5L1108.1 776.5L1109.1 776.5L1110.1 773.15L1111.1 776.5L1112.1 776.5L1113.1 776.5L1114.1 772.71L1115.1 776.5L1116.1 776.5L1117.1 776.5L1118.1 776.5L1119.1 776.5L1120.1 776.5L1121.1 776.5L1122.1 776.5L1123.1 776.5L1124.1 776.5L1125.1 776.5L1126.11 776.5L1127.11 776.5L1128.11 776.5L1129.11 776.5L1130.11 776.5L1131.11 776.5L1132.11 772.66L1133.11 776.5L1134.11 776.5L1135.11 776.5L1136.11 776.5L1137.11 776.5L1138.11 776.5L1139.11 776.5L1140.11 776.5L1141.11 776.5L1142.11 776.5L1143.11 772.61L1144.11 776.5L1145.11 776.5L1146.11 776.5L1147.11 776.5L1148.11 776.5L1149.12 776.5L1150.12 776.5L1151.12 776.5L1152.12 776.5L1153.12 776.5L1154.12 776.5L1155.12 776.5L1156.12 776.5L1157.12 776.5L1158.12 772.56L1159.12 776.5L1160.12 773.69L1161.12 776.5L1162.12 776.5L1163.12 776.5L1164.12 776.5L1165.12 776.5L1166.12 776.5L1167.12 776.5L1168.12 776.5L1169.12 776.5L1170.12 776.5L1171.12 776.5L1172.13 776.5L1173.13 776.5L1174.13 776.5L1175.13 776.5L1176.13 776.5L1177.13 776.5L1178.13 773.71L1179.13 773.91L1180.13 776.5L1181.13 776.5L1182.13 774.53L1183.13 776.5L1184.13 776.5L1185.13 776.5L1186.13 776.5L1187.13 776.5L1188.13 776.5L1189.13 776.5L1190.13 776.5L1191.13 776.5L1192.13 776.5L1193.13 776.5L1194.13 706.96L1195.14 776.5L1196.14 776.5L1197.14 776.5L1198.14 776.5L1199.14 776.5L1200.14 776.5L1201.14 776.5L1202.14 776.5L1203.14 776.5L1204.14 776.5L1205.14 776.5L1206.14 776.5L1207.14 776.5L1208.14 776.5L1209.14 776.5L1210.14 774.93L1211.14 776.5L1212.14 776.5L1213.14 776.5L1214.14 776.5L1215.14 776.5L1216.14 776.5L1217.14 772.63L1218.15 776.5L1219.15 776.5L1220.15 776.5L1221.15 776.5L1222.15 776.5L1223.15 776.5L1224.15 776.5L1225.15 776.5L1226.15 776.5L1227.15 776.5L1228.15 776.5L1229.15 776.5L1230.15 776.5L1231.15 776.5L1232.15 776.5L1233.15 776.5L1234.15 773.01L1235.15 776.5L1236.15 774.31L1237.15 776.5L1238.15 776.5L1239.15 776.5L1240.15 776.5L1241.16 776.5L1242.16 776.5L1243.16 776.5L1244.16 776.5L1245.16 776.5L1246.16 774.72L1247.16 776.5L1248.16 776.5L1249.16 776.5L1250.16 776.5L1251.16 776.5L1252.16 776.5L1253.16 776.5L1254.16 776.5L1255.16 776.5L1256.16 776.5L1257.16 776.5L1258.16 776.5L1259.16 776.5L1260.16 776.5L1261.16 776.5L1262.16 776.5L1263.16 776.5L1264.17 776.5L1265.17 776.5L1266.17 776.5L1267.17 776.5L1268.17 776.5L1269.17 776.5L1270.17 772.79L1271.17 776.5L1272.17 776.5L1273.17 776.5L1274.17 776.5L1275.17 776.5L1276.17 773.6L1277.17 776.5L1278.17 776.5L1279.17 776.5L1280.17 776.5L1281.17 776.5L1282.17 776.5L1283.17 776.5L1284.17 776.5L1285.17 776.5L1286.17 776.5L1287.17 776.5L1288.18 776.5L1289.18 776.5L1290.18 776.5L1291.18 776.5L1292.18 776.5L1293.18 776.5L1294.18 776.5L1295.18 776.5L1296.18 685.3L1297.18 765.1L1298.18 776.5L1299.18 776.5L1300.18 776.5L1301.18 776.5L1302.18 776.5L1303.18 776.5L1304.18 776.5L1305.18 776.5L1306.18 776.5L1307.18 776.5L1308.18 776.5L1309.18 775.1L1310.18 776.5L1311.19 776.5L1312.19 776.5L1313.19 776.5L1314.19 776.5L1315.19 776.5L1316.19 776.5L1317.19 775.13L1318.19 776.5L1319.19 776.5L1320.19 776.5L1321.19 776.5L1322.19 772.99L1323.19 776.5L1324.19 776.5L1325.19 776.5L1326.19 776.5L1327.19 776.5L1328.19 776.5L1329.19 776.5L1330.19 776.5L1331.19 776.5L1332.19 776.5L1333.19 776.5L1334.2 776.5L1335.2 776.5L1336.2 776.5L1337.2 776.5L1338.2 776.5L1339.2 776.5L1340.2 776.5L1341.2 776.5L1342.2 776.5L1343.2 776.5L1344.2 776.5L1345.2 776.5L1345.2 776.5L882 776.5Z" fill="#5794f2" fill-opacity=".1"/><path d="M882 776.5L883 776.5L884 776.5L885 776.5L886 776.5L887 776.5L888 776.5L889 776.5L890 776.5L891 776.5L892 773.4L893 776.5L894.01 776.5L895.01 776.5L896.01 776.5L897.01 776.5L898.01 776.5L899.01 773.19L900.01 774.86L901.01 776.5L902.01 772.88L903.01 776.5L904.01 776.5L905.01 776.5L906.01 776.5L907.01 776.5L908.01 776.5L909.01 776.5L910.01 776.5L911.01 776.5L912.01 776.5L913.01 776.5L914.01 776.5L915.01 776.5L916.01 776.5L917.02 776.5L918.02 776.5L919.02 776.5L920.02 776.5L921.02 772.93L922.02 776.5L923.02 776.5L924.02 776.5L925.02 776.5L926.02 776.5L927.02 776.5L928.02 776.5L929.02 776.5L930.02 776.5L931.02 776.5L932.02 776.5L933.02 776.5L934.02 776.5L935.02 776.5L936.02 776.5L937.02 776.5L938.02 776.5L939.02 776.5L940.03 776.5L941.03 776.5L942.03 776.5L943.03 776.5L944.03 776.5L945.03 776.5L946.03 773.15L947.03 776.5L948.03 776.5L949.03 776.5L950.03 776.5L951.03 776.5L952.03 776.5L953.03 776.5L954.03 776.5L955.03 776.5L956.03 776.5L957.03 773.05L958.03 776.5L959.03 776.5L960.03 776.5L961.03 776.5L962.03 776.5L963.03 776.5L964.04 776.5L965.04 776.5L966.04 776.5L967.04 776.5L968.04 776.5L969.04 772.57L970.04 776.5L971.04 776.5L972.04 776.5L973.04 776.5L974.04 776.5L975.04 776.5L976.04 776.5L977.04 776.5L978.04 776.5L979.04 776.5L980.04 776.5L981.04 776.5L982.04 773.06L983.04 776.5L984.04 776.5L985.04 776.5L986.04 776.5L987.05 776.5L988.05 774.69L989.05 774.56L990.05 776.5L991.05 776.5L992.05 776.5L993.05 773.44L994.05 776.5L995.05 776.5L996.05 776.5L997.05 776.5L998.05 776.5L999.05 776.5L1000.05 776.5L1001.05 776.5L1002.05 776.5L1003.05 776.5L1004.05 776.5L1005.05 776.5L1006.05 773.67L1007.05 776.5L1008.05 776.5L1009.05 776.5L1010.06 776.5L1011.06 776.5L1012.06 776.5L1013.06 776.5L1014.06 776.5L1015.06 776.5L1016.06 776.5L1017.06 776.5L1018.06 776.5L1019.06 776.5L1020.06 775.01L1021.06 776.5L1022.06 776.5L1023.06 776.5L1024.06 776.5L1025.06 776.5L1026.06 776.5L1027.06 776.5L1028.06 776.5L1029.06 776.5L1030.06 776.5L1031.06 776.5L1032.06 776.5L1033.07 776.5L1034.07 776.5L1035.07 776.5L1036.07 776.5L1037.07 776.5L1038.07 776.5L1039.07 776.5L1040.07 776.5L1041.07 776.5L1042.07 776.5L1043.07 776.5L1044.07 776.5L1045.07 776.5L1046.07 776.5L1047.07 776.5L1048.07 776.5L1049.07 776.5L1050.07 776.5L1051.07 774.5L1052.07 776.5L1053.07 776.5L1054.07 776.5L1055.07 776.5L1056.08 776.5L1057.08 776.5L1058.08 776.5L1059.08 776.5L1060.08 776.5L1061.08 776.5L1062.08 776.5L1063.08 776.5L1064.08 776.5L1065.08 776.5L1066.08 776.5L1067.08 776.5L1068.08 776.5L1069.08 776.5L1070.08 776.5L1071.08 776.5L1072.08 776.5L1073.08 776.5L1074.08 776.5L1075.08 776.5L1076.08 776.5L1077.08 776.5L1078.08 776.5L1079.09 776.5L1080.09 776.5L1081.09 776.5L1082.09 776.5L1083.09 776.5L1084.09 776.5L1085.09 776.5L1086.09 776.5L1087.09 776.5L1088.09 776.5L1089.09 776.5L1090.09 776.5L1091.09 776.5L1092.09 776.5L1093.09 776.5L1094.09 776.5L1095.09 776.5L1096.09 776.5L1097.09 776.5L1098.09 776.5L1099.09 776.5L1100.09 776.5L1101.09 776.5L1102.1 773.91L1103.1 776.5L1104.1 776.5L1105.1 776.5L1106.1 776.5L1107.1 776.5L1108.1 776.5L1109.1 776.5L1110.1 773.15L1111.1 776.5L1112.1 776.5L1113.1 776.5L1114.1 772.71L1115.1 776.5L1116.1 776.5L1117.1 776.5L1118.1 776.5L1119.1 776.5L1120.1 776.5L1121.1 776.5L1122.1 776.5L1123.1 776.5L1124.1 776.5L1125.1 776.5L1126.11 776.5L1127.11 776.5L1128.11 776.5L1129.11 776.5L1130.11 776.5L1131.11 776.5L1132.11 772.66L1133.11 776.5L1134.11 776.5L1135.11 776.5L1136.11 776.5L1137.11 776.5L1138.11 776.5L1139.11 776.5L1140.11 776.5L1141.11 776.5L1142.11 776.5L1143.11 772.61L1144.11 776.5L1145.11 776.5L1146.11 776.5L1147.11 776.5L1148.11 776.5L1149.12 776.5L1150.12 776.5L1151.12 776.5L1152.12 776.5L1153.12 776.5L1154.12 776.5L1155.12 776.5L1156.12 776.5L1157.12 776.5L1158.12 772.56L1159.12 776.5L1160.12 773.69L1161.12 776.5L1162.12 776.5L1163.12 776.5L1164.12 776.5L1165.12 776.5L1166.12 776.5L1167.12 776.5L1168.12 776.5L1169.12 776.5L1170.12 776.5L1171.12 776.5L1172.13 776.5L1173.13 776.5L1174.13 776.5L1175.13 776.5L1176.13 776.5L1177.13 776.5L1178.13 773.71L1179.13 773.91L1180.13 776.5L1181.13 776.5L1182.13 774.53L1183.13 776.5L1184.13 776.5L1185.13 776.5L1186.13 776.5L1187.13 776.5L1188.13 776.5L1189.13 776.5L1190.13 776.5L1191.13 776.5L1192.13 776.5L1193.13 776.5L1194.13 706.96L1195.14 776.5L1196.14 776.5L1197.14 776.5L1198.14 776.5L1199.14 776.5L1200.14 776.5L1201.14 776.5L1202.14 776.5L1203.14 776.5L1204.14 776.5L1205.14 776.5L1206.14 776.5L1207.14 776.5L1208.14 776.5L1209.14 776.5L1210.14 774.93L1211.14 776.5L1212.14 776.5L1213.14 776.5L1214.14 776.5L1215.14 776.5L1216.14 776.5L1217.14 772.63L1218.15 776.5L1219.15 776.5L1220.15 776.5L1221.15 776.5L1222.15 776.5L1223.15 776.5L1224.15 776.5L1225.15 776.5L1226.15 776.5L1227.15 776.5L1228.15 776.5L1229.15 776.5L1230.15 776.5L1231.15 776.5L1232.15 776.5L1233.15 776.5L1234.15 773.01L1235.15 776.5L1236.15 774.31L1237.15 776.5L1238.15 776.5L1239.15 776.5L1240.15 776.5L1241.16 776.5L1242.16 776.5L1243.16 776.5L1244.16 776.5L1245.16 776.5L1246.16 774.72L1247.16 776.5L1248.16 776.5L1249.16 776.5L1250.16 776.5L1251.16 776.5L1252.16 776.5L1253.16 776.5L1254.16 776.5L1255.16 776.5L1256.16 776.5L1257.16 776.5L1258.16 776.5L1259.16 776.5L1260.16 776.5L1261.16 776.5L1262.16 776.5L1263.16 776.5L1264.17 776.5L1265.17 776.5L1266.17 776.5L1267.17 776.5L1268.17 776.5L1269.17 776.5L1270.17 772.79L1271.17 776.5L1272.17 776.5L1273.17 776.5L1274.17 776.5L1275.17 776.5L1276.17 773.6L1277.17 776.5L1278.17 776.5L1279.17 776.5L1280.17 776.5L1281.17 776.5L1282.17 776.5L1283.17 776.5L1284.17 776.5L1285.17 776.5L1286.17 776.5L1287.17 776.5L1288.18 776.5L1289.18 776.5L1290.18 776.5L1291.18 776.5L1292.18 776.5L1293.18 776.5L1294.18 776.5L1295.18 776.5L1296.18 685.3L1297.18 765.1L1298.18 776.5L1299.18 776.5L1300.18 776.5L1301.18 776.5L1302.18 776.5L1303.18 776.5L1304.18 776.5L1305.18 776.5L1306.18 776.5L1307.18 776.5L1308.18 776.5L1309.18 775.1L1310.18 776.5L1311.19 776.5L1312.19 776.5L1313.19 776.5L1314.19 776.5L1315.19 776.5L1316.19 776.5L1317.19 775.13L1318.19 776.5L1319.19 776.5L1320.19 776.5L1321.19 776.5L1322.19 772.99L1323.19 776.5L1324.19 776.5L1325.19 776.5L1326.19 776.5L1327.19 776.5L1328.19 776.5L1329.19 776.5L1330.19 776.5L1331.19 776.5L1332.19 776.5L1333.19 776.5L1334.2 776.5L1335.2 776.5L1336.2 776.5L1337.2 776.5L1338.2 776.5L1339.2 776.5L1340.2 776.5L1341.2 776.5L1342.2 776.5L1343.2 776.5L1344.2 776.5L1345.2 776.5" fill="none" stroke="#6fa3dc" stroke-width="1"/></svg>
<span class="t" style="left:817.4px;top:769.9px;font-size:12px;color:#ccccdc;letter-spacing:0.626px;">0.00 req/s</span>
<span class="t" style="left:817.4px;top:712.9px;font-size:12px;color:#ccccdc;letter-spacing:0.626px;">1.00 req/s</span>
<span class="t" style="left:817.4px;top:655.9px;font-size:12px;color:#ccccdc;letter-spacing:0.626px;">2.00 req/s</span>
<span class="t" style="left:817.4px;top:598.9px;font-size:12px;color:#ccccdc;letter-spacing:0.626px;">3.00 req/s</span>
<span class="t" style="left:894.55px;top:785px;font-size:12px;color:#ccccdc;letter-spacing:0.868px;">03:00</span>
<span class="t" style="left:952.55px;top:785px;font-size:12px;color:#ccccdc;letter-spacing:0.868px;">06:00</span>
<span class="t" style="left:1010.55px;top:785px;font-size:12px;color:#ccccdc;letter-spacing:0.868px;">09:00</span>
<span class="t" style="left:1068.55px;top:785px;font-size:12px;color:#ccccdc;letter-spacing:0.868px;">12:00</span>
<span class="t" style="left:1125.55px;top:785px;font-size:12px;color:#ccccdc;letter-spacing:0.868px;">15:00</span>
<span class="t" style="left:1183.55px;top:785px;font-size:12px;color:#ccccdc;letter-spacing:0.868px;">18:00</span>
<span class="t" style="left:1241.55px;top:785px;font-size:12px;color:#ccccdc;letter-spacing:0.868px;">21:00</span>
<span class="t" style="left:1299.55px;top:785px;font-size:12px;color:#ccccdc;letter-spacing:0.868px;">00:00</span>
<div class="a" style="left:1354px;top:550px;width:224.3px;height:248.4px;overflow:hidden"><span class="t" style="left:30px;top:6.2px;font-size:12px;color:#6e9fff;letter-spacing:0.531px;-webkit-text-stroke:.2px #6e9fff;">Name</span><span class="t" style="left:102.5px;top:6.2px;font-size:12px;color:#6e9fff;letter-spacing:0.628px;-webkit-text-stroke:.2px #6e9fff;">Mean</span><span class="t" style="left:178.4px;top:6.2px;font-size:12px;color:#6e9fff;letter-spacing:0.466px;-webkit-text-stroke:.2px #6e9fff;">Max</span><div class="a" style="left:0;top:24.2px;width:224.3px;height:1px;background:#2a2d32"></div><div class="a" style="left:8.2px;top:33.8px;width:14px;height:4px;border-radius:2px;background:#73bf69"></div><span class="t" style="left:30px;top:30.3px;font-size:12px;color:#ccccdc;letter-spacing:1.14px;">200</span><span class="t" style="left:84px;top:30.3px;font-size:12px;color:#ccccdc;letter-spacing:0.238px;">0.16 req/s</span><span class="t" style="left:156.2px;top:30.3px;font-size:12px;color:#ccccdc;letter-spacing:0.682px;">3.40 req/s</span><div class="a" style="left:0;top:48.05px;width:224.3px;height:1px;background:#2a2d32"></div><div class="a" style="left:8.2px;top:57.65px;width:14px;height:4px;border-radius:2px;background:#fade2a"></div><span class="t" style="left:30px;top:54.15px;font-size:12px;color:#ccccdc;letter-spacing:1.14px;">201</span><span class="t" style="left:80px;top:54.15px;font-size:12px;color:#ccccdc;letter-spacing:0.682px;">0.00 req/s</span><span class="t" style="left:160px;top:54.15px;font-size:12px;color:#ccccdc;letter-spacing:0.26px;">0.13 req/s</span><div class="a" style="left:0;top:71.9px;width:224.3px;height:1px;background:#2a2d32"></div><div class="a" style="left:8.2px;top:81.5px;width:14px;height:4px;border-radius:2px;background:#8ab8ff"></div><span class="t" style="left:30px;top:78px;font-size:12px;color:#ccccdc;letter-spacing:1.14px;">202</span><span class="t" style="left:80px;top:78px;font-size:12px;color:#ccccdc;letter-spacing:0.682px;">0.00 req/s</span><span class="t" style="left:157.4px;top:78px;font-size:12px;color:#ccccdc;letter-spacing:0.549px;">0.07 req/s</span><div class="a" style="left:0;top:95.75px;width:224.3px;height:1px;background:#2a2d32"></div><div class="a" style="left:8.2px;top:105.35px;width:14px;height:4px;border-radius:2px;background:#ff780a"></div><span class="t" style="left:30px;top:101.85px;font-size:12px;color:#ccccdc;letter-spacing:1.14px;">203</span><span class="t" style="left:80px;top:101.85px;font-size:12px;color:#ccccdc;letter-spacing:0.682px;">0.00 req/s</span><span class="t" style="left:157.4px;top:101.85px;font-size:12px;color:#ccccdc;letter-spacing:0.549px;">0.07 req/s</span><div class="a" style="left:0;top:119.6px;width:224.3px;height:1px;background:#2a2d32"></div><div class="a" style="left:8.2px;top:129.2px;width:14px;height:4px;border-radius:2px;background:#f2495c"></div><span class="t" style="left:30px;top:125.7px;font-size:12px;color:#ccccdc;letter-spacing:1.14px;">204</span><span class="t" style="left:80px;top:125.7px;font-size:12px;color:#ccccdc;letter-spacing:0.682px;">0.00 req/s</span><span class="t" style="left:157.4px;top:125.7px;font-size:12px;color:#ccccdc;letter-spacing:0.549px;">0.07 req/s</span><div class="a" style="left:0;top:143.45px;width:224.3px;height:1px;background:#2a2d32"></div><div class="a" style="left:8.2px;top:153.05px;width:14px;height:4px;border-radius:2px;background:#5794f2"></div><span class="t" style="left:30px;top:149.55px;font-size:12px;color:#ccccdc;letter-spacing:1.14px;">301</span><span class="t" style="left:80px;top:149.55px;font-size:12px;color:#ccccdc;letter-spacing:0.682px;">0.00 req/s</span><span class="t" style="left:156.5px;top:149.55px;font-size:12px;color:#ccccdc;letter-spacing:0.649px;">0.20 req/s</span><div class="a" style="left:0;top:167.3px;width:224.3px;height:1px;background:#2a2d32"></div><div class="a" style="left:8.2px;top:176.9px;width:14px;height:4px;border-radius:2px;background:#b877d9"></div><span class="t" style="left:30px;top:173.4px;font-size:12px;color:#ccccdc;letter-spacing:1.14px;">302</span><span class="t" style="left:80px;top:173.4px;font-size:12px;color:#ccccdc;letter-spacing:0.682px;">0.00 req/s</span><span class="t" style="left:156.2px;top:173.4px;font-size:12px;color:#ccccdc;letter-spacing:0.682px;">0.00 req/s</span><div class="a" style="left:0;top:191.15px;width:224.3px;height:1px;background:#2a2d32"></div><div class="a" style="left:8.2px;top:200.75px;width:14px;height:4px;border-radius:2px;background:#705da0"></div><span class="t" style="left:30px;top:197.25px;font-size:12px;color:#ccccdc;letter-spacing:1.14px;">400</span><span class="t" style="left:80px;top:197.25px;font-size:12px;color:#ccccdc;letter-spacing:0.682px;">0.00 req/s</span><span class="t" style="left:156.2px;top:197.25px;font-size:12px;color:#ccccdc;letter-spacing:0.682px;">0.00 req/s</span><div class="a" style="left:0;top:215px;width:224.3px;height:1px;background:#2a2d32"></div><div class="a" style="left:8.2px;top:224.6px;width:14px;height:4px;border-radius:2px;background:#37872d"></div><span class="t" style="left:30px;top:221.1px;font-size:12px;color:#ccccdc;letter-spacing:1.14px;">401</span><span class="t" style="left:80px;top:221.1px;font-size:12px;color:#ccccdc;letter-spacing:0.682px;">0.00 req/s</span><span class="t" style="left:156.2px;top:221.1px;font-size:12px;color:#ccccdc;letter-spacing:0.682px;">0.00 req/s</span><div class="a" style="left:0;top:238.85px;width:224.3px;height:1px;background:#2a2d32"></div><div class="a" style="left:8.2px;top:248.45px;width:14px;height:4px;border-radius:2px;background:#fade2a"></div><span class="t" style="left:30px;top:244.95px;font-size:12px;color:#ccccdc;letter-spacing:1.14px;">403</span><span class="t" style="left:80px;top:244.95px;font-size:12px;color:#ccccdc;letter-spacing:0.682px;">0.00 req/s</span><span class="t" style="left:156.2px;top:244.95px;font-size:12px;color:#ccccdc;letter-spacing:0.682px;">0.00 req/s</span></div>
</div></section>
<section class="p" style="left:15px;top:814px;width:782px;height:296px"><div class="o" style="left:-16px;top:-815px">
<span class="t" style="left:23.5px;top:823.8px;font-size:14px;color:#ccccdc;letter-spacing:0.569px;-webkit-text-stroke:.25px #ccccdc;">Top 20 Views by Response Time (&gt; 1s)</span>
<span class="t" style="left:119px;top:865.1px;font-size:13px;color:#ccccdc;letter-spacing:0.617px;">GET api:github-artifacts</span>
<span class="t" style="left:121px;top:908.2px;font-size:13px;color:#ccccdc;letter-spacing:0.581px;">GET api:bot:filterlist-list</span>
<div class="a" style="left:279.8px;top:855.1px;width:358.1px;height:32.6px;border-radius:2px;background:linear-gradient(90deg,#73bf69 0%,#73bf69 14%,#eab839 46%,#ef9244 68%,#f26b53 85%,#f2495c 100%)"></div>
<div class="a" style="left:279.8px;top:898.3px;width:358.1px;height:31.6px;border-radius:2px;background:linear-gradient(90deg,#73bf69 0%,#73bf69 14%,#eab839 46%,#ef9244 68%,#f26b53 85%,#f2495c 100%)"></div>
<div class="a" style="left:279.8px;top:940.4px;width:354.6px;height:32px;border-radius:2px;background:#22252b"></div>
<div class="a" style="left:279.8px;top:940.4px;width:78.8px;height:32px;border-radius:2px 0 0 2px;background:#73bf69"></div>
<span class="t" style="left:702.3px;top:854.9px;font-size:33.6px;color:#f2495c;letter-spacing:-0.027px;">100</span>
<span class="t" style="left:759.6px;top:866.3px;font-size:19.8px;color:#f2495c;transform:scaleX(.88);transform-origin:0 0;">%</span>
<span class="t" style="left:702.3px;top:898px;font-size:33.6px;color:#f2495c;letter-spacing:-0.027px;">100</span>
<span class="t" style="left:759.6px;top:909.4px;font-size:19.8px;color:#f2495c;transform:scaleX(.88);transform-origin:0 0;">%</span>
<span class="t" style="left:719.4px;top:939.9px;font-size:33.6px;color:#73bf69;letter-spacing:0.831px;">22</span>
</div></section>
<section class="p" style="left:805px;top:814px;width:782px;height:296px"><div class="o" style="left:-806px;top:-815px">
<span class="t" style="left:813.5px;top:823.8px;font-size:14px;color:#ccccdc;letter-spacing:0.609px;-webkit-text-stroke:.25px #ccccdc;">Top Requests</span>
<svg class="a" style="left:0;top:0" width="1595" height="950" viewBox="0 0 1595 950"><path d="M882 863.5H1112.5M882 899.5H1112.5M882 935.5H1112.5M925.5 863V950M982.5 863V950M1039.5 863V950M1097.5 863V950" stroke="#2b2e33" stroke-width="1" fill="none"/><circle cx="1036.2" cy="887.2" r="2.6" fill="#56a64b"/><circle cx="1036.2" cy="935.5" r="2.6" fill="#806eb7"/></svg>
<span class="t" style="left:818.9px;top:856.6px;font-size:12px;color:#ccccdc;letter-spacing:0.46px;">1.50 req/s</span>
<span class="t" style="left:818.9px;top:892.7px;font-size:12px;color:#ccccdc;letter-spacing:0.46px;">1.25 req/s</span>
<span class="t" style="left:818.9px;top:928.8px;font-size:12px;color:#ccccdc;letter-spacing:0.46px;">1.00 req/s</span>
<div class="a" style="left:1120px;top:850px;width:458.2px;height:100px;overflow:hidden"><span class="t" style="left:29.5px;top:9.9px;font-size:12px;color:#6e9fff;letter-spacing:0.531px;-webkit-text-stroke:.2px #6e9fff;">Name</span><span class="t" style="left:433.9px;top:9.9px;font-size:12px;color:#6e9fff;letter-spacing:0.628px;-webkit-text-stroke:.2px #6e9fff;">Mean</span><div class="a" style="left:0;top:28.2px;width:458.2px;height:1px;background:#2a2d32"></div><div class="a" style="left:8.2px;top:37.8px;width:14px;height:4px;border-radius:2px;background:#5195ce"></div><span class="t" style="left:29.5px;top:33.8px;font-size:12px;color:#ccccdc;letter-spacing:0.434px;">GET /events:page</span><span class="t" style="left:415px;top:33.8px;font-size:12px;color:#ccccdc;letter-spacing:0.682px;">0.23 req/s</span><div class="a" style="left:0;top:52.05px;width:458.2px;height:1px;background:#2a2d32"></div><div class="a" style="left:8.2px;top:61.65px;width:14px;height:4px;border-radius:2px;background:#56a64b"></div><span class="t" style="left:29.5px;top:57.65px;font-size:12px;color:#ccccdc;letter-spacing:0.534px;">GET /content:tag</span><span class="t" style="left:418.7px;top:57.65px;font-size:12px;color:#ccccdc;letter-spacing:0.271px;">0.19 req/s</span><div class="a" style="left:0;top:75.9px;width:458.2px;height:1px;background:#2a2d32"></div><div class="a" style="left:8.2px;top:85.5px;width:14px;height:4px;border-radius:2px;background:#806eb7"></div><span class="t" style="left:29.5px;top:81.5px;font-size:12px;color:#ccccdc;letter-spacing:0.512px;">GET /content:page_category</span><span class="t" style="left:418.7px;top:81.5px;font-size:12px;color:#ccccdc;letter-spacing:0.271px;">0.16 req/s</span><div class="a" style="left:0;top:99.75px;width:458.2px;height:1px;background:#2a2d32"></div></div>
</div></section>
</div></body></html>
